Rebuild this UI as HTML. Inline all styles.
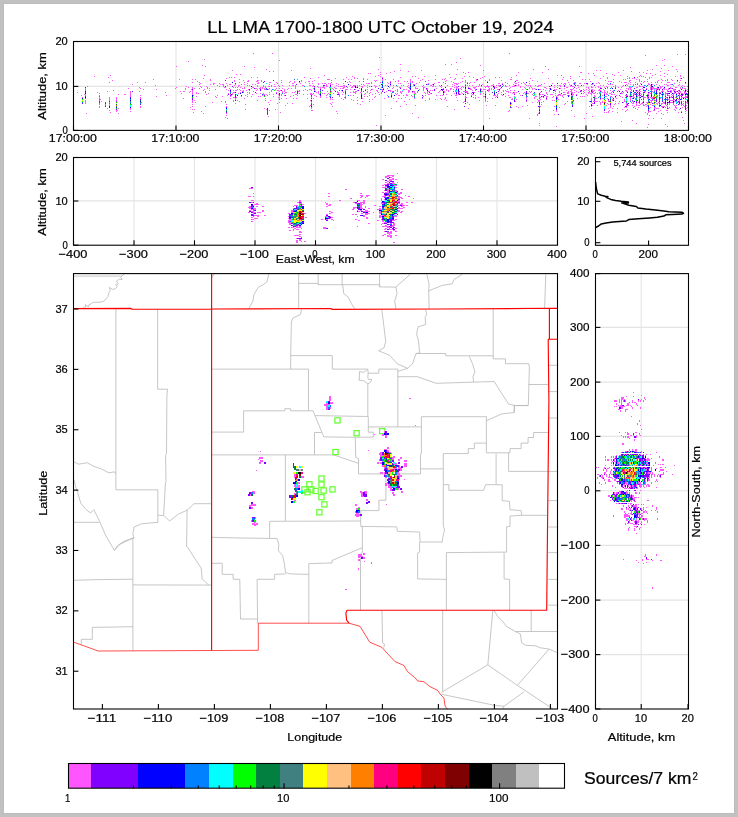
<!DOCTYPE html>
<html><head><meta charset="utf-8"><title>LL LMA 1700-1800 UTC October 19, 2024</title>
<style>html,body{margin:0;padding:0;background:#c1c1c1;}svg{display:block;font-family:"Liberation Sans",sans-serif;}text{font-family:"Liberation Sans",sans-serif;}</style></head><body>
<svg width="738" height="817" viewBox="0 0 738 817">
<rect x="0" y="0" width="738" height="817" fill="#c1c1c1"/>
<rect x="3" y="3" width="732" height="811" fill="#bcbcbc"/>
<rect x="4" y="4" width="730" height="809" fill="#ffffff"/>
<line x1="176.00" y1="41.50" x2="176.00" y2="130.40" stroke="#e4e4e4" stroke-width="1.1"/>
<line x1="278.50" y1="41.50" x2="278.50" y2="130.40" stroke="#e4e4e4" stroke-width="1.1"/>
<line x1="381.00" y1="41.50" x2="381.00" y2="130.40" stroke="#e4e4e4" stroke-width="1.1"/>
<line x1="483.50" y1="41.50" x2="483.50" y2="130.40" stroke="#e4e4e4" stroke-width="1.1"/>
<line x1="586.00" y1="41.50" x2="586.00" y2="130.40" stroke="#e4e4e4" stroke-width="1.1"/>
<line x1="73.50" y1="86.40" x2="688.50" y2="86.40" stroke="#e4e4e4" stroke-width="1.1"/>
<line x1="134.00" y1="157.50" x2="134.00" y2="245.20" stroke="#e4e4e4" stroke-width="1.1"/>
<line x1="194.50" y1="157.50" x2="194.50" y2="245.20" stroke="#e4e4e4" stroke-width="1.1"/>
<line x1="255.00" y1="157.50" x2="255.00" y2="245.20" stroke="#e4e4e4" stroke-width="1.1"/>
<line x1="315.50" y1="157.50" x2="315.50" y2="245.20" stroke="#e4e4e4" stroke-width="1.1"/>
<line x1="376.00" y1="157.50" x2="376.00" y2="245.20" stroke="#e4e4e4" stroke-width="1.1"/>
<line x1="436.50" y1="157.50" x2="436.50" y2="245.20" stroke="#e4e4e4" stroke-width="1.1"/>
<line x1="497.00" y1="157.50" x2="497.00" y2="245.20" stroke="#e4e4e4" stroke-width="1.1"/>
<line x1="73.50" y1="200.90" x2="557.50" y2="200.90" stroke="#e4e4e4" stroke-width="1.1"/>
<line x1="641.20" y1="273.60" x2="641.20" y2="709.00" stroke="#e4e4e4" stroke-width="1.1"/>
<line x1="595.50" y1="327.40" x2="688.50" y2="327.40" stroke="#e4e4e4" stroke-width="1.1"/>
<line x1="595.50" y1="382.10" x2="688.50" y2="382.10" stroke="#e4e4e4" stroke-width="1.1"/>
<line x1="595.50" y1="436.40" x2="688.50" y2="436.40" stroke="#e4e4e4" stroke-width="1.1"/>
<line x1="595.50" y1="490.80" x2="688.50" y2="490.80" stroke="#e4e4e4" stroke-width="1.1"/>
<line x1="595.50" y1="545.40" x2="688.50" y2="545.40" stroke="#e4e4e4" stroke-width="1.1"/>
<line x1="595.50" y1="600.10" x2="688.50" y2="600.10" stroke="#e4e4e4" stroke-width="1.1"/>
<line x1="595.50" y1="654.60" x2="688.50" y2="654.60" stroke="#e4e4e4" stroke-width="1.1"/>
<g fill="none" stroke-linejoin="round">
<path stroke="#b8b8b8" stroke-width="0.8" d="M73.5 276.1 L121.7 276.1 M124.6 273.9 L121.7 276.1 L120.8 277.5 L122.2 279.4 L119.3 279.2 L117.4 280.3 L116.5 282.2 L118.4 283.2 L117.0 285.1 L115.5 284.6 L117.4 286.5 L115.1 288.9 L112.7 289.3 L110.8 288.4 L109.4 287.4 L110.3 290.3 L108.9 292.7 L108.0 296.5 L106.1 298.8 L103.7 301.2 L100.4 302.2 L94.7 302.3 L92.3 302.6 L90.9 304.1 L89.0 304.5 L88.5 306.9 L86.6 305.5 L85.2 304.5 L86.1 306.4 L83.8 307.4 L83.0 308.6 M214.2 273.9 L212.0 277.6 M269.0 273.9 L266.9 281.9 L262.5 285.2 L258.2 287.3 L253.8 294.9 L252.8 301.4 L249.5 307.3 L248.5 308.6 M298.7 273.6 L298.7 308.6 M298.7 283.4 L317.8 283.4 L318.2 284.7 L379.6 284.7 L379.6 286.9 L395.9 287.1 M318.2 273.6 L318.2 284.7 M342.1 273.6 L342.1 284.7 L342.7 284.7 L343.8 293.8 L348.2 297.1 L351.4 303.6 L354.7 308.6 M379.6 273.6 L379.6 286.9 M410.2 274.3 L395.9 287.1 L397.1 293.7 L394.7 300.8 L395.9 308.6 M426.8 274.3 L428.0 279.5 L429.1 284.2 L428.7 290.9 L429.1 308.9 M462.3 274.3 L454.0 279.5 L452.1 283.8 L442.2 285.4 L428.7 290.9 M545.8 274.3 L544.6 308.3 M115.9 309.0 L115.9 489.8 L157.8 489.8 L157.8 522.7 M157.6 309.0 L157.6 389.2 L167.6 389.2 L166.9 395.0 L166.5 453.4 L165.6 455.6 L166.0 481.5 L165.4 483.7 L164.3 503.2 L163.7 515.1 M73.9 462.0 L78.7 464.2 L87.3 462.7 L93.8 466.4 L100.4 468.5 L109.0 472.9 L114.4 471.8 L115.9 474.0 M73.9 479.4 L75.4 485.9 L77.6 492.4 L80.8 503.2 L86.3 509.7 L90.6 513.0 L93.8 509.7 L99.3 520.6 L105.8 535.7 L114.4 550.3 L119.9 544.3 L128.5 540.2 L132.9 537.9 M73.5 522.3 L99.3 522.3 M157.8 515.1 L163.7 515.6 L169.7 521.0 L178.4 514.1 L187.1 510.2 L194.0 503.7 L211.6 503.7 M157.8 522.3 L141.5 523.8 L134.0 527.1 L132.9 533.6 L134.0 537.9 L132.9 538.5 M134.0 537.9 L124.2 541.2 L117.7 545.5 L114.4 550.3 M132.9 537.9 L132.9 650.5 M187.1 510.2 L186.6 546.6 L187.1 546.5 L194.7 558.4 L201.2 568.2 L202.2 579.0 L208.8 585.1 M73.5 580.3 L93.8 579.7 L132.9 579.2 M132.9 584.9 L211.6 585.1 M132.9 626.7 L92.3 627.4 L92.3 639.3 L81.3 639.3 L81.3 644.6 M211.6 369.1 L308.5 369.1 L308.5 410.8 M301.5 309.5 L300.5 314.4 L292.9 318.1 L291.4 322.0 L290.7 355.6 L290.7 369.1 M290.7 355.6 L332.3 355.6 L332.3 369.1 L367.8 369.1 L368.2 373.2 L367.8 377.6 L368.3 379.3 L372.0 379.6 L369.6 383.0 L367.8 383.7 L363.6 380.7 L358.5 380.0 L359.3 379.6 L359.5 371.5 L362.2 372.2 L364.6 371.9 L367.3 369.5 M368.2 373.2 L378.8 373.2 L378.8 369.1 L397.8 369.1 M367.8 383.7 L367.8 416.3 M381.8 309.5 L383.9 326.4 L385.7 341.5 L383.9 348.0 L378.5 350.7 L390.0 355.5 L397.1 363.7 L407.8 368.4 L412.5 363.7 L416.1 353.5 M407.8 368.4 L399.5 370.8 L397.8 371.2 M397.8 369.1 L397.8 426.9 M425.6 309.8 L426.8 313.9 L425.1 317.4 L425.6 324.5 L418.0 326.9 L416.6 334.0 L418.5 341.1 L419.6 353.0 L416.1 353.5 L445.7 353.5 L445.7 355.8 L493.2 355.8 M493.2 309.1 L493.2 358.9 L505.5 358.9 L505.5 363.7 L528.7 363.7 L529.4 367.2 L528.3 405.4 L514.5 405.6 M397.6 376.7 L417.3 376.7 L436.2 383.3 L494.3 381.5 L501.5 393.3 L508.6 404.0 L514.5 405.4 L514.2 412.5 M469.4 356.6 L473.0 364.9 L474.9 372.0 L473.0 376.7 L473.5 381.9 M528.7 384.5 L548.5 384.5 M211.6 432.1 L243.6 432.1 L243.6 410.8 L284.8 410.8 L284.8 408.7 L290.7 408.7 L290.7 410.8 L313.0 410.8 L323.8 436.9 L355.3 437.3 L373.3 437.1 L373.3 432.2 L368.3 432.2 L368.3 416.7 M315.2 415.6 L368.3 416.5 M314.5 432.5 L321.8 432.5 M314.5 432.5 L314.5 454.9 M211.6 454.9 L333.6 454.9 L358.5 463.3 M285.4 454.9 L285.4 521.0 M269.6 521.3 L360.7 521.0 M269.6 521.3 L269.6 538.0 M355.3 437.3 L355.7 457.5 L358.5 458.5 L358.5 473.9 L420.5 473.9 M360.7 510.6 L378.9 510.6 L378.9 500.2 L385.9 500.2 L385.9 473.9 M360.7 510.6 L360.7 525.7 L362.4 526.8 L362.4 552.0 L360.5 554.4 L360.5 610.2 M368.3 426.9 L421.4 426.9 M421.4 416.7 L486.4 416.7 L486.4 452.8 M421.4 416.7 L421.4 453.0 L420.5 455.0 L420.5 473.9 M420.3 468.9 L443.3 468.9 M486.4 420.8 L501.7 413.9 L514.2 412.5 L514.2 405.6 L528.1 405.6 M486.4 452.8 L510.0 452.8 L510.0 448.6 L521.1 448.6 L521.1 443.1 L528.1 443.1 L528.1 437.5 L533.6 437.5 L533.6 432.5 L548.6 432.5 M508.6 452.8 L508.6 471.4 L547.9 471.4 M443.3 453.6 L468.3 453.6 L468.3 448.6 L474.4 448.6 L474.4 443.1 L486.4 443.1 M443.3 453.6 L443.3 526.0 L444.5 530.0 L442.7 537.5 L442.2 542.0 M496.1 453.6 L496.1 484.7 M443.3 484.7 L448.9 484.7 L448.9 490.3 L483.6 490.3 L485.6 484.7 L502.2 484.7 L502.2 500.6 L509.4 501.4 L510.0 509.7 L521.1 510.6 L521.7 515.3 L547.7 515.3 M521.7 515.3 L510.0 516.1 L510.0 526.4 L506.6 526.9 L506.6 552.1 M360.7 526.4 L396.7 526.9 L397.5 531.3 L419.6 532.0 L420.1 542.0 L442.2 542.0 M419.6 542.0 L419.6 552.1 L417.6 553.1 L417.6 578.9 L446.4 579.4 M446.4 552.6 L446.4 610.2 M446.4 552.6 L506.6 552.1 M504.1 552.6 L504.1 578.9 L509.6 579.4 L509.6 610.2 M211.6 537.3 L239.3 538.0 L277.1 538.5 L278.8 544.6 L278.3 550.7 L282.7 555.6 L284.4 564.1 L285.6 572.7 L290.5 573.9 L308.8 574.4 M211.6 563.3 L222.2 563.3 L222.2 574.3 L233.2 574.4 L233.2 579.3 L239.8 579.3 L240.5 619.0 L257.6 619.0 M285.6 573.9 L274.6 574.4 L274.6 579.3 L257.1 579.3 L257.6 623.2 M308.8 623.2 L308.8 563.7 L332.0 562.9 L332.0 560.5 L362.4 547.6 M548.3 365.3 L557.5 365.3 M548.3 391.6 L557.5 391.6 M548.3 418.0 L557.5 418.0 M548.3 471.4 L557.5 471.4 M548.3 500.6 L557.5 500.6 M548.3 527.0 L557.5 527.0 M548.3 552.6 L557.5 552.6 M548.3 579.4 L557.5 579.4 M548.3 605.2 L557.5 605.2 M382.0 611.0 L382.6 642.8 L384.5 644.1 L383.8 647.5 M442.7 610.2 L442.7 691.7 M492.8 610.7 L487.8 664.9 M531.2 610.2 L531.2 631.5 M515.4 631.5 L557.5 631.5 M494.1 610.7 L497.8 616.5 L502.8 621.5 L506.6 626.5 L515.4 631.5 L520.4 634.0 L521.6 642.8 L525.4 645.3 L535.4 645.8 L540.4 647.8 L549.2 649.1 L557.5 652.8 M487.8 664.9 L441.4 692.4 M487.8 664.9 L517.4 685.4 L553.0 709.0 M549.2 649.1 L517.4 685.4 M441.4 694.2 L495.3 705.5 L504.1 706.2 L524.1 691.7 M504.1 706.2 L502.5 709.0"/>
<path stroke="#ff0000" stroke-width="0.7" d="M73.5 642.1 L98.2 651.0 L211.6 650.5 L258.3 650.3 L258.3 623.2 L349.0 623.2 M349.0 623.2 L360.0 626.3 L369.8 642.3 L381.7 647.2 L388.0 654.1 L395.0 661.6 L403.8 665.4 L407.6 671.6 L415.1 677.9 L417.6 680.9 L423.9 681.7 L430.1 686.7 L437.7 690.4 L440.2 694.2 L443.9 698.0 L445.2 706.7 L447.7 709.0"/>
<path stroke="#ff0000" stroke-width="1.15" d="M73.5 308.6 L131.0 308.4 L132.0 309.3 L212.0 309.0 L331.0 308.5 L332.0 309.3 L440.0 309.0 L549.4 308.3 L557.5 308.3 M211.6 273.6 L211.6 650.5 M549.4 308.3 L549.4 339.2 M557.5 339.2 L548.2 339.2 L548.9 400.0 L547.5 530.0 L546.7 610.2 L347.1 610.2 L345.9 612.9 L346.6 620.2 L349.0 623.2"/>
</g>
<g fill="none" stroke="#66ff33" stroke-width="1.25">
<rect x="334.9" y="417.8" width="5.2" height="5.2"/>
<rect x="354.0" y="430.6" width="5.2" height="5.2"/>
<rect x="332.9" y="449.5" width="5.2" height="5.2"/>
<rect x="318.9" y="475.9" width="5.2" height="5.2"/>
<rect x="306.8" y="481.7" width="5.2" height="5.2"/>
<rect x="318.9" y="482.0" width="5.2" height="5.2"/>
<rect x="301.8" y="486.8" width="5.2" height="5.2"/>
<rect x="308.7" y="486.8" width="5.2" height="5.2"/>
<rect x="313.0" y="488.4" width="5.2" height="5.2"/>
<rect x="321.0" y="487.9" width="5.2" height="5.2"/>
<rect x="329.9" y="486.8" width="5.2" height="5.2"/>
<rect x="304.9" y="489.6" width="5.2" height="5.2"/>
<rect x="318.9" y="494.6" width="5.2" height="5.2"/>
<rect x="321.8" y="501.8" width="5.2" height="5.2"/>
<rect x="316.8" y="509.7" width="5.2" height="5.2"/>
<rect x="379.6" y="428.5" width="5.2" height="5.2"/>
</g>
<g shape-rendering="crispEdges">
<path fill="#ff55ff" d="M77.00 92.00h1.00v1.00h-1.00zM81.00 95.00h1.00v1.00h-1.00zM82.00 97.00h1.00v1.00h-1.00zM84.00 94.00h1.00v1.00h-1.00zM85.00 88.00h1.00v1.00h-1.00zM85.00 89.00h1.00v1.00h-1.00zM85.00 90.00h1.00v1.00h-1.00zM85.00 100.00h1.00v1.00h-1.00zM85.00 101.00h1.00v1.00h-1.00zM85.00 102.00h1.00v1.00h-1.00zM85.00 103.00h1.00v1.00h-1.00zM86.00 113.00h1.00v1.00h-1.00zM87.00 86.00h1.00v1.00h-1.00zM94.00 76.00h1.00v1.00h-1.00zM97.00 92.00h1.00v1.00h-1.00zM99.00 93.00h1.00v1.00h-1.00zM99.00 95.00h1.00v1.00h-1.00zM99.00 103.00h1.00v1.00h-1.00zM99.00 104.00h1.00v1.00h-1.00zM99.00 106.00h1.00v1.00h-1.00zM99.00 107.00h1.00v1.00h-1.00zM100.00 99.00h1.00v1.00h-1.00zM101.00 101.00h1.00v1.00h-1.00zM107.00 91.00h1.00v1.00h-1.00zM107.00 108.00h1.00v1.00h-1.00zM108.00 77.00h1.00v1.00h-1.00zM109.00 82.00h1.00v1.00h-1.00zM109.00 97.00h1.00v1.00h-1.00zM109.00 98.00h1.00v1.00h-1.00zM109.00 99.00h1.00v1.00h-1.00zM109.00 100.00h1.00v1.00h-1.00zM109.00 105.00h1.00v1.00h-1.00zM109.00 110.00h1.00v1.00h-1.00zM110.00 75.00h1.00v1.00h-1.00zM110.00 112.00h1.00v1.00h-1.00zM112.00 80.00h1.00v1.00h-1.00zM113.00 90.00h1.00v1.00h-1.00zM116.00 97.00h1.00v1.00h-1.00zM116.00 98.00h1.00v1.00h-1.00zM116.00 99.00h1.00v1.00h-1.00zM116.00 100.00h1.00v1.00h-1.00zM116.00 110.00h1.00v1.00h-1.00zM116.00 111.00h1.00v1.00h-1.00zM117.00 110.00h1.00v1.00h-1.00zM118.00 94.00h1.00v1.00h-1.00zM118.00 108.00h1.00v1.00h-1.00zM118.00 113.00h1.00v1.00h-1.00zM124.00 94.00h1.00v1.00h-1.00zM125.00 94.00h1.00v1.00h-1.00zM128.00 88.00h1.00v1.00h-1.00zM130.00 91.00h1.00v1.00h-1.00zM130.00 92.00h1.00v1.00h-1.00zM130.00 93.00h1.00v1.00h-1.00zM130.00 94.00h1.00v1.00h-1.00zM130.00 95.00h1.00v1.00h-1.00zM130.00 96.00h1.00v1.00h-1.00zM130.00 108.00h1.00v1.00h-1.00zM130.00 109.00h1.00v1.00h-1.00zM130.00 111.00h1.00v1.00h-1.00zM131.00 104.00h1.00v1.00h-1.00zM132.00 84.00h1.00v1.00h-1.00zM137.00 82.00h1.00v1.00h-1.00zM139.00 87.00h1.00v1.00h-1.00zM139.00 91.00h1.00v1.00h-1.00zM140.00 88.00h1.00v1.00h-1.00zM140.00 95.00h1.00v1.00h-1.00zM140.00 97.00h1.00v1.00h-1.00zM140.00 98.00h1.00v1.00h-1.00zM140.00 106.00h1.00v1.00h-1.00zM140.00 107.00h1.00v1.00h-1.00zM141.00 102.00h1.00v1.00h-1.00zM143.00 89.00h1.00v1.00h-1.00zM145.00 82.00h1.00v1.00h-1.00zM153.00 79.00h1.00v1.00h-1.00zM155.00 85.00h1.00v1.00h-1.00zM156.00 89.00h1.00v1.00h-1.00zM156.00 96.00h1.00v1.00h-1.00zM165.00 92.00h1.00v1.00h-1.00zM166.00 95.00h1.00v1.00h-1.00zM175.00 88.00h1.00v1.00h-1.00zM176.00 66.00h1.00v1.00h-1.00zM176.00 87.00h1.00v1.00h-1.00zM179.00 79.00h1.00v1.00h-1.00zM180.00 91.00h1.00v1.00h-1.00zM181.00 93.00h1.00v1.00h-1.00zM183.00 91.00h1.00v1.00h-1.00zM183.00 98.00h1.00v1.00h-1.00zM184.00 91.00h1.00v1.00h-1.00zM185.00 88.00h1.00v1.00h-1.00zM185.00 89.00h1.00v1.00h-1.00zM186.00 86.00h1.00v1.00h-1.00zM188.00 61.00h1.00v1.00h-1.00zM188.00 87.00h1.00v1.00h-1.00zM189.00 92.00h1.00v1.00h-1.00zM190.00 91.00h1.00v1.00h-1.00zM190.00 107.00h1.00v1.00h-1.00zM191.00 89.00h1.00v1.00h-1.00zM192.00 79.00h1.00v1.00h-1.00zM192.00 82.00h1.00v1.00h-1.00zM192.00 87.00h1.00v1.00h-1.00zM192.00 88.00h1.00v1.00h-1.00zM192.00 90.00h1.00v1.00h-1.00zM192.00 91.00h1.00v1.00h-1.00zM192.00 92.00h1.00v1.00h-1.00zM192.00 93.00h1.00v1.00h-1.00zM192.00 94.00h1.00v1.00h-1.00zM192.00 100.00h1.00v1.00h-1.00zM192.00 101.00h1.00v1.00h-1.00zM192.00 102.00h1.00v1.00h-1.00zM192.00 104.00h1.00v1.00h-1.00zM192.00 106.00h1.00v1.00h-1.00zM192.00 109.00h1.00v1.00h-1.00zM193.00 95.00h1.00v1.00h-1.00zM193.00 112.00h1.00v1.00h-1.00zM194.00 88.00h1.00v1.00h-1.00zM194.00 100.00h1.00v1.00h-1.00zM194.00 109.00h1.00v1.00h-1.00zM195.00 79.00h1.00v1.00h-1.00zM195.00 102.00h1.00v1.00h-1.00zM196.00 92.00h1.00v1.00h-1.00zM196.00 93.00h1.00v1.00h-1.00zM196.00 96.00h1.00v1.00h-1.00zM197.00 81.00h1.00v1.00h-1.00zM198.00 93.00h1.00v1.00h-1.00zM199.00 82.00h1.00v1.00h-1.00zM199.00 84.00h1.00v1.00h-1.00zM199.00 88.00h1.00v1.00h-1.00zM200.00 83.00h1.00v1.00h-1.00zM200.00 86.00h1.00v1.00h-1.00zM201.00 87.00h1.00v1.00h-1.00zM201.00 111.00h1.00v1.00h-1.00zM202.00 65.00h1.00v1.00h-1.00zM203.00 78.00h1.00v1.00h-1.00zM203.00 90.00h1.00v1.00h-1.00zM203.00 113.00h1.00v1.00h-1.00zM204.00 59.00h1.00v1.00h-1.00zM204.00 75.00h1.00v1.00h-1.00zM204.00 89.00h1.00v1.00h-1.00zM205.00 66.00h1.00v1.00h-1.00zM205.00 91.00h1.00v1.00h-1.00zM205.00 92.00h1.00v1.00h-1.00zM205.00 106.00h1.00v1.00h-1.00zM206.00 86.00h1.00v1.00h-1.00zM206.00 94.00h1.00v1.00h-1.00zM207.00 87.00h1.00v1.00h-1.00zM207.00 88.00h1.00v1.00h-1.00zM208.00 93.00h1.00v1.00h-1.00zM209.00 88.00h1.00v1.00h-1.00zM209.00 90.00h1.00v1.00h-1.00zM210.00 79.00h1.00v1.00h-1.00zM210.00 80.00h1.00v1.00h-1.00zM210.00 84.00h1.00v1.00h-1.00zM212.00 102.00h1.00v1.00h-1.00zM213.00 83.00h1.00v1.00h-1.00zM213.00 84.00h1.00v1.00h-1.00zM214.00 83.00h1.00v1.00h-1.00zM215.00 89.00h1.00v1.00h-1.00zM215.00 96.00h1.00v1.00h-1.00zM216.00 97.00h1.00v1.00h-1.00zM217.00 85.00h1.00v1.00h-1.00zM217.00 95.00h1.00v1.00h-1.00zM219.00 83.00h1.00v1.00h-1.00zM219.00 86.00h1.00v1.00h-1.00zM220.00 84.00h1.00v1.00h-1.00zM221.00 101.00h1.00v1.00h-1.00zM222.00 84.00h1.00v1.00h-1.00zM222.00 96.00h1.00v1.00h-1.00zM223.00 84.00h1.00v1.00h-1.00zM223.00 85.00h1.00v1.00h-1.00zM223.00 86.00h1.00v1.00h-1.00zM224.00 87.00h1.00v1.00h-1.00zM225.00 87.00h1.00v1.00h-1.00zM225.00 101.00h1.00v1.00h-1.00zM225.00 102.00h1.00v1.00h-1.00zM225.00 117.00h1.00v1.00h-1.00zM226.00 78.00h1.00v1.00h-1.00zM226.00 83.00h1.00v1.00h-1.00zM226.00 89.00h1.00v1.00h-1.00zM226.00 104.00h1.00v1.00h-1.00zM226.00 106.00h1.00v1.00h-1.00zM226.00 113.00h1.00v1.00h-1.00zM226.00 115.00h1.00v1.00h-1.00zM227.00 85.00h1.00v1.00h-1.00zM227.00 95.00h1.00v1.00h-1.00zM227.00 118.00h1.00v1.00h-1.00zM228.00 90.00h1.00v1.00h-1.00zM228.00 93.00h1.00v1.00h-1.00zM229.00 77.00h1.00v1.00h-1.00zM229.00 84.00h1.00v1.00h-1.00zM229.00 88.00h1.00v1.00h-1.00zM230.00 84.00h1.00v1.00h-1.00zM230.00 89.00h1.00v1.00h-1.00zM230.00 94.00h1.00v1.00h-1.00zM230.00 96.00h1.00v1.00h-1.00zM230.00 98.00h1.00v1.00h-1.00zM231.00 77.00h1.00v1.00h-1.00zM231.00 95.00h1.00v1.00h-1.00zM232.00 70.00h1.00v1.00h-1.00zM232.00 93.00h1.00v1.00h-1.00zM232.00 94.00h1.00v1.00h-1.00zM233.00 87.00h1.00v1.00h-1.00zM233.00 90.00h1.00v1.00h-1.00zM233.00 92.00h1.00v1.00h-1.00zM233.00 97.00h1.00v1.00h-1.00zM233.00 100.00h1.00v1.00h-1.00zM233.00 101.00h1.00v1.00h-1.00zM234.00 77.00h1.00v1.00h-1.00zM234.00 80.00h1.00v1.00h-1.00zM234.00 81.00h1.00v1.00h-1.00zM234.00 85.00h1.00v1.00h-1.00zM234.00 92.00h1.00v1.00h-1.00zM234.00 97.00h1.00v1.00h-1.00zM235.00 84.00h1.00v1.00h-1.00zM235.00 87.00h1.00v1.00h-1.00zM235.00 90.00h1.00v1.00h-1.00zM235.00 98.00h1.00v1.00h-1.00zM235.00 99.00h1.00v1.00h-1.00zM235.00 103.00h1.00v1.00h-1.00zM236.00 74.00h1.00v1.00h-1.00zM236.00 90.00h1.00v1.00h-1.00zM236.00 97.00h1.00v1.00h-1.00zM237.00 87.00h1.00v1.00h-1.00zM237.00 89.00h1.00v1.00h-1.00zM237.00 100.00h1.00v1.00h-1.00zM238.00 85.00h1.00v1.00h-1.00zM238.00 86.00h1.00v1.00h-1.00zM238.00 93.00h1.00v1.00h-1.00zM239.00 79.00h1.00v1.00h-1.00zM239.00 82.00h1.00v1.00h-1.00zM239.00 85.00h1.00v1.00h-1.00zM239.00 89.00h1.00v1.00h-1.00zM239.00 101.00h1.00v1.00h-1.00zM240.00 74.00h1.00v1.00h-1.00zM240.00 87.00h1.00v1.00h-1.00zM240.00 90.00h1.00v1.00h-1.00zM240.00 92.00h1.00v1.00h-1.00zM241.00 84.00h1.00v1.00h-1.00zM241.00 96.00h1.00v1.00h-1.00zM242.00 88.00h1.00v1.00h-1.00zM242.00 91.00h1.00v1.00h-1.00zM243.00 80.00h1.00v1.00h-1.00zM243.00 90.00h1.00v1.00h-1.00zM243.00 91.00h1.00v1.00h-1.00zM243.00 92.00h1.00v1.00h-1.00zM244.00 66.00h1.00v1.00h-1.00zM244.00 82.00h1.00v1.00h-1.00zM244.00 84.00h1.00v1.00h-1.00zM244.00 87.00h1.00v1.00h-1.00zM244.00 88.00h1.00v1.00h-1.00zM244.00 98.00h1.00v1.00h-1.00zM245.00 95.00h1.00v1.00h-1.00zM245.00 104.00h1.00v1.00h-1.00zM245.00 109.00h1.00v1.00h-1.00zM246.00 90.00h1.00v1.00h-1.00zM247.00 81.00h1.00v1.00h-1.00zM247.00 83.00h1.00v1.00h-1.00zM247.00 85.00h1.00v1.00h-1.00zM247.00 92.00h1.00v1.00h-1.00zM247.00 94.00h1.00v1.00h-1.00zM247.00 96.00h1.00v1.00h-1.00zM248.00 80.00h1.00v1.00h-1.00zM248.00 81.00h1.00v1.00h-1.00zM248.00 89.00h1.00v1.00h-1.00zM249.00 85.00h1.00v1.00h-1.00zM249.00 90.00h1.00v1.00h-1.00zM249.00 92.00h1.00v1.00h-1.00zM249.00 93.00h1.00v1.00h-1.00zM251.00 77.00h1.00v1.00h-1.00zM251.00 88.00h1.00v1.00h-1.00zM251.00 96.00h1.00v1.00h-1.00zM252.00 84.00h1.00v1.00h-1.00zM252.00 87.00h1.00v1.00h-1.00zM252.00 94.00h1.00v1.00h-1.00zM253.00 53.00h1.00v1.00h-1.00zM253.00 87.00h1.00v1.00h-1.00zM253.00 91.00h1.00v1.00h-1.00zM254.00 67.00h1.00v1.00h-1.00zM255.00 84.00h1.00v1.00h-1.00zM255.00 88.00h1.00v1.00h-1.00zM256.00 81.00h1.00v1.00h-1.00zM256.00 88.00h1.00v1.00h-1.00zM256.00 90.00h1.00v1.00h-1.00zM256.00 93.00h1.00v1.00h-1.00zM257.00 77.00h1.00v1.00h-1.00zM257.00 80.00h1.00v1.00h-1.00zM257.00 81.00h1.00v1.00h-1.00zM257.00 83.00h1.00v1.00h-1.00zM257.00 85.00h1.00v1.00h-1.00zM257.00 86.00h1.00v1.00h-1.00zM257.00 89.00h1.00v1.00h-1.00zM257.00 100.00h1.00v1.00h-1.00zM258.00 80.00h1.00v1.00h-1.00zM258.00 82.00h1.00v1.00h-1.00zM258.00 83.00h1.00v1.00h-1.00zM258.00 96.00h1.00v1.00h-1.00zM259.00 88.00h1.00v1.00h-1.00zM260.00 87.00h1.00v1.00h-1.00zM260.00 88.00h1.00v1.00h-1.00zM260.00 93.00h1.00v1.00h-1.00zM260.00 96.00h1.00v1.00h-1.00zM261.00 80.00h1.00v1.00h-1.00zM261.00 81.00h1.00v1.00h-1.00zM262.00 87.00h1.00v1.00h-1.00zM262.00 88.00h1.00v1.00h-1.00zM262.00 95.00h1.00v1.00h-1.00zM263.00 85.00h1.00v1.00h-1.00zM263.00 86.00h1.00v1.00h-1.00zM263.00 93.00h1.00v1.00h-1.00zM263.00 94.00h1.00v1.00h-1.00zM264.00 88.00h1.00v1.00h-1.00zM264.00 89.00h1.00v1.00h-1.00zM264.00 94.00h1.00v1.00h-1.00zM264.00 108.00h1.00v1.00h-1.00zM265.00 86.00h1.00v1.00h-1.00zM265.00 87.00h1.00v1.00h-1.00zM265.00 89.00h1.00v1.00h-1.00zM265.00 98.00h1.00v1.00h-1.00zM265.00 100.00h1.00v1.00h-1.00zM266.00 69.00h1.00v1.00h-1.00zM266.00 94.00h1.00v1.00h-1.00zM266.00 109.00h1.00v1.00h-1.00zM267.00 95.00h1.00v1.00h-1.00zM268.00 86.00h1.00v1.00h-1.00zM268.00 89.00h1.00v1.00h-1.00zM268.00 102.00h1.00v1.00h-1.00zM268.00 116.00h1.00v1.00h-1.00zM269.00 71.00h1.00v1.00h-1.00zM269.00 82.00h1.00v1.00h-1.00zM269.00 84.00h1.00v1.00h-1.00zM269.00 86.00h1.00v1.00h-1.00zM269.00 88.00h1.00v1.00h-1.00zM269.00 92.00h1.00v1.00h-1.00zM269.00 94.00h1.00v1.00h-1.00zM269.00 104.00h1.00v1.00h-1.00zM269.00 110.00h1.00v1.00h-1.00zM270.00 82.00h1.00v1.00h-1.00zM270.00 100.00h1.00v1.00h-1.00zM271.00 85.00h1.00v1.00h-1.00zM271.00 86.00h1.00v1.00h-1.00zM271.00 90.00h1.00v1.00h-1.00zM271.00 91.00h1.00v1.00h-1.00zM272.00 53.00h1.00v1.00h-1.00zM273.00 71.00h1.00v1.00h-1.00zM273.00 89.00h1.00v1.00h-1.00zM273.00 94.00h1.00v1.00h-1.00zM273.00 96.00h1.00v1.00h-1.00zM274.00 84.00h1.00v1.00h-1.00zM274.00 86.00h1.00v1.00h-1.00zM275.00 86.00h1.00v1.00h-1.00zM275.00 89.00h1.00v1.00h-1.00zM275.00 109.00h1.00v1.00h-1.00zM276.00 82.00h1.00v1.00h-1.00zM276.00 88.00h1.00v1.00h-1.00zM276.00 92.00h1.00v1.00h-1.00zM277.00 83.00h1.00v1.00h-1.00zM277.00 90.00h1.00v1.00h-1.00zM277.00 103.00h1.00v1.00h-1.00zM278.00 85.00h1.00v1.00h-1.00zM278.00 90.00h1.00v1.00h-1.00zM278.00 94.00h1.00v1.00h-1.00zM278.00 97.00h1.00v1.00h-1.00zM279.00 60.00h1.00v1.00h-1.00zM279.00 86.00h1.00v1.00h-1.00zM279.00 88.00h1.00v1.00h-1.00zM279.00 91.00h1.00v1.00h-1.00zM279.00 102.00h1.00v1.00h-1.00zM280.00 90.00h1.00v1.00h-1.00zM280.00 112.00h1.00v1.00h-1.00zM281.00 80.00h1.00v1.00h-1.00zM281.00 82.00h1.00v1.00h-1.00zM281.00 94.00h1.00v1.00h-1.00zM281.00 95.00h1.00v1.00h-1.00zM281.00 98.00h1.00v1.00h-1.00zM282.00 85.00h1.00v1.00h-1.00zM282.00 88.00h1.00v1.00h-1.00zM282.00 91.00h1.00v1.00h-1.00zM282.00 92.00h1.00v1.00h-1.00zM284.00 89.00h1.00v1.00h-1.00zM284.00 90.00h1.00v1.00h-1.00zM284.00 91.00h1.00v1.00h-1.00zM284.00 93.00h1.00v1.00h-1.00zM284.00 95.00h1.00v1.00h-1.00zM285.00 92.00h1.00v1.00h-1.00zM285.00 105.00h1.00v1.00h-1.00zM286.00 92.00h1.00v1.00h-1.00zM286.00 98.00h1.00v1.00h-1.00zM287.00 89.00h1.00v1.00h-1.00zM287.00 103.00h1.00v1.00h-1.00zM288.00 88.00h1.00v1.00h-1.00zM289.00 82.00h1.00v1.00h-1.00zM289.00 85.00h1.00v1.00h-1.00zM290.00 81.00h1.00v1.00h-1.00zM290.00 96.00h1.00v1.00h-1.00zM291.00 70.00h1.00v1.00h-1.00zM291.00 88.00h1.00v1.00h-1.00zM292.00 83.00h1.00v1.00h-1.00zM292.00 85.00h1.00v1.00h-1.00zM292.00 92.00h1.00v1.00h-1.00zM292.00 103.00h1.00v1.00h-1.00zM293.00 83.00h1.00v1.00h-1.00zM293.00 85.00h1.00v1.00h-1.00zM293.00 95.00h1.00v1.00h-1.00zM293.00 98.00h1.00v1.00h-1.00zM294.00 81.00h1.00v1.00h-1.00zM294.00 82.00h1.00v1.00h-1.00zM294.00 92.00h1.00v1.00h-1.00zM295.00 85.00h1.00v1.00h-1.00zM295.00 86.00h1.00v1.00h-1.00zM295.00 87.00h1.00v1.00h-1.00zM295.00 88.00h1.00v1.00h-1.00zM295.00 91.00h1.00v1.00h-1.00zM295.00 94.00h1.00v1.00h-1.00zM296.00 94.00h1.00v1.00h-1.00zM296.00 98.00h1.00v1.00h-1.00zM297.00 79.00h1.00v1.00h-1.00zM297.00 90.00h1.00v1.00h-1.00zM297.00 95.00h1.00v1.00h-1.00zM298.00 91.00h1.00v1.00h-1.00zM299.00 82.00h1.00v1.00h-1.00zM299.00 90.00h1.00v1.00h-1.00zM299.00 91.00h1.00v1.00h-1.00zM299.00 93.00h1.00v1.00h-1.00zM300.00 83.00h1.00v1.00h-1.00zM301.00 80.00h1.00v1.00h-1.00zM301.00 81.00h1.00v1.00h-1.00zM302.00 85.00h1.00v1.00h-1.00zM303.00 85.00h1.00v1.00h-1.00zM303.00 90.00h1.00v1.00h-1.00zM303.00 94.00h1.00v1.00h-1.00zM304.00 77.00h1.00v1.00h-1.00zM305.00 82.00h1.00v1.00h-1.00zM305.00 89.00h1.00v1.00h-1.00zM307.00 90.00h1.00v1.00h-1.00zM307.00 94.00h1.00v1.00h-1.00zM307.00 98.00h1.00v1.00h-1.00zM308.00 81.00h1.00v1.00h-1.00zM309.00 81.00h1.00v1.00h-1.00zM309.00 83.00h1.00v1.00h-1.00zM309.00 85.00h1.00v1.00h-1.00zM309.00 89.00h1.00v1.00h-1.00zM309.00 106.00h1.00v1.00h-1.00zM310.00 68.00h1.00v1.00h-1.00zM310.00 78.00h1.00v1.00h-1.00zM310.00 85.00h1.00v1.00h-1.00zM310.00 89.00h1.00v1.00h-1.00zM310.00 93.00h1.00v1.00h-1.00zM310.00 94.00h1.00v1.00h-1.00zM310.00 100.00h1.00v1.00h-1.00zM310.00 105.00h1.00v1.00h-1.00zM311.00 90.00h1.00v1.00h-1.00zM311.00 93.00h1.00v1.00h-1.00zM311.00 94.00h1.00v1.00h-1.00zM311.00 107.00h1.00v1.00h-1.00zM311.00 108.00h1.00v1.00h-1.00zM311.00 110.00h1.00v1.00h-1.00zM312.00 81.00h1.00v1.00h-1.00zM312.00 83.00h1.00v1.00h-1.00zM312.00 86.00h1.00v1.00h-1.00zM312.00 94.00h1.00v1.00h-1.00zM312.00 110.00h1.00v1.00h-1.00zM313.00 85.00h1.00v1.00h-1.00zM313.00 88.00h1.00v1.00h-1.00zM313.00 93.00h1.00v1.00h-1.00zM313.00 98.00h1.00v1.00h-1.00zM313.00 104.00h1.00v1.00h-1.00zM314.00 80.00h1.00v1.00h-1.00zM314.00 87.00h1.00v1.00h-1.00zM314.00 90.00h1.00v1.00h-1.00zM314.00 95.00h1.00v1.00h-1.00zM315.00 91.00h1.00v1.00h-1.00zM316.00 92.00h1.00v1.00h-1.00zM316.00 96.00h1.00v1.00h-1.00zM317.00 86.00h1.00v1.00h-1.00zM318.00 77.00h1.00v1.00h-1.00zM318.00 83.00h1.00v1.00h-1.00zM318.00 84.00h1.00v1.00h-1.00zM318.00 87.00h1.00v1.00h-1.00zM318.00 91.00h1.00v1.00h-1.00zM318.00 92.00h1.00v1.00h-1.00zM318.00 93.00h1.00v1.00h-1.00zM319.00 94.00h1.00v1.00h-1.00zM320.00 87.00h1.00v1.00h-1.00zM320.00 88.00h1.00v1.00h-1.00zM320.00 96.00h1.00v1.00h-1.00zM320.00 97.00h1.00v1.00h-1.00zM322.00 83.00h1.00v1.00h-1.00zM322.00 87.00h1.00v1.00h-1.00zM322.00 93.00h1.00v1.00h-1.00zM323.00 86.00h1.00v1.00h-1.00zM323.00 87.00h1.00v1.00h-1.00zM324.00 75.00h1.00v1.00h-1.00zM324.00 83.00h1.00v1.00h-1.00zM324.00 87.00h1.00v1.00h-1.00zM324.00 88.00h1.00v1.00h-1.00zM324.00 93.00h1.00v1.00h-1.00zM325.00 83.00h1.00v1.00h-1.00zM326.00 84.00h1.00v1.00h-1.00zM326.00 85.00h1.00v1.00h-1.00zM326.00 86.00h1.00v1.00h-1.00zM326.00 95.00h1.00v1.00h-1.00zM326.00 97.00h1.00v1.00h-1.00zM327.00 79.00h1.00v1.00h-1.00zM327.00 86.00h1.00v1.00h-1.00zM327.00 91.00h1.00v1.00h-1.00zM327.00 94.00h1.00v1.00h-1.00zM328.00 79.00h1.00v1.00h-1.00zM328.00 83.00h1.00v1.00h-1.00zM328.00 93.00h1.00v1.00h-1.00zM329.00 79.00h1.00v1.00h-1.00zM329.00 87.00h1.00v1.00h-1.00zM329.00 94.00h1.00v1.00h-1.00zM329.00 96.00h1.00v1.00h-1.00zM330.00 83.00h1.00v1.00h-1.00zM330.00 84.00h1.00v1.00h-1.00zM330.00 98.00h1.00v1.00h-1.00zM330.00 99.00h1.00v1.00h-1.00zM330.00 103.00h1.00v1.00h-1.00zM331.00 80.00h1.00v1.00h-1.00zM331.00 82.00h1.00v1.00h-1.00zM331.00 104.00h1.00v1.00h-1.00zM332.00 84.00h1.00v1.00h-1.00zM332.00 88.00h1.00v1.00h-1.00zM332.00 99.00h1.00v1.00h-1.00zM332.00 102.00h1.00v1.00h-1.00zM332.00 106.00h1.00v1.00h-1.00zM333.00 89.00h1.00v1.00h-1.00zM333.00 93.00h1.00v1.00h-1.00zM334.00 87.00h1.00v1.00h-1.00zM334.00 90.00h1.00v1.00h-1.00zM335.00 78.00h1.00v1.00h-1.00zM335.00 88.00h1.00v1.00h-1.00zM336.00 83.00h1.00v1.00h-1.00zM336.00 85.00h1.00v1.00h-1.00zM336.00 88.00h1.00v1.00h-1.00zM336.00 111.00h1.00v1.00h-1.00zM337.00 91.00h1.00v1.00h-1.00zM337.00 92.00h1.00v1.00h-1.00zM337.00 113.00h1.00v1.00h-1.00zM338.00 84.00h1.00v1.00h-1.00zM338.00 86.00h1.00v1.00h-1.00zM338.00 92.00h1.00v1.00h-1.00zM338.00 93.00h1.00v1.00h-1.00zM339.00 94.00h1.00v1.00h-1.00zM339.00 95.00h1.00v1.00h-1.00zM339.00 96.00h1.00v1.00h-1.00zM340.00 86.00h1.00v1.00h-1.00zM340.00 88.00h1.00v1.00h-1.00zM341.00 86.00h1.00v1.00h-1.00zM341.00 90.00h1.00v1.00h-1.00zM341.00 98.00h1.00v1.00h-1.00zM342.00 86.00h1.00v1.00h-1.00zM342.00 88.00h1.00v1.00h-1.00zM342.00 91.00h1.00v1.00h-1.00zM342.00 94.00h1.00v1.00h-1.00zM343.00 79.00h1.00v1.00h-1.00zM343.00 83.00h1.00v1.00h-1.00zM343.00 85.00h1.00v1.00h-1.00zM343.00 87.00h1.00v1.00h-1.00zM343.00 88.00h1.00v1.00h-1.00zM343.00 92.00h1.00v1.00h-1.00zM343.00 99.00h1.00v1.00h-1.00zM344.00 85.00h1.00v1.00h-1.00zM344.00 86.00h1.00v1.00h-1.00zM344.00 87.00h1.00v1.00h-1.00zM344.00 97.00h1.00v1.00h-1.00zM345.00 89.00h1.00v1.00h-1.00zM345.00 90.00h1.00v1.00h-1.00zM345.00 98.00h1.00v1.00h-1.00zM346.00 77.00h1.00v1.00h-1.00zM346.00 89.00h1.00v1.00h-1.00zM347.00 82.00h1.00v1.00h-1.00zM347.00 87.00h1.00v1.00h-1.00zM347.00 89.00h1.00v1.00h-1.00zM348.00 79.00h1.00v1.00h-1.00zM349.00 81.00h1.00v1.00h-1.00zM350.00 82.00h1.00v1.00h-1.00zM350.00 85.00h1.00v1.00h-1.00zM350.00 89.00h1.00v1.00h-1.00zM350.00 92.00h1.00v1.00h-1.00zM350.00 95.00h1.00v1.00h-1.00zM351.00 79.00h1.00v1.00h-1.00zM351.00 87.00h1.00v1.00h-1.00zM351.00 99.00h1.00v1.00h-1.00zM352.00 76.00h1.00v1.00h-1.00zM352.00 86.00h1.00v1.00h-1.00zM352.00 87.00h1.00v1.00h-1.00zM353.00 85.00h1.00v1.00h-1.00zM353.00 91.00h1.00v1.00h-1.00zM353.00 92.00h1.00v1.00h-1.00zM353.00 95.00h1.00v1.00h-1.00zM353.00 100.00h1.00v1.00h-1.00zM354.00 77.00h1.00v1.00h-1.00zM354.00 78.00h1.00v1.00h-1.00zM354.00 85.00h1.00v1.00h-1.00zM354.00 86.00h1.00v1.00h-1.00zM354.00 92.00h1.00v1.00h-1.00zM355.00 85.00h1.00v1.00h-1.00zM355.00 89.00h1.00v1.00h-1.00zM355.00 91.00h1.00v1.00h-1.00zM355.00 92.00h1.00v1.00h-1.00zM355.00 93.00h1.00v1.00h-1.00zM356.00 87.00h1.00v1.00h-1.00zM356.00 91.00h1.00v1.00h-1.00zM357.00 78.00h1.00v1.00h-1.00zM357.00 85.00h1.00v1.00h-1.00zM357.00 86.00h1.00v1.00h-1.00zM357.00 90.00h1.00v1.00h-1.00zM357.00 97.00h1.00v1.00h-1.00zM357.00 100.00h1.00v1.00h-1.00zM357.00 103.00h1.00v1.00h-1.00zM359.00 81.00h1.00v1.00h-1.00zM359.00 85.00h1.00v1.00h-1.00zM359.00 88.00h1.00v1.00h-1.00zM360.00 92.00h1.00v1.00h-1.00zM360.00 104.00h1.00v1.00h-1.00zM361.00 84.00h1.00v1.00h-1.00zM361.00 86.00h1.00v1.00h-1.00zM362.00 86.00h1.00v1.00h-1.00zM362.00 87.00h1.00v1.00h-1.00zM362.00 98.00h1.00v1.00h-1.00zM362.00 101.00h1.00v1.00h-1.00zM363.00 78.00h1.00v1.00h-1.00zM363.00 79.00h1.00v1.00h-1.00zM363.00 84.00h1.00v1.00h-1.00zM364.00 85.00h1.00v1.00h-1.00zM364.00 94.00h1.00v1.00h-1.00zM364.00 96.00h1.00v1.00h-1.00zM365.00 89.00h1.00v1.00h-1.00zM365.00 93.00h1.00v1.00h-1.00zM366.00 83.00h1.00v1.00h-1.00zM367.00 79.00h1.00v1.00h-1.00zM367.00 85.00h1.00v1.00h-1.00zM367.00 87.00h1.00v1.00h-1.00zM367.00 89.00h1.00v1.00h-1.00zM367.00 91.00h1.00v1.00h-1.00zM367.00 92.00h1.00v1.00h-1.00zM367.00 96.00h1.00v1.00h-1.00zM368.00 73.00h1.00v1.00h-1.00zM368.00 83.00h1.00v1.00h-1.00zM369.00 83.00h1.00v1.00h-1.00zM369.00 86.00h1.00v1.00h-1.00zM369.00 93.00h1.00v1.00h-1.00zM369.00 95.00h1.00v1.00h-1.00zM369.00 99.00h1.00v1.00h-1.00zM369.00 101.00h1.00v1.00h-1.00zM370.00 73.00h1.00v1.00h-1.00zM370.00 90.00h1.00v1.00h-1.00zM370.00 92.00h1.00v1.00h-1.00zM371.00 82.00h1.00v1.00h-1.00zM371.00 83.00h1.00v1.00h-1.00zM372.00 89.00h1.00v1.00h-1.00zM372.00 94.00h1.00v1.00h-1.00zM372.00 99.00h1.00v1.00h-1.00zM374.00 80.00h1.00v1.00h-1.00zM374.00 85.00h1.00v1.00h-1.00zM374.00 97.00h1.00v1.00h-1.00zM375.00 76.00h1.00v1.00h-1.00zM375.00 81.00h1.00v1.00h-1.00zM375.00 86.00h1.00v1.00h-1.00zM375.00 87.00h1.00v1.00h-1.00zM375.00 93.00h1.00v1.00h-1.00zM375.00 96.00h1.00v1.00h-1.00zM376.00 80.00h1.00v1.00h-1.00zM376.00 86.00h1.00v1.00h-1.00zM376.00 90.00h1.00v1.00h-1.00zM376.00 125.00h1.00v1.00h-1.00zM377.00 90.00h1.00v1.00h-1.00zM377.00 91.00h1.00v1.00h-1.00zM378.00 69.00h1.00v1.00h-1.00zM378.00 75.00h1.00v1.00h-1.00zM378.00 92.00h1.00v1.00h-1.00zM379.00 57.00h1.00v1.00h-1.00zM379.00 85.00h1.00v1.00h-1.00zM379.00 94.00h1.00v1.00h-1.00zM380.00 72.00h1.00v1.00h-1.00zM380.00 74.00h1.00v1.00h-1.00zM380.00 76.00h1.00v1.00h-1.00zM380.00 82.00h1.00v1.00h-1.00zM381.00 87.00h1.00v1.00h-1.00zM381.00 89.00h1.00v1.00h-1.00zM381.00 92.00h1.00v1.00h-1.00zM381.00 93.00h1.00v1.00h-1.00zM382.00 77.00h1.00v1.00h-1.00zM382.00 79.00h1.00v1.00h-1.00zM382.00 80.00h1.00v1.00h-1.00zM382.00 89.00h1.00v1.00h-1.00zM382.00 90.00h1.00v1.00h-1.00zM383.00 88.00h1.00v1.00h-1.00zM384.00 98.00h1.00v1.00h-1.00zM385.00 79.00h1.00v1.00h-1.00zM385.00 85.00h1.00v1.00h-1.00zM385.00 115.00h1.00v1.00h-1.00zM386.00 73.00h1.00v1.00h-1.00zM386.00 91.00h1.00v1.00h-1.00zM387.00 82.00h1.00v1.00h-1.00zM387.00 85.00h1.00v1.00h-1.00zM387.00 88.00h1.00v1.00h-1.00zM387.00 95.00h1.00v1.00h-1.00zM388.00 83.00h1.00v1.00h-1.00zM388.00 97.00h1.00v1.00h-1.00zM389.00 87.00h1.00v1.00h-1.00zM389.00 90.00h1.00v1.00h-1.00zM390.00 72.00h1.00v1.00h-1.00zM390.00 81.00h1.00v1.00h-1.00zM390.00 83.00h1.00v1.00h-1.00zM390.00 85.00h1.00v1.00h-1.00zM390.00 90.00h1.00v1.00h-1.00zM390.00 91.00h1.00v1.00h-1.00zM391.00 93.00h1.00v1.00h-1.00zM391.00 94.00h1.00v1.00h-1.00zM391.00 97.00h1.00v1.00h-1.00zM391.00 108.00h1.00v1.00h-1.00zM392.00 88.00h1.00v1.00h-1.00zM392.00 91.00h1.00v1.00h-1.00zM393.00 79.00h1.00v1.00h-1.00zM393.00 85.00h1.00v1.00h-1.00zM393.00 87.00h1.00v1.00h-1.00zM393.00 92.00h1.00v1.00h-1.00zM393.00 98.00h1.00v1.00h-1.00zM394.00 71.00h1.00v1.00h-1.00zM395.00 81.00h1.00v1.00h-1.00zM395.00 90.00h1.00v1.00h-1.00zM395.00 93.00h1.00v1.00h-1.00zM396.00 94.00h1.00v1.00h-1.00zM396.00 101.00h1.00v1.00h-1.00zM397.00 86.00h1.00v1.00h-1.00zM397.00 89.00h1.00v1.00h-1.00zM397.00 90.00h1.00v1.00h-1.00zM397.00 91.00h1.00v1.00h-1.00zM397.00 93.00h1.00v1.00h-1.00zM398.00 80.00h1.00v1.00h-1.00zM398.00 81.00h1.00v1.00h-1.00zM398.00 83.00h1.00v1.00h-1.00zM398.00 95.00h1.00v1.00h-1.00zM398.00 98.00h1.00v1.00h-1.00zM399.00 87.00h1.00v1.00h-1.00zM399.00 95.00h1.00v1.00h-1.00zM400.00 64.00h1.00v1.00h-1.00zM400.00 70.00h1.00v1.00h-1.00zM400.00 77.00h1.00v1.00h-1.00zM400.00 83.00h1.00v1.00h-1.00zM400.00 87.00h1.00v1.00h-1.00zM400.00 91.00h1.00v1.00h-1.00zM400.00 92.00h1.00v1.00h-1.00zM400.00 106.00h1.00v1.00h-1.00zM401.00 85.00h1.00v1.00h-1.00zM401.00 92.00h1.00v1.00h-1.00zM401.00 93.00h1.00v1.00h-1.00zM401.00 98.00h1.00v1.00h-1.00zM402.00 91.00h1.00v1.00h-1.00zM403.00 85.00h1.00v1.00h-1.00zM403.00 89.00h1.00v1.00h-1.00zM403.00 95.00h1.00v1.00h-1.00zM404.00 81.00h1.00v1.00h-1.00zM404.00 89.00h1.00v1.00h-1.00zM404.00 101.00h1.00v1.00h-1.00zM405.00 97.00h1.00v1.00h-1.00zM406.00 89.00h1.00v1.00h-1.00zM406.00 94.00h1.00v1.00h-1.00zM406.00 95.00h1.00v1.00h-1.00zM406.00 104.00h1.00v1.00h-1.00zM407.00 81.00h1.00v1.00h-1.00zM407.00 86.00h1.00v1.00h-1.00zM407.00 95.00h1.00v1.00h-1.00zM408.00 71.00h1.00v1.00h-1.00zM408.00 83.00h1.00v1.00h-1.00zM408.00 85.00h1.00v1.00h-1.00zM408.00 87.00h1.00v1.00h-1.00zM408.00 90.00h1.00v1.00h-1.00zM408.00 91.00h1.00v1.00h-1.00zM408.00 92.00h1.00v1.00h-1.00zM409.00 87.00h1.00v1.00h-1.00zM409.00 88.00h1.00v1.00h-1.00zM409.00 90.00h1.00v1.00h-1.00zM409.00 91.00h1.00v1.00h-1.00zM409.00 99.00h1.00v1.00h-1.00zM410.00 79.00h1.00v1.00h-1.00zM410.00 80.00h1.00v1.00h-1.00zM410.00 81.00h1.00v1.00h-1.00zM410.00 82.00h1.00v1.00h-1.00zM411.00 95.00h1.00v1.00h-1.00zM412.00 76.00h1.00v1.00h-1.00zM412.00 81.00h1.00v1.00h-1.00zM412.00 82.00h1.00v1.00h-1.00zM412.00 92.00h1.00v1.00h-1.00zM412.00 96.00h1.00v1.00h-1.00zM412.00 113.00h1.00v1.00h-1.00zM413.00 84.00h1.00v1.00h-1.00zM413.00 85.00h1.00v1.00h-1.00zM413.00 91.00h1.00v1.00h-1.00zM414.00 84.00h1.00v1.00h-1.00zM414.00 91.00h1.00v1.00h-1.00zM414.00 92.00h1.00v1.00h-1.00zM414.00 93.00h1.00v1.00h-1.00zM414.00 98.00h1.00v1.00h-1.00zM415.00 76.00h1.00v1.00h-1.00zM415.00 87.00h1.00v1.00h-1.00zM415.00 88.00h1.00v1.00h-1.00zM415.00 93.00h1.00v1.00h-1.00zM415.00 105.00h1.00v1.00h-1.00zM416.00 83.00h1.00v1.00h-1.00zM416.00 88.00h1.00v1.00h-1.00zM417.00 88.00h1.00v1.00h-1.00zM417.00 91.00h1.00v1.00h-1.00zM417.00 92.00h1.00v1.00h-1.00zM418.00 78.00h1.00v1.00h-1.00zM418.00 117.00h1.00v1.00h-1.00zM419.00 82.00h1.00v1.00h-1.00zM419.00 89.00h1.00v1.00h-1.00zM420.00 80.00h1.00v1.00h-1.00zM421.00 70.00h1.00v1.00h-1.00zM422.00 79.00h1.00v1.00h-1.00zM422.00 86.00h1.00v1.00h-1.00zM422.00 98.00h1.00v1.00h-1.00zM423.00 85.00h1.00v1.00h-1.00zM423.00 87.00h1.00v1.00h-1.00zM423.00 88.00h1.00v1.00h-1.00zM423.00 89.00h1.00v1.00h-1.00zM423.00 90.00h1.00v1.00h-1.00zM423.00 96.00h1.00v1.00h-1.00zM424.00 76.00h1.00v1.00h-1.00zM424.00 87.00h1.00v1.00h-1.00zM424.00 92.00h1.00v1.00h-1.00zM425.00 93.00h1.00v1.00h-1.00zM425.00 95.00h1.00v1.00h-1.00zM425.00 100.00h1.00v1.00h-1.00zM426.00 89.00h1.00v1.00h-1.00zM427.00 84.00h1.00v1.00h-1.00zM427.00 88.00h1.00v1.00h-1.00zM427.00 89.00h1.00v1.00h-1.00zM427.00 91.00h1.00v1.00h-1.00zM427.00 92.00h1.00v1.00h-1.00zM427.00 93.00h1.00v1.00h-1.00zM428.00 80.00h1.00v1.00h-1.00zM428.00 83.00h1.00v1.00h-1.00zM428.00 91.00h1.00v1.00h-1.00zM428.00 94.00h1.00v1.00h-1.00zM429.00 91.00h1.00v1.00h-1.00zM429.00 94.00h1.00v1.00h-1.00zM429.00 98.00h1.00v1.00h-1.00zM429.00 99.00h1.00v1.00h-1.00zM430.00 85.00h1.00v1.00h-1.00zM430.00 90.00h1.00v1.00h-1.00zM430.00 93.00h1.00v1.00h-1.00zM431.00 85.00h1.00v1.00h-1.00zM432.00 84.00h1.00v1.00h-1.00zM432.00 86.00h1.00v1.00h-1.00zM432.00 90.00h1.00v1.00h-1.00zM433.00 85.00h1.00v1.00h-1.00zM433.00 86.00h1.00v1.00h-1.00zM434.00 83.00h1.00v1.00h-1.00zM435.00 75.00h1.00v1.00h-1.00zM435.00 79.00h1.00v1.00h-1.00zM435.00 86.00h1.00v1.00h-1.00zM435.00 99.00h1.00v1.00h-1.00zM436.00 88.00h1.00v1.00h-1.00zM436.00 95.00h1.00v1.00h-1.00zM438.00 82.00h1.00v1.00h-1.00zM438.00 92.00h1.00v1.00h-1.00zM439.00 82.00h1.00v1.00h-1.00zM439.00 85.00h1.00v1.00h-1.00zM439.00 91.00h1.00v1.00h-1.00zM440.00 86.00h1.00v1.00h-1.00zM440.00 90.00h1.00v1.00h-1.00zM440.00 95.00h1.00v1.00h-1.00zM440.00 98.00h1.00v1.00h-1.00zM441.00 87.00h1.00v1.00h-1.00zM441.00 99.00h1.00v1.00h-1.00zM442.00 79.00h1.00v1.00h-1.00zM442.00 95.00h1.00v1.00h-1.00zM443.00 82.00h1.00v1.00h-1.00zM443.00 88.00h1.00v1.00h-1.00zM443.00 93.00h1.00v1.00h-1.00zM444.00 79.00h1.00v1.00h-1.00zM444.00 91.00h1.00v1.00h-1.00zM444.00 92.00h1.00v1.00h-1.00zM444.00 99.00h1.00v1.00h-1.00zM445.00 64.00h1.00v1.00h-1.00zM445.00 78.00h1.00v1.00h-1.00zM445.00 81.00h1.00v1.00h-1.00zM445.00 83.00h1.00v1.00h-1.00zM445.00 97.00h1.00v1.00h-1.00zM445.00 98.00h1.00v1.00h-1.00zM446.00 80.00h1.00v1.00h-1.00zM446.00 89.00h1.00v1.00h-1.00zM446.00 90.00h1.00v1.00h-1.00zM446.00 94.00h1.00v1.00h-1.00zM446.00 100.00h1.00v1.00h-1.00zM447.00 85.00h1.00v1.00h-1.00zM447.00 106.00h1.00v1.00h-1.00zM448.00 90.00h1.00v1.00h-1.00zM448.00 91.00h1.00v1.00h-1.00zM449.00 74.00h1.00v1.00h-1.00zM450.00 77.00h1.00v1.00h-1.00zM450.00 88.00h1.00v1.00h-1.00zM450.00 89.00h1.00v1.00h-1.00zM451.00 64.00h1.00v1.00h-1.00zM451.00 81.00h1.00v1.00h-1.00zM451.00 88.00h1.00v1.00h-1.00zM451.00 95.00h1.00v1.00h-1.00zM452.00 84.00h1.00v1.00h-1.00zM452.00 86.00h1.00v1.00h-1.00zM453.00 82.00h1.00v1.00h-1.00zM453.00 89.00h1.00v1.00h-1.00zM454.00 79.00h1.00v1.00h-1.00zM454.00 83.00h1.00v1.00h-1.00zM454.00 85.00h1.00v1.00h-1.00zM454.00 87.00h1.00v1.00h-1.00zM454.00 93.00h1.00v1.00h-1.00zM454.00 109.00h1.00v1.00h-1.00zM455.00 78.00h1.00v1.00h-1.00zM455.00 83.00h1.00v1.00h-1.00zM455.00 90.00h1.00v1.00h-1.00zM455.00 91.00h1.00v1.00h-1.00zM455.00 95.00h1.00v1.00h-1.00zM456.00 62.00h1.00v1.00h-1.00zM456.00 74.00h1.00v1.00h-1.00zM456.00 83.00h1.00v1.00h-1.00zM456.00 84.00h1.00v1.00h-1.00zM456.00 86.00h1.00v1.00h-1.00zM456.00 87.00h1.00v1.00h-1.00zM456.00 88.00h1.00v1.00h-1.00zM456.00 94.00h1.00v1.00h-1.00zM456.00 95.00h1.00v1.00h-1.00zM456.00 97.00h1.00v1.00h-1.00zM457.00 69.00h1.00v1.00h-1.00zM457.00 84.00h1.00v1.00h-1.00zM457.00 87.00h1.00v1.00h-1.00zM457.00 100.00h1.00v1.00h-1.00zM458.00 83.00h1.00v1.00h-1.00zM458.00 88.00h1.00v1.00h-1.00zM458.00 94.00h1.00v1.00h-1.00zM459.00 93.00h1.00v1.00h-1.00zM460.00 58.00h1.00v1.00h-1.00zM460.00 82.00h1.00v1.00h-1.00zM460.00 88.00h1.00v1.00h-1.00zM460.00 94.00h1.00v1.00h-1.00zM461.00 87.00h1.00v1.00h-1.00zM461.00 89.00h1.00v1.00h-1.00zM462.00 78.00h1.00v1.00h-1.00zM462.00 81.00h1.00v1.00h-1.00zM462.00 86.00h1.00v1.00h-1.00zM462.00 93.00h1.00v1.00h-1.00zM463.00 72.00h1.00v1.00h-1.00zM463.00 87.00h1.00v1.00h-1.00zM463.00 91.00h1.00v1.00h-1.00zM463.00 102.00h1.00v1.00h-1.00zM464.00 76.00h1.00v1.00h-1.00zM464.00 91.00h1.00v1.00h-1.00zM464.00 101.00h1.00v1.00h-1.00zM465.00 73.00h1.00v1.00h-1.00zM465.00 80.00h1.00v1.00h-1.00zM465.00 81.00h1.00v1.00h-1.00zM465.00 82.00h1.00v1.00h-1.00zM465.00 84.00h1.00v1.00h-1.00zM465.00 86.00h1.00v1.00h-1.00zM466.00 91.00h1.00v1.00h-1.00zM466.00 92.00h1.00v1.00h-1.00zM466.00 97.00h1.00v1.00h-1.00zM467.00 82.00h1.00v1.00h-1.00zM467.00 85.00h1.00v1.00h-1.00zM467.00 91.00h1.00v1.00h-1.00zM467.00 92.00h1.00v1.00h-1.00zM467.00 102.00h1.00v1.00h-1.00zM468.00 72.00h1.00v1.00h-1.00zM468.00 87.00h1.00v1.00h-1.00zM468.00 93.00h1.00v1.00h-1.00zM468.00 108.00h1.00v1.00h-1.00zM469.00 76.00h1.00v1.00h-1.00zM469.00 83.00h1.00v1.00h-1.00zM469.00 85.00h1.00v1.00h-1.00zM469.00 104.00h1.00v1.00h-1.00zM470.00 82.00h1.00v1.00h-1.00zM470.00 88.00h1.00v1.00h-1.00zM470.00 89.00h1.00v1.00h-1.00zM471.00 89.00h1.00v1.00h-1.00zM471.00 93.00h1.00v1.00h-1.00zM471.00 95.00h1.00v1.00h-1.00zM472.00 85.00h1.00v1.00h-1.00zM472.00 90.00h1.00v1.00h-1.00zM472.00 94.00h1.00v1.00h-1.00zM473.00 77.00h1.00v1.00h-1.00zM473.00 87.00h1.00v1.00h-1.00zM473.00 94.00h1.00v1.00h-1.00zM473.00 97.00h1.00v1.00h-1.00zM474.00 82.00h1.00v1.00h-1.00zM474.00 87.00h1.00v1.00h-1.00zM474.00 88.00h1.00v1.00h-1.00zM474.00 92.00h1.00v1.00h-1.00zM475.00 87.00h1.00v1.00h-1.00zM475.00 89.00h1.00v1.00h-1.00zM475.00 90.00h1.00v1.00h-1.00zM475.00 95.00h1.00v1.00h-1.00zM475.00 97.00h1.00v1.00h-1.00zM475.00 98.00h1.00v1.00h-1.00zM476.00 79.00h1.00v1.00h-1.00zM476.00 80.00h1.00v1.00h-1.00zM476.00 86.00h1.00v1.00h-1.00zM478.00 86.00h1.00v1.00h-1.00zM478.00 91.00h1.00v1.00h-1.00zM478.00 97.00h1.00v1.00h-1.00zM479.00 84.00h1.00v1.00h-1.00zM479.00 85.00h1.00v1.00h-1.00zM479.00 100.00h1.00v1.00h-1.00zM480.00 65.00h1.00v1.00h-1.00zM480.00 78.00h1.00v1.00h-1.00zM480.00 88.00h1.00v1.00h-1.00zM480.00 93.00h1.00v1.00h-1.00zM480.00 94.00h1.00v1.00h-1.00zM481.00 86.00h1.00v1.00h-1.00zM481.00 89.00h1.00v1.00h-1.00zM481.00 91.00h1.00v1.00h-1.00zM482.00 77.00h1.00v1.00h-1.00zM482.00 84.00h1.00v1.00h-1.00zM482.00 91.00h1.00v1.00h-1.00zM483.00 70.00h1.00v1.00h-1.00zM483.00 89.00h1.00v1.00h-1.00zM483.00 93.00h1.00v1.00h-1.00zM483.00 96.00h1.00v1.00h-1.00zM484.00 76.00h1.00v1.00h-1.00zM484.00 86.00h1.00v1.00h-1.00zM484.00 89.00h1.00v1.00h-1.00zM484.00 96.00h1.00v1.00h-1.00zM485.00 80.00h1.00v1.00h-1.00zM485.00 87.00h1.00v1.00h-1.00zM485.00 89.00h1.00v1.00h-1.00zM485.00 91.00h1.00v1.00h-1.00zM485.00 92.00h1.00v1.00h-1.00zM485.00 93.00h1.00v1.00h-1.00zM485.00 98.00h1.00v1.00h-1.00zM485.00 99.00h1.00v1.00h-1.00zM485.00 100.00h1.00v1.00h-1.00zM485.00 101.00h1.00v1.00h-1.00zM486.00 86.00h1.00v1.00h-1.00zM486.00 105.00h1.00v1.00h-1.00zM487.00 81.00h1.00v1.00h-1.00zM487.00 85.00h1.00v1.00h-1.00zM487.00 86.00h1.00v1.00h-1.00zM487.00 98.00h1.00v1.00h-1.00zM487.00 101.00h1.00v1.00h-1.00zM488.00 86.00h1.00v1.00h-1.00zM488.00 87.00h1.00v1.00h-1.00zM488.00 89.00h1.00v1.00h-1.00zM488.00 90.00h1.00v1.00h-1.00zM488.00 91.00h1.00v1.00h-1.00zM489.00 79.00h1.00v1.00h-1.00zM489.00 80.00h1.00v1.00h-1.00zM489.00 86.00h1.00v1.00h-1.00zM489.00 88.00h1.00v1.00h-1.00zM489.00 89.00h1.00v1.00h-1.00zM489.00 90.00h1.00v1.00h-1.00zM489.00 94.00h1.00v1.00h-1.00zM489.00 118.00h1.00v1.00h-1.00zM491.00 85.00h1.00v1.00h-1.00zM491.00 88.00h1.00v1.00h-1.00zM491.00 89.00h1.00v1.00h-1.00zM492.00 85.00h1.00v1.00h-1.00zM492.00 98.00h1.00v1.00h-1.00zM493.00 84.00h1.00v1.00h-1.00zM493.00 85.00h1.00v1.00h-1.00zM493.00 87.00h1.00v1.00h-1.00zM493.00 89.00h1.00v1.00h-1.00zM493.00 95.00h1.00v1.00h-1.00zM494.00 86.00h1.00v1.00h-1.00zM494.00 95.00h1.00v1.00h-1.00zM495.00 77.00h1.00v1.00h-1.00zM495.00 95.00h1.00v1.00h-1.00zM495.00 97.00h1.00v1.00h-1.00zM495.00 105.00h1.00v1.00h-1.00zM496.00 85.00h1.00v1.00h-1.00zM496.00 87.00h1.00v1.00h-1.00zM496.00 96.00h1.00v1.00h-1.00zM497.00 89.00h1.00v1.00h-1.00zM497.00 94.00h1.00v1.00h-1.00zM497.00 95.00h1.00v1.00h-1.00zM498.00 83.00h1.00v1.00h-1.00zM498.00 85.00h1.00v1.00h-1.00zM498.00 89.00h1.00v1.00h-1.00zM498.00 93.00h1.00v1.00h-1.00zM499.00 77.00h1.00v1.00h-1.00zM499.00 83.00h1.00v1.00h-1.00zM499.00 85.00h1.00v1.00h-1.00zM499.00 86.00h1.00v1.00h-1.00zM499.00 90.00h1.00v1.00h-1.00zM500.00 86.00h1.00v1.00h-1.00zM500.00 88.00h1.00v1.00h-1.00zM501.00 80.00h1.00v1.00h-1.00zM501.00 92.00h1.00v1.00h-1.00zM501.00 94.00h1.00v1.00h-1.00zM502.00 83.00h1.00v1.00h-1.00zM502.00 95.00h1.00v1.00h-1.00zM503.00 85.00h1.00v1.00h-1.00zM503.00 90.00h1.00v1.00h-1.00zM503.00 91.00h1.00v1.00h-1.00zM505.00 82.00h1.00v1.00h-1.00zM505.00 85.00h1.00v1.00h-1.00zM505.00 86.00h1.00v1.00h-1.00zM505.00 90.00h1.00v1.00h-1.00zM505.00 93.00h1.00v1.00h-1.00zM505.00 96.00h1.00v1.00h-1.00zM506.00 86.00h1.00v1.00h-1.00zM506.00 91.00h1.00v1.00h-1.00zM507.00 83.00h1.00v1.00h-1.00zM507.00 89.00h1.00v1.00h-1.00zM507.00 91.00h1.00v1.00h-1.00zM508.00 91.00h1.00v1.00h-1.00zM508.00 92.00h1.00v1.00h-1.00zM508.00 95.00h1.00v1.00h-1.00zM508.00 111.00h1.00v1.00h-1.00zM509.00 53.00h1.00v1.00h-1.00zM509.00 85.00h1.00v1.00h-1.00zM509.00 88.00h1.00v1.00h-1.00zM509.00 97.00h1.00v1.00h-1.00zM509.00 110.00h1.00v1.00h-1.00zM510.00 79.00h1.00v1.00h-1.00zM510.00 87.00h1.00v1.00h-1.00zM510.00 90.00h1.00v1.00h-1.00zM510.00 92.00h1.00v1.00h-1.00zM510.00 97.00h1.00v1.00h-1.00zM511.00 77.00h1.00v1.00h-1.00zM511.00 79.00h1.00v1.00h-1.00zM511.00 99.00h1.00v1.00h-1.00zM511.00 103.00h1.00v1.00h-1.00zM511.00 107.00h1.00v1.00h-1.00zM512.00 86.00h1.00v1.00h-1.00zM512.00 93.00h1.00v1.00h-1.00zM512.00 98.00h1.00v1.00h-1.00zM512.00 99.00h1.00v1.00h-1.00zM513.00 84.00h1.00v1.00h-1.00zM513.00 86.00h1.00v1.00h-1.00zM514.00 82.00h1.00v1.00h-1.00zM514.00 85.00h1.00v1.00h-1.00zM514.00 86.00h1.00v1.00h-1.00zM514.00 90.00h1.00v1.00h-1.00zM514.00 92.00h1.00v1.00h-1.00zM514.00 93.00h1.00v1.00h-1.00zM514.00 96.00h1.00v1.00h-1.00zM515.00 83.00h1.00v1.00h-1.00zM515.00 97.00h1.00v1.00h-1.00zM515.00 101.00h1.00v1.00h-1.00zM516.00 75.00h1.00v1.00h-1.00zM516.00 80.00h1.00v1.00h-1.00zM516.00 83.00h1.00v1.00h-1.00zM516.00 85.00h1.00v1.00h-1.00zM516.00 92.00h1.00v1.00h-1.00zM516.00 99.00h1.00v1.00h-1.00zM516.00 106.00h1.00v1.00h-1.00zM517.00 80.00h1.00v1.00h-1.00zM518.00 72.00h1.00v1.00h-1.00zM518.00 82.00h1.00v1.00h-1.00zM518.00 84.00h1.00v1.00h-1.00zM518.00 85.00h1.00v1.00h-1.00zM518.00 107.00h1.00v1.00h-1.00zM519.00 93.00h1.00v1.00h-1.00zM520.00 86.00h1.00v1.00h-1.00zM520.00 87.00h1.00v1.00h-1.00zM520.00 95.00h1.00v1.00h-1.00zM521.00 83.00h1.00v1.00h-1.00zM522.00 89.00h1.00v1.00h-1.00zM522.00 106.00h1.00v1.00h-1.00zM523.00 82.00h1.00v1.00h-1.00zM523.00 93.00h1.00v1.00h-1.00zM524.00 83.00h1.00v1.00h-1.00zM524.00 87.00h1.00v1.00h-1.00zM524.00 92.00h1.00v1.00h-1.00zM525.00 84.00h1.00v1.00h-1.00zM525.00 88.00h1.00v1.00h-1.00zM525.00 93.00h1.00v1.00h-1.00zM525.00 94.00h1.00v1.00h-1.00zM526.00 85.00h1.00v1.00h-1.00zM526.00 97.00h1.00v1.00h-1.00zM526.00 98.00h1.00v1.00h-1.00zM526.00 99.00h1.00v1.00h-1.00zM526.00 101.00h1.00v1.00h-1.00zM527.00 93.00h1.00v1.00h-1.00zM527.00 96.00h1.00v1.00h-1.00zM527.00 105.00h1.00v1.00h-1.00zM528.00 85.00h1.00v1.00h-1.00zM528.00 93.00h1.00v1.00h-1.00zM529.00 81.00h1.00v1.00h-1.00zM529.00 83.00h1.00v1.00h-1.00zM529.00 87.00h1.00v1.00h-1.00zM529.00 88.00h1.00v1.00h-1.00zM529.00 91.00h1.00v1.00h-1.00zM529.00 118.00h1.00v1.00h-1.00zM530.00 78.00h1.00v1.00h-1.00zM530.00 85.00h1.00v1.00h-1.00zM530.00 86.00h1.00v1.00h-1.00zM530.00 92.00h1.00v1.00h-1.00zM531.00 87.00h1.00v1.00h-1.00zM531.00 91.00h1.00v1.00h-1.00zM532.00 80.00h1.00v1.00h-1.00zM532.00 88.00h1.00v1.00h-1.00zM532.00 89.00h1.00v1.00h-1.00zM532.00 94.00h1.00v1.00h-1.00zM532.00 102.00h1.00v1.00h-1.00zM533.00 69.00h1.00v1.00h-1.00zM533.00 93.00h1.00v1.00h-1.00zM533.00 95.00h1.00v1.00h-1.00zM534.00 88.00h1.00v1.00h-1.00zM534.00 97.00h1.00v1.00h-1.00zM534.00 98.00h1.00v1.00h-1.00zM535.00 85.00h1.00v1.00h-1.00zM535.00 89.00h1.00v1.00h-1.00zM535.00 96.00h1.00v1.00h-1.00zM536.00 96.00h1.00v1.00h-1.00zM537.00 81.00h1.00v1.00h-1.00zM537.00 86.00h1.00v1.00h-1.00zM537.00 99.00h1.00v1.00h-1.00zM537.00 102.00h1.00v1.00h-1.00zM537.00 114.00h1.00v1.00h-1.00zM537.00 115.00h1.00v1.00h-1.00zM538.00 85.00h1.00v1.00h-1.00zM538.00 86.00h1.00v1.00h-1.00zM538.00 100.00h1.00v1.00h-1.00zM538.00 101.00h1.00v1.00h-1.00zM538.00 113.00h1.00v1.00h-1.00zM539.00 85.00h1.00v1.00h-1.00zM539.00 89.00h1.00v1.00h-1.00zM539.00 111.00h1.00v1.00h-1.00zM539.00 123.00h1.00v1.00h-1.00zM539.00 125.00h1.00v1.00h-1.00zM540.00 85.00h1.00v1.00h-1.00zM540.00 89.00h1.00v1.00h-1.00zM540.00 92.00h1.00v1.00h-1.00zM540.00 94.00h1.00v1.00h-1.00zM540.00 97.00h1.00v1.00h-1.00zM540.00 99.00h1.00v1.00h-1.00zM540.00 106.00h1.00v1.00h-1.00zM541.00 84.00h1.00v1.00h-1.00zM541.00 102.00h1.00v1.00h-1.00zM541.00 104.00h1.00v1.00h-1.00zM542.00 72.00h1.00v1.00h-1.00zM542.00 94.00h1.00v1.00h-1.00zM542.00 96.00h1.00v1.00h-1.00zM543.00 89.00h1.00v1.00h-1.00zM543.00 94.00h1.00v1.00h-1.00zM543.00 97.00h1.00v1.00h-1.00zM543.00 101.00h1.00v1.00h-1.00zM544.00 83.00h1.00v1.00h-1.00zM544.00 87.00h1.00v1.00h-1.00zM545.00 66.00h1.00v1.00h-1.00zM545.00 87.00h1.00v1.00h-1.00zM545.00 90.00h1.00v1.00h-1.00zM545.00 95.00h1.00v1.00h-1.00zM546.00 88.00h1.00v1.00h-1.00zM546.00 92.00h1.00v1.00h-1.00zM546.00 93.00h1.00v1.00h-1.00zM546.00 96.00h1.00v1.00h-1.00zM546.00 97.00h1.00v1.00h-1.00zM546.00 99.00h1.00v1.00h-1.00zM547.00 94.00h1.00v1.00h-1.00zM547.00 96.00h1.00v1.00h-1.00zM548.00 69.00h1.00v1.00h-1.00zM548.00 78.00h1.00v1.00h-1.00zM549.00 88.00h1.00v1.00h-1.00zM549.00 90.00h1.00v1.00h-1.00zM549.00 91.00h1.00v1.00h-1.00zM550.00 86.00h1.00v1.00h-1.00zM550.00 94.00h1.00v1.00h-1.00zM551.00 89.00h1.00v1.00h-1.00zM551.00 94.00h1.00v1.00h-1.00zM552.00 83.00h1.00v1.00h-1.00zM552.00 94.00h1.00v1.00h-1.00zM552.00 97.00h1.00v1.00h-1.00zM552.00 100.00h1.00v1.00h-1.00zM553.00 92.00h1.00v1.00h-1.00zM553.00 96.00h1.00v1.00h-1.00zM553.00 110.00h1.00v1.00h-1.00zM554.00 85.00h1.00v1.00h-1.00zM554.00 87.00h1.00v1.00h-1.00zM554.00 89.00h1.00v1.00h-1.00zM554.00 100.00h1.00v1.00h-1.00zM554.00 106.00h1.00v1.00h-1.00zM554.00 114.00h1.00v1.00h-1.00zM555.00 90.00h1.00v1.00h-1.00zM555.00 91.00h1.00v1.00h-1.00zM555.00 93.00h1.00v1.00h-1.00zM555.00 95.00h1.00v1.00h-1.00zM556.00 89.00h1.00v1.00h-1.00zM556.00 96.00h1.00v1.00h-1.00zM556.00 110.00h1.00v1.00h-1.00zM556.00 111.00h1.00v1.00h-1.00zM556.00 126.00h1.00v1.00h-1.00zM557.00 75.00h1.00v1.00h-1.00zM557.00 85.00h1.00v1.00h-1.00zM557.00 87.00h1.00v1.00h-1.00zM557.00 95.00h1.00v1.00h-1.00zM557.00 97.00h1.00v1.00h-1.00zM557.00 98.00h1.00v1.00h-1.00zM558.00 94.00h1.00v1.00h-1.00zM558.00 95.00h1.00v1.00h-1.00zM558.00 99.00h1.00v1.00h-1.00zM559.00 85.00h1.00v1.00h-1.00zM559.00 91.00h1.00v1.00h-1.00zM559.00 92.00h1.00v1.00h-1.00zM559.00 107.00h1.00v1.00h-1.00zM560.00 85.00h1.00v1.00h-1.00zM560.00 86.00h1.00v1.00h-1.00zM560.00 88.00h1.00v1.00h-1.00zM560.00 94.00h1.00v1.00h-1.00zM560.00 95.00h1.00v1.00h-1.00zM561.00 75.00h1.00v1.00h-1.00zM561.00 83.00h1.00v1.00h-1.00zM561.00 90.00h1.00v1.00h-1.00zM562.00 79.00h1.00v1.00h-1.00zM562.00 95.00h1.00v1.00h-1.00zM562.00 96.00h1.00v1.00h-1.00zM563.00 77.00h1.00v1.00h-1.00zM563.00 84.00h1.00v1.00h-1.00zM563.00 92.00h1.00v1.00h-1.00zM563.00 94.00h1.00v1.00h-1.00zM563.00 97.00h1.00v1.00h-1.00zM564.00 83.00h1.00v1.00h-1.00zM564.00 88.00h1.00v1.00h-1.00zM564.00 92.00h1.00v1.00h-1.00zM564.00 94.00h1.00v1.00h-1.00zM564.00 104.00h1.00v1.00h-1.00zM565.00 83.00h1.00v1.00h-1.00zM565.00 84.00h1.00v1.00h-1.00zM565.00 94.00h1.00v1.00h-1.00zM565.00 103.00h1.00v1.00h-1.00zM566.00 87.00h1.00v1.00h-1.00zM566.00 90.00h1.00v1.00h-1.00zM567.00 80.00h1.00v1.00h-1.00zM567.00 87.00h1.00v1.00h-1.00zM567.00 92.00h1.00v1.00h-1.00zM567.00 93.00h1.00v1.00h-1.00zM567.00 95.00h1.00v1.00h-1.00zM567.00 101.00h1.00v1.00h-1.00zM568.00 82.00h1.00v1.00h-1.00zM568.00 91.00h1.00v1.00h-1.00zM568.00 92.00h1.00v1.00h-1.00zM568.00 93.00h1.00v1.00h-1.00zM569.00 84.00h1.00v1.00h-1.00zM569.00 95.00h1.00v1.00h-1.00zM570.00 76.00h1.00v1.00h-1.00zM570.00 78.00h1.00v1.00h-1.00zM570.00 85.00h1.00v1.00h-1.00zM570.00 86.00h1.00v1.00h-1.00zM570.00 89.00h1.00v1.00h-1.00zM570.00 91.00h1.00v1.00h-1.00zM571.00 89.00h1.00v1.00h-1.00zM571.00 90.00h1.00v1.00h-1.00zM571.00 91.00h1.00v1.00h-1.00zM571.00 92.00h1.00v1.00h-1.00zM571.00 101.00h1.00v1.00h-1.00zM571.00 102.00h1.00v1.00h-1.00zM571.00 103.00h1.00v1.00h-1.00zM571.00 110.00h1.00v1.00h-1.00zM572.00 86.00h1.00v1.00h-1.00zM572.00 89.00h1.00v1.00h-1.00zM572.00 92.00h1.00v1.00h-1.00zM572.00 93.00h1.00v1.00h-1.00zM572.00 94.00h1.00v1.00h-1.00zM572.00 95.00h1.00v1.00h-1.00zM573.00 80.00h1.00v1.00h-1.00zM573.00 83.00h1.00v1.00h-1.00zM573.00 86.00h1.00v1.00h-1.00zM573.00 88.00h1.00v1.00h-1.00zM573.00 94.00h1.00v1.00h-1.00zM573.00 101.00h1.00v1.00h-1.00zM574.00 82.00h1.00v1.00h-1.00zM574.00 90.00h1.00v1.00h-1.00zM574.00 92.00h1.00v1.00h-1.00zM574.00 116.00h1.00v1.00h-1.00zM575.00 82.00h1.00v1.00h-1.00zM575.00 83.00h1.00v1.00h-1.00zM576.00 88.00h1.00v1.00h-1.00zM576.00 91.00h1.00v1.00h-1.00zM576.00 94.00h1.00v1.00h-1.00zM577.00 85.00h1.00v1.00h-1.00zM577.00 98.00h1.00v1.00h-1.00zM578.00 85.00h1.00v1.00h-1.00zM578.00 87.00h1.00v1.00h-1.00zM578.00 92.00h1.00v1.00h-1.00zM579.00 66.00h1.00v1.00h-1.00zM579.00 76.00h1.00v1.00h-1.00zM579.00 83.00h1.00v1.00h-1.00zM579.00 89.00h1.00v1.00h-1.00zM580.00 72.00h1.00v1.00h-1.00zM580.00 83.00h1.00v1.00h-1.00zM580.00 90.00h1.00v1.00h-1.00zM580.00 96.00h1.00v1.00h-1.00zM581.00 72.00h1.00v1.00h-1.00zM581.00 91.00h1.00v1.00h-1.00zM582.00 79.00h1.00v1.00h-1.00zM582.00 96.00h1.00v1.00h-1.00zM583.00 85.00h1.00v1.00h-1.00zM583.00 89.00h1.00v1.00h-1.00zM583.00 91.00h1.00v1.00h-1.00zM583.00 93.00h1.00v1.00h-1.00zM584.00 83.00h1.00v1.00h-1.00zM584.00 90.00h1.00v1.00h-1.00zM584.00 92.00h1.00v1.00h-1.00zM584.00 96.00h1.00v1.00h-1.00zM584.00 118.00h1.00v1.00h-1.00zM585.00 79.00h1.00v1.00h-1.00zM586.00 87.00h1.00v1.00h-1.00zM586.00 89.00h1.00v1.00h-1.00zM586.00 94.00h1.00v1.00h-1.00zM586.00 113.00h1.00v1.00h-1.00zM587.00 84.00h1.00v1.00h-1.00zM587.00 95.00h1.00v1.00h-1.00zM588.00 73.00h1.00v1.00h-1.00zM588.00 87.00h1.00v1.00h-1.00zM588.00 88.00h1.00v1.00h-1.00zM588.00 90.00h1.00v1.00h-1.00zM588.00 92.00h1.00v1.00h-1.00zM588.00 93.00h1.00v1.00h-1.00zM589.00 79.00h1.00v1.00h-1.00zM589.00 89.00h1.00v1.00h-1.00zM589.00 91.00h1.00v1.00h-1.00zM589.00 92.00h1.00v1.00h-1.00zM589.00 101.00h1.00v1.00h-1.00zM589.00 106.00h1.00v1.00h-1.00zM590.00 81.00h1.00v1.00h-1.00zM590.00 93.00h1.00v1.00h-1.00zM591.00 84.00h1.00v1.00h-1.00zM591.00 86.00h1.00v1.00h-1.00zM591.00 87.00h1.00v1.00h-1.00zM591.00 106.00h1.00v1.00h-1.00zM591.00 108.00h1.00v1.00h-1.00zM592.00 84.00h1.00v1.00h-1.00zM592.00 87.00h1.00v1.00h-1.00zM592.00 89.00h1.00v1.00h-1.00zM592.00 90.00h1.00v1.00h-1.00zM592.00 91.00h1.00v1.00h-1.00zM592.00 103.00h1.00v1.00h-1.00zM592.00 105.00h1.00v1.00h-1.00zM592.00 116.00h1.00v1.00h-1.00zM593.00 73.00h1.00v1.00h-1.00zM593.00 83.00h1.00v1.00h-1.00zM593.00 91.00h1.00v1.00h-1.00zM593.00 93.00h1.00v1.00h-1.00zM593.00 101.00h1.00v1.00h-1.00zM593.00 103.00h1.00v1.00h-1.00zM594.00 75.00h1.00v1.00h-1.00zM594.00 90.00h1.00v1.00h-1.00zM594.00 93.00h1.00v1.00h-1.00zM594.00 95.00h1.00v1.00h-1.00zM594.00 96.00h1.00v1.00h-1.00zM594.00 101.00h1.00v1.00h-1.00zM595.00 92.00h1.00v1.00h-1.00zM595.00 96.00h1.00v1.00h-1.00zM595.00 98.00h1.00v1.00h-1.00zM595.00 101.00h1.00v1.00h-1.00zM596.00 70.00h1.00v1.00h-1.00zM596.00 83.00h1.00v1.00h-1.00zM596.00 98.00h1.00v1.00h-1.00zM596.00 101.00h1.00v1.00h-1.00zM597.00 93.00h1.00v1.00h-1.00zM597.00 101.00h1.00v1.00h-1.00zM597.00 105.00h1.00v1.00h-1.00zM598.00 82.00h1.00v1.00h-1.00zM598.00 86.00h1.00v1.00h-1.00zM598.00 87.00h1.00v1.00h-1.00zM598.00 90.00h1.00v1.00h-1.00zM599.00 83.00h1.00v1.00h-1.00zM599.00 89.00h1.00v1.00h-1.00zM599.00 90.00h1.00v1.00h-1.00zM599.00 92.00h1.00v1.00h-1.00zM599.00 93.00h1.00v1.00h-1.00zM599.00 96.00h1.00v1.00h-1.00zM599.00 101.00h1.00v1.00h-1.00zM600.00 70.00h1.00v1.00h-1.00zM600.00 78.00h1.00v1.00h-1.00zM600.00 85.00h1.00v1.00h-1.00zM600.00 87.00h1.00v1.00h-1.00zM600.00 90.00h1.00v1.00h-1.00zM600.00 99.00h1.00v1.00h-1.00zM600.00 102.00h1.00v1.00h-1.00zM600.00 103.00h1.00v1.00h-1.00zM600.00 104.00h1.00v1.00h-1.00zM601.00 91.00h1.00v1.00h-1.00zM602.00 92.00h1.00v1.00h-1.00zM602.00 95.00h1.00v1.00h-1.00zM602.00 98.00h1.00v1.00h-1.00zM602.00 101.00h1.00v1.00h-1.00zM602.00 102.00h1.00v1.00h-1.00zM603.00 76.00h1.00v1.00h-1.00zM603.00 85.00h1.00v1.00h-1.00zM603.00 89.00h1.00v1.00h-1.00zM603.00 98.00h1.00v1.00h-1.00zM604.00 87.00h1.00v1.00h-1.00zM604.00 90.00h1.00v1.00h-1.00zM604.00 91.00h1.00v1.00h-1.00zM604.00 92.00h1.00v1.00h-1.00zM604.00 93.00h1.00v1.00h-1.00zM604.00 112.00h1.00v1.00h-1.00zM605.00 80.00h1.00v1.00h-1.00zM605.00 92.00h1.00v1.00h-1.00zM605.00 96.00h1.00v1.00h-1.00zM605.00 100.00h1.00v1.00h-1.00zM605.00 102.00h1.00v1.00h-1.00zM606.00 73.00h1.00v1.00h-1.00zM606.00 86.00h1.00v1.00h-1.00zM606.00 93.00h1.00v1.00h-1.00zM606.00 94.00h1.00v1.00h-1.00zM606.00 96.00h1.00v1.00h-1.00zM606.00 105.00h1.00v1.00h-1.00zM606.00 112.00h1.00v1.00h-1.00zM607.00 77.00h1.00v1.00h-1.00zM607.00 78.00h1.00v1.00h-1.00zM607.00 83.00h1.00v1.00h-1.00zM607.00 88.00h1.00v1.00h-1.00zM607.00 91.00h1.00v1.00h-1.00zM607.00 92.00h1.00v1.00h-1.00zM607.00 94.00h1.00v1.00h-1.00zM607.00 98.00h1.00v1.00h-1.00zM607.00 103.00h1.00v1.00h-1.00zM608.00 81.00h1.00v1.00h-1.00zM608.00 84.00h1.00v1.00h-1.00zM608.00 100.00h1.00v1.00h-1.00zM608.00 101.00h1.00v1.00h-1.00zM608.00 104.00h1.00v1.00h-1.00zM608.00 108.00h1.00v1.00h-1.00zM608.00 111.00h1.00v1.00h-1.00zM608.00 112.00h1.00v1.00h-1.00zM609.00 93.00h1.00v1.00h-1.00zM609.00 110.00h1.00v1.00h-1.00zM610.00 81.00h1.00v1.00h-1.00zM610.00 84.00h1.00v1.00h-1.00zM610.00 90.00h1.00v1.00h-1.00zM610.00 93.00h1.00v1.00h-1.00zM610.00 96.00h1.00v1.00h-1.00zM610.00 105.00h1.00v1.00h-1.00zM610.00 106.00h1.00v1.00h-1.00zM610.00 107.00h1.00v1.00h-1.00zM611.00 81.00h1.00v1.00h-1.00zM611.00 87.00h1.00v1.00h-1.00zM611.00 92.00h1.00v1.00h-1.00zM611.00 94.00h1.00v1.00h-1.00zM611.00 96.00h1.00v1.00h-1.00zM612.00 74.00h1.00v1.00h-1.00zM612.00 84.00h1.00v1.00h-1.00zM612.00 91.00h1.00v1.00h-1.00zM612.00 94.00h1.00v1.00h-1.00zM612.00 97.00h1.00v1.00h-1.00zM612.00 99.00h1.00v1.00h-1.00zM612.00 100.00h1.00v1.00h-1.00zM612.00 108.00h1.00v1.00h-1.00zM612.00 111.00h1.00v1.00h-1.00zM613.00 79.00h1.00v1.00h-1.00zM613.00 82.00h1.00v1.00h-1.00zM613.00 86.00h1.00v1.00h-1.00zM613.00 90.00h1.00v1.00h-1.00zM613.00 91.00h1.00v1.00h-1.00zM613.00 99.00h1.00v1.00h-1.00zM613.00 106.00h1.00v1.00h-1.00zM614.00 75.00h1.00v1.00h-1.00zM614.00 94.00h1.00v1.00h-1.00zM614.00 104.00h1.00v1.00h-1.00zM615.00 85.00h1.00v1.00h-1.00zM615.00 86.00h1.00v1.00h-1.00zM615.00 97.00h1.00v1.00h-1.00zM615.00 101.00h1.00v1.00h-1.00zM615.00 103.00h1.00v1.00h-1.00zM616.00 95.00h1.00v1.00h-1.00zM616.00 98.00h1.00v1.00h-1.00zM617.00 108.00h1.00v1.00h-1.00zM617.00 112.00h1.00v1.00h-1.00zM618.00 72.00h1.00v1.00h-1.00zM618.00 87.00h1.00v1.00h-1.00zM618.00 90.00h1.00v1.00h-1.00zM618.00 103.00h1.00v1.00h-1.00zM619.00 81.00h1.00v1.00h-1.00zM619.00 101.00h1.00v1.00h-1.00zM620.00 75.00h1.00v1.00h-1.00zM620.00 89.00h1.00v1.00h-1.00zM620.00 96.00h1.00v1.00h-1.00zM621.00 82.00h1.00v1.00h-1.00zM621.00 87.00h1.00v1.00h-1.00zM621.00 92.00h1.00v1.00h-1.00zM621.00 93.00h1.00v1.00h-1.00zM621.00 121.00h1.00v1.00h-1.00zM622.00 86.00h1.00v1.00h-1.00zM622.00 93.00h1.00v1.00h-1.00zM622.00 97.00h1.00v1.00h-1.00zM622.00 109.00h1.00v1.00h-1.00zM623.00 70.00h1.00v1.00h-1.00zM623.00 79.00h1.00v1.00h-1.00zM623.00 85.00h1.00v1.00h-1.00zM623.00 92.00h1.00v1.00h-1.00zM623.00 102.00h1.00v1.00h-1.00zM624.00 82.00h1.00v1.00h-1.00zM624.00 99.00h1.00v1.00h-1.00zM624.00 100.00h1.00v1.00h-1.00zM624.00 101.00h1.00v1.00h-1.00zM624.00 107.00h1.00v1.00h-1.00zM625.00 79.00h1.00v1.00h-1.00zM625.00 82.00h1.00v1.00h-1.00zM625.00 90.00h1.00v1.00h-1.00zM625.00 95.00h1.00v1.00h-1.00zM625.00 97.00h1.00v1.00h-1.00zM625.00 101.00h1.00v1.00h-1.00zM625.00 111.00h1.00v1.00h-1.00zM626.00 82.00h1.00v1.00h-1.00zM626.00 84.00h1.00v1.00h-1.00zM626.00 88.00h1.00v1.00h-1.00zM626.00 90.00h1.00v1.00h-1.00zM626.00 91.00h1.00v1.00h-1.00zM626.00 95.00h1.00v1.00h-1.00zM626.00 103.00h1.00v1.00h-1.00zM626.00 104.00h1.00v1.00h-1.00zM626.00 105.00h1.00v1.00h-1.00zM626.00 107.00h1.00v1.00h-1.00zM626.00 110.00h1.00v1.00h-1.00zM627.00 76.00h1.00v1.00h-1.00zM627.00 78.00h1.00v1.00h-1.00zM627.00 85.00h1.00v1.00h-1.00zM627.00 91.00h1.00v1.00h-1.00zM627.00 95.00h1.00v1.00h-1.00zM627.00 103.00h1.00v1.00h-1.00zM627.00 105.00h1.00v1.00h-1.00zM627.00 109.00h1.00v1.00h-1.00zM628.00 83.00h1.00v1.00h-1.00zM628.00 88.00h1.00v1.00h-1.00zM628.00 89.00h1.00v1.00h-1.00zM628.00 105.00h1.00v1.00h-1.00zM629.00 77.00h1.00v1.00h-1.00zM629.00 78.00h1.00v1.00h-1.00zM629.00 80.00h1.00v1.00h-1.00zM629.00 81.00h1.00v1.00h-1.00zM629.00 86.00h1.00v1.00h-1.00zM629.00 87.00h1.00v1.00h-1.00zM629.00 96.00h1.00v1.00h-1.00zM630.00 67.00h1.00v1.00h-1.00zM630.00 80.00h1.00v1.00h-1.00zM630.00 82.00h1.00v1.00h-1.00zM630.00 84.00h1.00v1.00h-1.00zM630.00 87.00h1.00v1.00h-1.00zM630.00 88.00h1.00v1.00h-1.00zM630.00 89.00h1.00v1.00h-1.00zM630.00 91.00h1.00v1.00h-1.00zM630.00 97.00h1.00v1.00h-1.00zM630.00 98.00h1.00v1.00h-1.00zM630.00 99.00h1.00v1.00h-1.00zM630.00 100.00h1.00v1.00h-1.00zM631.00 71.00h1.00v1.00h-1.00zM631.00 87.00h1.00v1.00h-1.00zM631.00 89.00h1.00v1.00h-1.00zM631.00 90.00h1.00v1.00h-1.00zM631.00 94.00h1.00v1.00h-1.00zM631.00 102.00h1.00v1.00h-1.00zM632.00 78.00h1.00v1.00h-1.00zM632.00 96.00h1.00v1.00h-1.00zM632.00 101.00h1.00v1.00h-1.00zM632.00 103.00h1.00v1.00h-1.00zM632.00 105.00h1.00v1.00h-1.00zM632.00 120.00h1.00v1.00h-1.00zM633.00 84.00h1.00v1.00h-1.00zM633.00 85.00h1.00v1.00h-1.00zM633.00 93.00h1.00v1.00h-1.00zM633.00 94.00h1.00v1.00h-1.00zM633.00 97.00h1.00v1.00h-1.00zM633.00 101.00h1.00v1.00h-1.00zM633.00 102.00h1.00v1.00h-1.00zM633.00 103.00h1.00v1.00h-1.00zM633.00 107.00h1.00v1.00h-1.00zM634.00 78.00h1.00v1.00h-1.00zM634.00 93.00h1.00v1.00h-1.00zM634.00 94.00h1.00v1.00h-1.00zM634.00 97.00h1.00v1.00h-1.00zM634.00 106.00h1.00v1.00h-1.00zM635.00 82.00h1.00v1.00h-1.00zM635.00 90.00h1.00v1.00h-1.00zM635.00 98.00h1.00v1.00h-1.00zM635.00 99.00h1.00v1.00h-1.00zM635.00 108.00h1.00v1.00h-1.00zM636.00 79.00h1.00v1.00h-1.00zM636.00 87.00h1.00v1.00h-1.00zM636.00 91.00h1.00v1.00h-1.00zM636.00 103.00h1.00v1.00h-1.00zM636.00 104.00h1.00v1.00h-1.00zM636.00 105.00h1.00v1.00h-1.00zM636.00 123.00h1.00v1.00h-1.00zM637.00 77.00h1.00v1.00h-1.00zM637.00 83.00h1.00v1.00h-1.00zM637.00 87.00h1.00v1.00h-1.00zM637.00 90.00h1.00v1.00h-1.00zM637.00 94.00h1.00v1.00h-1.00zM637.00 96.00h1.00v1.00h-1.00zM637.00 109.00h1.00v1.00h-1.00zM638.00 91.00h1.00v1.00h-1.00zM638.00 93.00h1.00v1.00h-1.00zM638.00 95.00h1.00v1.00h-1.00zM638.00 102.00h1.00v1.00h-1.00zM638.00 105.00h1.00v1.00h-1.00zM638.00 107.00h1.00v1.00h-1.00zM639.00 72.00h1.00v1.00h-1.00zM639.00 76.00h1.00v1.00h-1.00zM639.00 79.00h1.00v1.00h-1.00zM639.00 80.00h1.00v1.00h-1.00zM639.00 81.00h1.00v1.00h-1.00zM639.00 85.00h1.00v1.00h-1.00zM639.00 86.00h1.00v1.00h-1.00zM639.00 89.00h1.00v1.00h-1.00zM639.00 103.00h1.00v1.00h-1.00zM639.00 105.00h1.00v1.00h-1.00zM640.00 75.00h1.00v1.00h-1.00zM640.00 83.00h1.00v1.00h-1.00zM640.00 86.00h1.00v1.00h-1.00zM640.00 89.00h1.00v1.00h-1.00zM640.00 91.00h1.00v1.00h-1.00zM640.00 93.00h1.00v1.00h-1.00zM640.00 104.00h1.00v1.00h-1.00zM641.00 76.00h1.00v1.00h-1.00zM641.00 81.00h1.00v1.00h-1.00zM641.00 94.00h1.00v1.00h-1.00zM641.00 103.00h1.00v1.00h-1.00zM642.00 86.00h1.00v1.00h-1.00zM642.00 88.00h1.00v1.00h-1.00zM642.00 102.00h1.00v1.00h-1.00zM642.00 103.00h1.00v1.00h-1.00zM643.00 72.00h1.00v1.00h-1.00zM643.00 76.00h1.00v1.00h-1.00zM643.00 82.00h1.00v1.00h-1.00zM643.00 86.00h1.00v1.00h-1.00zM643.00 89.00h1.00v1.00h-1.00zM643.00 104.00h1.00v1.00h-1.00zM643.00 105.00h1.00v1.00h-1.00zM644.00 81.00h1.00v1.00h-1.00zM644.00 91.00h1.00v1.00h-1.00zM644.00 97.00h1.00v1.00h-1.00zM644.00 105.00h1.00v1.00h-1.00zM645.00 55.00h1.00v1.00h-1.00zM645.00 77.00h1.00v1.00h-1.00zM645.00 85.00h1.00v1.00h-1.00zM645.00 91.00h1.00v1.00h-1.00zM645.00 97.00h1.00v1.00h-1.00zM645.00 104.00h1.00v1.00h-1.00zM645.00 112.00h1.00v1.00h-1.00zM646.00 73.00h1.00v1.00h-1.00zM646.00 88.00h1.00v1.00h-1.00zM646.00 102.00h1.00v1.00h-1.00zM646.00 104.00h1.00v1.00h-1.00zM646.00 106.00h1.00v1.00h-1.00zM647.00 70.00h1.00v1.00h-1.00zM647.00 79.00h1.00v1.00h-1.00zM647.00 81.00h1.00v1.00h-1.00zM647.00 94.00h1.00v1.00h-1.00zM647.00 97.00h1.00v1.00h-1.00zM647.00 102.00h1.00v1.00h-1.00zM647.00 103.00h1.00v1.00h-1.00zM647.00 105.00h1.00v1.00h-1.00zM647.00 113.00h1.00v1.00h-1.00zM647.00 114.00h1.00v1.00h-1.00zM647.00 127.00h1.00v1.00h-1.00zM648.00 83.00h1.00v1.00h-1.00zM648.00 84.00h1.00v1.00h-1.00zM648.00 93.00h1.00v1.00h-1.00zM648.00 94.00h1.00v1.00h-1.00zM648.00 96.00h1.00v1.00h-1.00zM648.00 98.00h1.00v1.00h-1.00zM648.00 111.00h1.00v1.00h-1.00zM648.00 112.00h1.00v1.00h-1.00zM648.00 118.00h1.00v1.00h-1.00zM648.00 124.00h1.00v1.00h-1.00zM649.00 77.00h1.00v1.00h-1.00zM649.00 78.00h1.00v1.00h-1.00zM649.00 84.00h1.00v1.00h-1.00zM649.00 92.00h1.00v1.00h-1.00zM649.00 101.00h1.00v1.00h-1.00zM649.00 108.00h1.00v1.00h-1.00zM649.00 111.00h1.00v1.00h-1.00zM649.00 115.00h1.00v1.00h-1.00zM650.00 73.00h1.00v1.00h-1.00zM650.00 85.00h1.00v1.00h-1.00zM650.00 87.00h1.00v1.00h-1.00zM650.00 88.00h1.00v1.00h-1.00zM650.00 89.00h1.00v1.00h-1.00zM650.00 93.00h1.00v1.00h-1.00zM650.00 97.00h1.00v1.00h-1.00zM650.00 100.00h1.00v1.00h-1.00zM650.00 102.00h1.00v1.00h-1.00zM650.00 104.00h1.00v1.00h-1.00zM650.00 107.00h1.00v1.00h-1.00zM650.00 111.00h1.00v1.00h-1.00zM651.00 77.00h1.00v1.00h-1.00zM651.00 82.00h1.00v1.00h-1.00zM651.00 97.00h1.00v1.00h-1.00zM651.00 98.00h1.00v1.00h-1.00zM651.00 100.00h1.00v1.00h-1.00zM651.00 101.00h1.00v1.00h-1.00zM651.00 102.00h1.00v1.00h-1.00zM652.00 69.00h1.00v1.00h-1.00zM652.00 75.00h1.00v1.00h-1.00zM652.00 84.00h1.00v1.00h-1.00zM652.00 87.00h1.00v1.00h-1.00zM652.00 88.00h1.00v1.00h-1.00zM652.00 89.00h1.00v1.00h-1.00zM652.00 91.00h1.00v1.00h-1.00zM652.00 97.00h1.00v1.00h-1.00zM652.00 98.00h1.00v1.00h-1.00zM652.00 100.00h1.00v1.00h-1.00zM652.00 105.00h1.00v1.00h-1.00zM653.00 87.00h1.00v1.00h-1.00zM653.00 88.00h1.00v1.00h-1.00zM653.00 92.00h1.00v1.00h-1.00zM653.00 96.00h1.00v1.00h-1.00zM653.00 97.00h1.00v1.00h-1.00zM653.00 103.00h1.00v1.00h-1.00zM653.00 105.00h1.00v1.00h-1.00zM653.00 110.00h1.00v1.00h-1.00zM653.00 118.00h1.00v1.00h-1.00zM654.00 88.00h1.00v1.00h-1.00zM654.00 90.00h1.00v1.00h-1.00zM654.00 107.00h1.00v1.00h-1.00zM654.00 108.00h1.00v1.00h-1.00zM654.00 110.00h1.00v1.00h-1.00zM655.00 74.00h1.00v1.00h-1.00zM655.00 82.00h1.00v1.00h-1.00zM655.00 88.00h1.00v1.00h-1.00zM655.00 100.00h1.00v1.00h-1.00zM655.00 102.00h1.00v1.00h-1.00zM655.00 107.00h1.00v1.00h-1.00zM656.00 65.00h1.00v1.00h-1.00zM656.00 84.00h1.00v1.00h-1.00zM656.00 88.00h1.00v1.00h-1.00zM656.00 89.00h1.00v1.00h-1.00zM656.00 103.00h1.00v1.00h-1.00zM656.00 108.00h1.00v1.00h-1.00zM656.00 113.00h1.00v1.00h-1.00zM657.00 81.00h1.00v1.00h-1.00zM657.00 82.00h1.00v1.00h-1.00zM657.00 88.00h1.00v1.00h-1.00zM657.00 93.00h1.00v1.00h-1.00zM657.00 95.00h1.00v1.00h-1.00zM657.00 96.00h1.00v1.00h-1.00zM657.00 103.00h1.00v1.00h-1.00zM657.00 104.00h1.00v1.00h-1.00zM657.00 108.00h1.00v1.00h-1.00zM658.00 80.00h1.00v1.00h-1.00zM658.00 88.00h1.00v1.00h-1.00zM658.00 89.00h1.00v1.00h-1.00zM658.00 102.00h1.00v1.00h-1.00zM658.00 108.00h1.00v1.00h-1.00zM658.00 111.00h1.00v1.00h-1.00zM659.00 85.00h1.00v1.00h-1.00zM659.00 90.00h1.00v1.00h-1.00zM659.00 92.00h1.00v1.00h-1.00zM659.00 104.00h1.00v1.00h-1.00zM660.00 71.00h1.00v1.00h-1.00zM660.00 75.00h1.00v1.00h-1.00zM660.00 86.00h1.00v1.00h-1.00zM660.00 87.00h1.00v1.00h-1.00zM660.00 88.00h1.00v1.00h-1.00zM660.00 92.00h1.00v1.00h-1.00zM660.00 98.00h1.00v1.00h-1.00zM660.00 110.00h1.00v1.00h-1.00zM661.00 68.00h1.00v1.00h-1.00zM661.00 79.00h1.00v1.00h-1.00zM661.00 82.00h1.00v1.00h-1.00zM661.00 87.00h1.00v1.00h-1.00zM661.00 91.00h1.00v1.00h-1.00zM661.00 97.00h1.00v1.00h-1.00zM661.00 103.00h1.00v1.00h-1.00zM661.00 104.00h1.00v1.00h-1.00zM661.00 106.00h1.00v1.00h-1.00zM661.00 113.00h1.00v1.00h-1.00zM661.00 118.00h1.00v1.00h-1.00zM662.00 60.00h1.00v1.00h-1.00zM662.00 80.00h1.00v1.00h-1.00zM662.00 86.00h1.00v1.00h-1.00zM662.00 90.00h1.00v1.00h-1.00zM662.00 91.00h1.00v1.00h-1.00zM662.00 103.00h1.00v1.00h-1.00zM662.00 106.00h1.00v1.00h-1.00zM662.00 107.00h1.00v1.00h-1.00zM663.00 88.00h1.00v1.00h-1.00zM663.00 91.00h1.00v1.00h-1.00zM663.00 93.00h1.00v1.00h-1.00zM663.00 102.00h1.00v1.00h-1.00zM663.00 106.00h1.00v1.00h-1.00zM663.00 114.00h1.00v1.00h-1.00zM664.00 59.00h1.00v1.00h-1.00zM664.00 65.00h1.00v1.00h-1.00zM664.00 73.00h1.00v1.00h-1.00zM664.00 76.00h1.00v1.00h-1.00zM664.00 84.00h1.00v1.00h-1.00zM664.00 88.00h1.00v1.00h-1.00zM664.00 89.00h1.00v1.00h-1.00zM664.00 102.00h1.00v1.00h-1.00zM664.00 103.00h1.00v1.00h-1.00zM664.00 106.00h1.00v1.00h-1.00zM665.00 80.00h1.00v1.00h-1.00zM665.00 92.00h1.00v1.00h-1.00zM665.00 93.00h1.00v1.00h-1.00zM665.00 94.00h1.00v1.00h-1.00zM665.00 95.00h1.00v1.00h-1.00zM665.00 104.00h1.00v1.00h-1.00zM665.00 107.00h1.00v1.00h-1.00zM665.00 124.00h1.00v1.00h-1.00zM666.00 84.00h1.00v1.00h-1.00zM666.00 89.00h1.00v1.00h-1.00zM666.00 93.00h1.00v1.00h-1.00zM666.00 97.00h1.00v1.00h-1.00zM666.00 105.00h1.00v1.00h-1.00zM666.00 110.00h1.00v1.00h-1.00zM667.00 74.00h1.00v1.00h-1.00zM667.00 79.00h1.00v1.00h-1.00zM667.00 80.00h1.00v1.00h-1.00zM667.00 82.00h1.00v1.00h-1.00zM667.00 85.00h1.00v1.00h-1.00zM667.00 90.00h1.00v1.00h-1.00zM667.00 91.00h1.00v1.00h-1.00zM667.00 94.00h1.00v1.00h-1.00zM667.00 98.00h1.00v1.00h-1.00zM667.00 110.00h1.00v1.00h-1.00zM667.00 112.00h1.00v1.00h-1.00zM667.00 126.00h1.00v1.00h-1.00zM668.00 70.00h1.00v1.00h-1.00zM668.00 82.00h1.00v1.00h-1.00zM668.00 85.00h1.00v1.00h-1.00zM668.00 88.00h1.00v1.00h-1.00zM668.00 89.00h1.00v1.00h-1.00zM668.00 95.00h1.00v1.00h-1.00zM668.00 99.00h1.00v1.00h-1.00zM668.00 108.00h1.00v1.00h-1.00zM669.00 82.00h1.00v1.00h-1.00zM669.00 91.00h1.00v1.00h-1.00zM669.00 95.00h1.00v1.00h-1.00zM669.00 96.00h1.00v1.00h-1.00zM669.00 100.00h1.00v1.00h-1.00zM669.00 103.00h1.00v1.00h-1.00zM669.00 104.00h1.00v1.00h-1.00zM669.00 107.00h1.00v1.00h-1.00zM670.00 84.00h1.00v1.00h-1.00zM670.00 87.00h1.00v1.00h-1.00zM670.00 88.00h1.00v1.00h-1.00zM670.00 90.00h1.00v1.00h-1.00zM670.00 92.00h1.00v1.00h-1.00zM670.00 97.00h1.00v1.00h-1.00zM670.00 100.00h1.00v1.00h-1.00zM670.00 102.00h1.00v1.00h-1.00zM671.00 79.00h1.00v1.00h-1.00zM671.00 84.00h1.00v1.00h-1.00zM671.00 88.00h1.00v1.00h-1.00zM671.00 90.00h1.00v1.00h-1.00zM671.00 91.00h1.00v1.00h-1.00zM671.00 92.00h1.00v1.00h-1.00zM671.00 94.00h1.00v1.00h-1.00zM671.00 96.00h1.00v1.00h-1.00zM671.00 100.00h1.00v1.00h-1.00zM671.00 102.00h1.00v1.00h-1.00zM672.00 66.00h1.00v1.00h-1.00zM672.00 80.00h1.00v1.00h-1.00zM672.00 95.00h1.00v1.00h-1.00zM672.00 100.00h1.00v1.00h-1.00zM672.00 102.00h1.00v1.00h-1.00zM673.00 85.00h1.00v1.00h-1.00zM673.00 89.00h1.00v1.00h-1.00zM673.00 90.00h1.00v1.00h-1.00zM673.00 93.00h1.00v1.00h-1.00zM673.00 94.00h1.00v1.00h-1.00zM673.00 95.00h1.00v1.00h-1.00zM673.00 103.00h1.00v1.00h-1.00zM673.00 104.00h1.00v1.00h-1.00zM674.00 83.00h1.00v1.00h-1.00zM674.00 89.00h1.00v1.00h-1.00zM674.00 90.00h1.00v1.00h-1.00zM674.00 92.00h1.00v1.00h-1.00zM674.00 93.00h1.00v1.00h-1.00zM674.00 99.00h1.00v1.00h-1.00zM674.00 101.00h1.00v1.00h-1.00zM674.00 105.00h1.00v1.00h-1.00zM674.00 109.00h1.00v1.00h-1.00zM675.00 76.00h1.00v1.00h-1.00zM675.00 87.00h1.00v1.00h-1.00zM675.00 91.00h1.00v1.00h-1.00zM675.00 97.00h1.00v1.00h-1.00zM675.00 101.00h1.00v1.00h-1.00zM675.00 106.00h1.00v1.00h-1.00zM675.00 107.00h1.00v1.00h-1.00zM675.00 110.00h1.00v1.00h-1.00zM676.00 69.00h1.00v1.00h-1.00zM676.00 87.00h1.00v1.00h-1.00zM676.00 91.00h1.00v1.00h-1.00zM676.00 93.00h1.00v1.00h-1.00zM676.00 105.00h1.00v1.00h-1.00zM676.00 107.00h1.00v1.00h-1.00zM676.00 108.00h1.00v1.00h-1.00zM677.00 54.00h1.00v1.00h-1.00zM677.00 71.00h1.00v1.00h-1.00zM677.00 81.00h1.00v1.00h-1.00zM677.00 96.00h1.00v1.00h-1.00zM678.00 85.00h1.00v1.00h-1.00zM678.00 90.00h1.00v1.00h-1.00zM678.00 92.00h1.00v1.00h-1.00zM678.00 93.00h1.00v1.00h-1.00zM678.00 99.00h1.00v1.00h-1.00zM678.00 102.00h1.00v1.00h-1.00zM678.00 112.00h1.00v1.00h-1.00zM679.00 82.00h1.00v1.00h-1.00zM679.00 84.00h1.00v1.00h-1.00zM679.00 91.00h1.00v1.00h-1.00zM679.00 94.00h1.00v1.00h-1.00zM679.00 104.00h1.00v1.00h-1.00zM679.00 109.00h1.00v1.00h-1.00zM680.00 75.00h1.00v1.00h-1.00zM680.00 76.00h1.00v1.00h-1.00zM680.00 78.00h1.00v1.00h-1.00zM680.00 80.00h1.00v1.00h-1.00zM680.00 87.00h1.00v1.00h-1.00zM680.00 88.00h1.00v1.00h-1.00zM680.00 91.00h1.00v1.00h-1.00zM680.00 92.00h1.00v1.00h-1.00zM680.00 95.00h1.00v1.00h-1.00zM681.00 86.00h1.00v1.00h-1.00zM681.00 93.00h1.00v1.00h-1.00zM681.00 95.00h1.00v1.00h-1.00zM681.00 104.00h1.00v1.00h-1.00zM681.00 105.00h1.00v1.00h-1.00zM681.00 111.00h1.00v1.00h-1.00zM682.00 85.00h1.00v1.00h-1.00zM682.00 88.00h1.00v1.00h-1.00zM682.00 93.00h1.00v1.00h-1.00zM682.00 97.00h1.00v1.00h-1.00zM682.00 104.00h1.00v1.00h-1.00zM682.00 107.00h1.00v1.00h-1.00zM682.00 117.00h1.00v1.00h-1.00zM683.00 77.00h1.00v1.00h-1.00zM683.00 90.00h1.00v1.00h-1.00zM683.00 94.00h1.00v1.00h-1.00zM683.00 97.00h1.00v1.00h-1.00zM683.00 101.00h1.00v1.00h-1.00zM683.00 103.00h1.00v1.00h-1.00zM683.00 105.00h1.00v1.00h-1.00zM683.00 120.00h1.00v1.00h-1.00zM684.00 86.00h1.00v1.00h-1.00zM684.00 88.00h1.00v1.00h-1.00zM684.00 91.00h1.00v1.00h-1.00zM684.00 92.00h1.00v1.00h-1.00zM684.00 93.00h1.00v1.00h-1.00zM684.00 97.00h1.00v1.00h-1.00zM684.00 106.00h1.00v1.00h-1.00zM684.00 123.00h1.00v1.00h-1.00zM685.00 54.00h1.00v1.00h-1.00zM685.00 83.00h1.00v1.00h-1.00zM685.00 88.00h1.00v1.00h-1.00zM685.00 89.00h1.00v1.00h-1.00zM685.00 92.00h1.00v1.00h-1.00zM685.00 93.00h1.00v1.00h-1.00zM685.00 111.00h1.00v1.00h-1.00zM685.00 113.00h1.00v1.00h-1.00zM686.00 90.00h1.00v1.00h-1.00zM686.00 96.00h1.00v1.00h-1.00zM686.00 97.00h1.00v1.00h-1.00zM686.00 102.00h1.00v1.00h-1.00zM686.00 105.00h1.00v1.00h-1.00zM686.00 108.00h1.00v1.00h-1.00zM686.00 110.00h1.00v1.00h-1.00zM687.00 86.00h1.00v1.00h-1.00zM687.00 93.00h1.00v1.00h-1.00zM687.00 102.00h1.00v1.00h-1.00zM687.00 103.00h1.00v1.00h-1.00zM687.00 107.00h1.00v1.00h-1.00z"/>
<path fill="#8000ff" d="M82.00 103.00h1.00v1.00h-1.00zM85.00 87.00h1.00v1.00h-1.00zM85.00 92.00h1.00v1.00h-1.00zM85.00 96.00h1.00v1.00h-1.00zM99.00 102.00h1.00v1.00h-1.00zM105.00 103.00h1.00v1.00h-1.00zM105.00 106.00h1.00v1.00h-1.00zM109.00 107.00h1.00v1.00h-1.00zM116.00 101.00h1.00v1.00h-1.00zM116.00 109.00h1.00v1.00h-1.00zM130.00 97.00h1.00v1.00h-1.00zM132.00 91.00h1.00v1.00h-1.00zM140.00 99.00h1.00v1.00h-1.00zM140.00 104.00h1.00v1.00h-1.00zM192.00 89.00h1.00v1.00h-1.00zM192.00 98.00h1.00v1.00h-1.00zM192.00 99.00h1.00v1.00h-1.00zM225.00 80.00h1.00v1.00h-1.00zM225.00 86.00h1.00v1.00h-1.00zM226.00 107.00h1.00v1.00h-1.00zM226.00 112.00h1.00v1.00h-1.00zM228.00 94.00h1.00v1.00h-1.00zM230.00 91.00h1.00v1.00h-1.00zM230.00 95.00h1.00v1.00h-1.00zM231.00 94.00h1.00v1.00h-1.00zM232.00 86.00h1.00v1.00h-1.00zM235.00 83.00h1.00v1.00h-1.00zM235.00 94.00h1.00v1.00h-1.00zM235.00 95.00h1.00v1.00h-1.00zM235.00 96.00h1.00v1.00h-1.00zM235.00 100.00h1.00v1.00h-1.00zM241.00 95.00h1.00v1.00h-1.00zM249.00 89.00h1.00v1.00h-1.00zM254.00 88.00h1.00v1.00h-1.00zM255.00 92.00h1.00v1.00h-1.00zM260.00 89.00h1.00v1.00h-1.00zM260.00 90.00h1.00v1.00h-1.00zM263.00 82.00h1.00v1.00h-1.00zM264.00 81.00h1.00v1.00h-1.00zM264.00 95.00h1.00v1.00h-1.00zM266.00 88.00h1.00v1.00h-1.00zM267.00 89.00h1.00v1.00h-1.00zM267.00 108.00h1.00v1.00h-1.00zM267.00 109.00h1.00v1.00h-1.00zM267.00 113.00h1.00v1.00h-1.00zM273.00 80.00h1.00v1.00h-1.00zM276.00 93.00h1.00v1.00h-1.00zM279.00 93.00h1.00v1.00h-1.00zM279.00 94.00h1.00v1.00h-1.00zM281.00 90.00h1.00v1.00h-1.00zM285.00 95.00h1.00v1.00h-1.00zM296.00 84.00h1.00v1.00h-1.00zM297.00 91.00h1.00v1.00h-1.00zM297.00 92.00h1.00v1.00h-1.00zM297.00 93.00h1.00v1.00h-1.00zM311.00 95.00h1.00v1.00h-1.00zM311.00 104.00h1.00v1.00h-1.00zM314.00 86.00h1.00v1.00h-1.00zM314.00 89.00h1.00v1.00h-1.00zM320.00 89.00h1.00v1.00h-1.00zM320.00 95.00h1.00v1.00h-1.00zM322.00 90.00h1.00v1.00h-1.00zM323.00 85.00h1.00v1.00h-1.00zM324.00 85.00h1.00v1.00h-1.00zM330.00 85.00h1.00v1.00h-1.00zM330.00 86.00h1.00v1.00h-1.00zM330.00 97.00h1.00v1.00h-1.00zM332.00 97.00h1.00v1.00h-1.00zM335.00 91.00h1.00v1.00h-1.00zM337.00 94.00h1.00v1.00h-1.00zM338.00 94.00h1.00v1.00h-1.00zM345.00 81.00h1.00v1.00h-1.00zM345.00 91.00h1.00v1.00h-1.00zM346.00 86.00h1.00v1.00h-1.00zM354.00 89.00h1.00v1.00h-1.00zM358.00 90.00h1.00v1.00h-1.00zM361.00 88.00h1.00v1.00h-1.00zM361.00 97.00h1.00v1.00h-1.00zM361.00 98.00h1.00v1.00h-1.00zM365.00 90.00h1.00v1.00h-1.00zM371.00 86.00h1.00v1.00h-1.00zM378.00 88.00h1.00v1.00h-1.00zM381.00 84.00h1.00v1.00h-1.00zM382.00 78.00h1.00v1.00h-1.00zM382.00 91.00h1.00v1.00h-1.00zM384.00 92.00h1.00v1.00h-1.00zM388.00 90.00h1.00v1.00h-1.00zM390.00 82.00h1.00v1.00h-1.00zM391.00 95.00h1.00v1.00h-1.00zM400.00 88.00h1.00v1.00h-1.00zM410.00 84.00h1.00v1.00h-1.00zM410.00 89.00h1.00v1.00h-1.00zM412.00 91.00h1.00v1.00h-1.00zM422.00 95.00h1.00v1.00h-1.00zM422.00 97.00h1.00v1.00h-1.00zM426.00 84.00h1.00v1.00h-1.00zM426.00 88.00h1.00v1.00h-1.00zM429.00 92.00h1.00v1.00h-1.00zM434.00 89.00h1.00v1.00h-1.00zM434.00 90.00h1.00v1.00h-1.00zM441.00 85.00h1.00v1.00h-1.00zM442.00 89.00h1.00v1.00h-1.00zM442.00 90.00h1.00v1.00h-1.00zM443.00 89.00h1.00v1.00h-1.00zM443.00 91.00h1.00v1.00h-1.00zM443.00 94.00h1.00v1.00h-1.00zM456.00 89.00h1.00v1.00h-1.00zM456.00 92.00h1.00v1.00h-1.00zM458.00 86.00h1.00v1.00h-1.00zM458.00 91.00h1.00v1.00h-1.00zM458.00 92.00h1.00v1.00h-1.00zM458.00 93.00h1.00v1.00h-1.00zM459.00 94.00h1.00v1.00h-1.00zM463.00 94.00h1.00v1.00h-1.00zM464.00 106.00h1.00v1.00h-1.00zM465.00 85.00h1.00v1.00h-1.00zM465.00 88.00h1.00v1.00h-1.00zM465.00 90.00h1.00v1.00h-1.00zM465.00 99.00h1.00v1.00h-1.00zM465.00 100.00h1.00v1.00h-1.00zM465.00 101.00h1.00v1.00h-1.00zM465.00 103.00h1.00v1.00h-1.00zM467.00 83.00h1.00v1.00h-1.00zM468.00 88.00h1.00v1.00h-1.00zM469.00 88.00h1.00v1.00h-1.00zM471.00 96.00h1.00v1.00h-1.00zM472.00 92.00h1.00v1.00h-1.00zM473.00 92.00h1.00v1.00h-1.00zM476.00 89.00h1.00v1.00h-1.00zM477.00 79.00h1.00v1.00h-1.00zM480.00 89.00h1.00v1.00h-1.00zM481.00 85.00h1.00v1.00h-1.00zM485.00 97.00h1.00v1.00h-1.00zM487.00 90.00h1.00v1.00h-1.00zM492.00 92.00h1.00v1.00h-1.00zM494.00 87.00h1.00v1.00h-1.00zM494.00 88.00h1.00v1.00h-1.00zM494.00 94.00h1.00v1.00h-1.00zM497.00 97.00h1.00v1.00h-1.00zM498.00 91.00h1.00v1.00h-1.00zM499.00 89.00h1.00v1.00h-1.00zM500.00 85.00h1.00v1.00h-1.00zM501.00 87.00h1.00v1.00h-1.00zM502.00 84.00h1.00v1.00h-1.00zM510.00 102.00h1.00v1.00h-1.00zM510.00 107.00h1.00v1.00h-1.00zM514.00 94.00h1.00v1.00h-1.00zM514.00 100.00h1.00v1.00h-1.00zM514.00 101.00h1.00v1.00h-1.00zM515.00 81.00h1.00v1.00h-1.00zM518.00 91.00h1.00v1.00h-1.00zM522.00 95.00h1.00v1.00h-1.00zM526.00 91.00h1.00v1.00h-1.00zM526.00 92.00h1.00v1.00h-1.00zM526.00 100.00h1.00v1.00h-1.00zM527.00 89.00h1.00v1.00h-1.00zM534.00 92.00h1.00v1.00h-1.00zM536.00 89.00h1.00v1.00h-1.00zM538.00 106.00h1.00v1.00h-1.00zM539.00 93.00h1.00v1.00h-1.00zM539.00 94.00h1.00v1.00h-1.00zM539.00 112.00h1.00v1.00h-1.00zM539.00 113.00h1.00v1.00h-1.00zM541.00 91.00h1.00v1.00h-1.00zM541.00 96.00h1.00v1.00h-1.00zM544.00 95.00h1.00v1.00h-1.00zM546.00 98.00h1.00v1.00h-1.00zM550.00 88.00h1.00v1.00h-1.00zM554.00 90.00h1.00v1.00h-1.00zM556.00 97.00h1.00v1.00h-1.00zM556.00 99.00h1.00v1.00h-1.00zM556.00 109.00h1.00v1.00h-1.00zM557.00 83.00h1.00v1.00h-1.00zM558.00 114.00h1.00v1.00h-1.00zM559.00 88.00h1.00v1.00h-1.00zM561.00 93.00h1.00v1.00h-1.00zM564.00 85.00h1.00v1.00h-1.00zM564.00 86.00h1.00v1.00h-1.00zM568.00 95.00h1.00v1.00h-1.00zM571.00 85.00h1.00v1.00h-1.00zM571.00 93.00h1.00v1.00h-1.00zM571.00 97.00h1.00v1.00h-1.00zM571.00 98.00h1.00v1.00h-1.00zM571.00 99.00h1.00v1.00h-1.00zM572.00 105.00h1.00v1.00h-1.00zM572.00 106.00h1.00v1.00h-1.00zM573.00 100.00h1.00v1.00h-1.00zM574.00 84.00h1.00v1.00h-1.00zM574.00 87.00h1.00v1.00h-1.00zM575.00 85.00h1.00v1.00h-1.00zM576.00 95.00h1.00v1.00h-1.00zM580.00 91.00h1.00v1.00h-1.00zM581.00 85.00h1.00v1.00h-1.00zM581.00 90.00h1.00v1.00h-1.00zM581.00 93.00h1.00v1.00h-1.00zM586.00 83.00h1.00v1.00h-1.00zM587.00 83.00h1.00v1.00h-1.00zM591.00 90.00h1.00v1.00h-1.00zM591.00 91.00h1.00v1.00h-1.00zM591.00 104.00h1.00v1.00h-1.00zM592.00 92.00h1.00v1.00h-1.00zM593.00 97.00h1.00v1.00h-1.00zM594.00 85.00h1.00v1.00h-1.00zM594.00 99.00h1.00v1.00h-1.00zM594.00 100.00h1.00v1.00h-1.00zM594.00 102.00h1.00v1.00h-1.00zM594.00 103.00h1.00v1.00h-1.00zM600.00 88.00h1.00v1.00h-1.00zM600.00 91.00h1.00v1.00h-1.00zM600.00 98.00h1.00v1.00h-1.00zM601.00 88.00h1.00v1.00h-1.00zM604.00 94.00h1.00v1.00h-1.00zM604.00 109.00h1.00v1.00h-1.00zM604.00 110.00h1.00v1.00h-1.00zM605.00 88.00h1.00v1.00h-1.00zM608.00 99.00h1.00v1.00h-1.00zM610.00 103.00h1.00v1.00h-1.00zM610.00 104.00h1.00v1.00h-1.00zM613.00 92.00h1.00v1.00h-1.00zM613.00 98.00h1.00v1.00h-1.00zM615.00 88.00h1.00v1.00h-1.00zM620.00 93.00h1.00v1.00h-1.00zM622.00 91.00h1.00v1.00h-1.00zM622.00 102.00h1.00v1.00h-1.00zM625.00 85.00h1.00v1.00h-1.00zM625.00 106.00h1.00v1.00h-1.00zM626.00 94.00h1.00v1.00h-1.00zM626.00 96.00h1.00v1.00h-1.00zM626.00 106.00h1.00v1.00h-1.00zM627.00 92.00h1.00v1.00h-1.00zM627.00 104.00h1.00v1.00h-1.00zM630.00 96.00h1.00v1.00h-1.00zM633.00 90.00h1.00v1.00h-1.00zM633.00 91.00h1.00v1.00h-1.00zM634.00 77.00h1.00v1.00h-1.00zM634.00 88.00h1.00v1.00h-1.00zM635.00 92.00h1.00v1.00h-1.00zM635.00 94.00h1.00v1.00h-1.00zM636.00 90.00h1.00v1.00h-1.00zM636.00 95.00h1.00v1.00h-1.00zM636.00 101.00h1.00v1.00h-1.00zM636.00 102.00h1.00v1.00h-1.00zM637.00 92.00h1.00v1.00h-1.00zM637.00 100.00h1.00v1.00h-1.00zM639.00 92.00h1.00v1.00h-1.00zM639.00 93.00h1.00v1.00h-1.00zM639.00 94.00h1.00v1.00h-1.00zM639.00 101.00h1.00v1.00h-1.00zM639.00 102.00h1.00v1.00h-1.00zM640.00 95.00h1.00v1.00h-1.00zM641.00 96.00h1.00v1.00h-1.00zM642.00 96.00h1.00v1.00h-1.00zM643.00 87.00h1.00v1.00h-1.00zM643.00 90.00h1.00v1.00h-1.00zM643.00 92.00h1.00v1.00h-1.00zM643.00 94.00h1.00v1.00h-1.00zM644.00 92.00h1.00v1.00h-1.00zM646.00 89.00h1.00v1.00h-1.00zM647.00 96.00h1.00v1.00h-1.00zM648.00 92.00h1.00v1.00h-1.00zM648.00 95.00h1.00v1.00h-1.00zM648.00 97.00h1.00v1.00h-1.00zM648.00 107.00h1.00v1.00h-1.00zM648.00 110.00h1.00v1.00h-1.00zM649.00 99.00h1.00v1.00h-1.00zM651.00 85.00h1.00v1.00h-1.00zM651.00 86.00h1.00v1.00h-1.00zM651.00 96.00h1.00v1.00h-1.00zM652.00 103.00h1.00v1.00h-1.00zM653.00 98.00h1.00v1.00h-1.00zM654.00 109.00h1.00v1.00h-1.00zM655.00 93.00h1.00v1.00h-1.00zM655.00 97.00h1.00v1.00h-1.00zM656.00 90.00h1.00v1.00h-1.00zM656.00 91.00h1.00v1.00h-1.00zM656.00 99.00h1.00v1.00h-1.00zM656.00 100.00h1.00v1.00h-1.00zM656.00 101.00h1.00v1.00h-1.00zM657.00 89.00h1.00v1.00h-1.00zM659.00 89.00h1.00v1.00h-1.00zM659.00 93.00h1.00v1.00h-1.00zM659.00 105.00h1.00v1.00h-1.00zM660.00 93.00h1.00v1.00h-1.00zM662.00 89.00h1.00v1.00h-1.00zM662.00 99.00h1.00v1.00h-1.00zM662.00 101.00h1.00v1.00h-1.00zM665.00 98.00h1.00v1.00h-1.00zM665.00 101.00h1.00v1.00h-1.00zM665.00 103.00h1.00v1.00h-1.00zM667.00 93.00h1.00v1.00h-1.00zM667.00 97.00h1.00v1.00h-1.00zM667.00 108.00h1.00v1.00h-1.00zM668.00 91.00h1.00v1.00h-1.00zM668.00 93.00h1.00v1.00h-1.00zM668.00 102.00h1.00v1.00h-1.00zM670.00 91.00h1.00v1.00h-1.00zM672.00 88.00h1.00v1.00h-1.00zM672.00 97.00h1.00v1.00h-1.00zM673.00 96.00h1.00v1.00h-1.00zM673.00 97.00h1.00v1.00h-1.00zM673.00 102.00h1.00v1.00h-1.00zM674.00 91.00h1.00v1.00h-1.00zM675.00 92.00h1.00v1.00h-1.00zM675.00 100.00h1.00v1.00h-1.00zM676.00 96.00h1.00v1.00h-1.00zM676.00 100.00h1.00v1.00h-1.00zM677.00 80.00h1.00v1.00h-1.00zM677.00 91.00h1.00v1.00h-1.00zM677.00 98.00h1.00v1.00h-1.00zM678.00 95.00h1.00v1.00h-1.00zM678.00 101.00h1.00v1.00h-1.00zM678.00 104.00h1.00v1.00h-1.00zM679.00 90.00h1.00v1.00h-1.00zM679.00 102.00h1.00v1.00h-1.00zM679.00 103.00h1.00v1.00h-1.00zM680.00 108.00h1.00v1.00h-1.00zM681.00 78.00h1.00v1.00h-1.00zM681.00 102.00h1.00v1.00h-1.00zM681.00 103.00h1.00v1.00h-1.00zM681.00 112.00h1.00v1.00h-1.00zM682.00 94.00h1.00v1.00h-1.00zM682.00 95.00h1.00v1.00h-1.00zM685.00 82.00h1.00v1.00h-1.00zM685.00 91.00h1.00v1.00h-1.00zM685.00 106.00h1.00v1.00h-1.00zM685.00 108.00h1.00v1.00h-1.00zM685.00 109.00h1.00v1.00h-1.00zM686.00 93.00h1.00v1.00h-1.00zM687.00 101.00h1.00v1.00h-1.00z"/>
<path fill="#0000ff" d="M82.00 98.00h1.00v1.00h-1.00zM85.00 91.00h1.00v1.00h-1.00zM85.00 93.00h1.00v1.00h-1.00zM85.00 97.00h1.00v1.00h-1.00zM109.00 106.00h1.00v1.00h-1.00zM116.00 107.00h1.00v1.00h-1.00zM130.00 98.00h1.00v1.00h-1.00zM130.00 100.00h1.00v1.00h-1.00zM130.00 107.00h1.00v1.00h-1.00zM140.00 101.00h1.00v1.00h-1.00zM192.00 95.00h1.00v1.00h-1.00zM192.00 96.00h1.00v1.00h-1.00zM226.00 108.00h1.00v1.00h-1.00zM230.00 90.00h1.00v1.00h-1.00zM232.00 82.00h1.00v1.00h-1.00zM235.00 92.00h1.00v1.00h-1.00zM237.00 95.00h1.00v1.00h-1.00zM240.00 93.00h1.00v1.00h-1.00zM242.00 92.00h1.00v1.00h-1.00zM251.00 86.00h1.00v1.00h-1.00zM299.00 81.00h1.00v1.00h-1.00zM311.00 106.00h1.00v1.00h-1.00zM314.00 91.00h1.00v1.00h-1.00zM320.00 94.00h1.00v1.00h-1.00zM342.00 90.00h1.00v1.00h-1.00zM348.00 84.00h1.00v1.00h-1.00zM355.00 86.00h1.00v1.00h-1.00zM355.00 87.00h1.00v1.00h-1.00zM357.00 87.00h1.00v1.00h-1.00zM361.00 89.00h1.00v1.00h-1.00zM361.00 95.00h1.00v1.00h-1.00zM361.00 96.00h1.00v1.00h-1.00zM382.00 82.00h1.00v1.00h-1.00zM382.00 85.00h1.00v1.00h-1.00zM382.00 87.00h1.00v1.00h-1.00zM383.00 89.00h1.00v1.00h-1.00zM388.00 86.00h1.00v1.00h-1.00zM390.00 84.00h1.00v1.00h-1.00zM391.00 96.00h1.00v1.00h-1.00zM394.00 95.00h1.00v1.00h-1.00zM410.00 86.00h1.00v1.00h-1.00zM410.00 88.00h1.00v1.00h-1.00zM414.00 85.00h1.00v1.00h-1.00zM418.00 90.00h1.00v1.00h-1.00zM427.00 90.00h1.00v1.00h-1.00zM433.00 84.00h1.00v1.00h-1.00zM441.00 89.00h1.00v1.00h-1.00zM443.00 92.00h1.00v1.00h-1.00zM445.00 87.00h1.00v1.00h-1.00zM456.00 93.00h1.00v1.00h-1.00zM458.00 89.00h1.00v1.00h-1.00zM458.00 90.00h1.00v1.00h-1.00zM465.00 87.00h1.00v1.00h-1.00zM473.00 93.00h1.00v1.00h-1.00zM480.00 90.00h1.00v1.00h-1.00zM485.00 94.00h1.00v1.00h-1.00zM485.00 96.00h1.00v1.00h-1.00zM487.00 82.00h1.00v1.00h-1.00zM493.00 86.00h1.00v1.00h-1.00zM494.00 93.00h1.00v1.00h-1.00zM496.00 92.00h1.00v1.00h-1.00zM503.00 94.00h1.00v1.00h-1.00zM510.00 103.00h1.00v1.00h-1.00zM515.00 85.00h1.00v1.00h-1.00zM526.00 82.00h1.00v1.00h-1.00zM526.00 93.00h1.00v1.00h-1.00zM538.00 89.00h1.00v1.00h-1.00zM539.00 110.00h1.00v1.00h-1.00zM543.00 96.00h1.00v1.00h-1.00zM550.00 89.00h1.00v1.00h-1.00zM551.00 85.00h1.00v1.00h-1.00zM553.00 90.00h1.00v1.00h-1.00zM556.00 98.00h1.00v1.00h-1.00zM556.00 106.00h1.00v1.00h-1.00zM556.00 108.00h1.00v1.00h-1.00zM568.00 96.00h1.00v1.00h-1.00zM571.00 94.00h1.00v1.00h-1.00zM590.00 101.00h1.00v1.00h-1.00zM591.00 105.00h1.00v1.00h-1.00zM592.00 83.00h1.00v1.00h-1.00zM604.00 95.00h1.00v1.00h-1.00zM604.00 97.00h1.00v1.00h-1.00zM612.00 88.00h1.00v1.00h-1.00zM613.00 100.00h1.00v1.00h-1.00zM615.00 96.00h1.00v1.00h-1.00zM619.00 91.00h1.00v1.00h-1.00zM627.00 96.00h1.00v1.00h-1.00zM628.00 103.00h1.00v1.00h-1.00zM631.00 92.00h1.00v1.00h-1.00zM631.00 96.00h1.00v1.00h-1.00zM633.00 98.00h1.00v1.00h-1.00zM634.00 101.00h1.00v1.00h-1.00zM636.00 93.00h1.00v1.00h-1.00zM636.00 96.00h1.00v1.00h-1.00zM640.00 97.00h1.00v1.00h-1.00zM641.00 84.00h1.00v1.00h-1.00zM643.00 102.00h1.00v1.00h-1.00zM644.00 87.00h1.00v1.00h-1.00zM647.00 95.00h1.00v1.00h-1.00zM648.00 106.00h1.00v1.00h-1.00zM648.00 108.00h1.00v1.00h-1.00zM649.00 102.00h1.00v1.00h-1.00zM651.00 84.00h1.00v1.00h-1.00zM651.00 95.00h1.00v1.00h-1.00zM652.00 86.00h1.00v1.00h-1.00zM654.00 106.00h1.00v1.00h-1.00zM656.00 92.00h1.00v1.00h-1.00zM656.00 93.00h1.00v1.00h-1.00zM658.00 87.00h1.00v1.00h-1.00zM660.00 105.00h1.00v1.00h-1.00zM662.00 92.00h1.00v1.00h-1.00zM662.00 94.00h1.00v1.00h-1.00zM663.00 107.00h1.00v1.00h-1.00zM664.00 87.00h1.00v1.00h-1.00zM665.00 102.00h1.00v1.00h-1.00zM669.00 88.00h1.00v1.00h-1.00zM669.00 93.00h1.00v1.00h-1.00zM669.00 97.00h1.00v1.00h-1.00zM669.00 101.00h1.00v1.00h-1.00zM669.00 102.00h1.00v1.00h-1.00zM672.00 93.00h1.00v1.00h-1.00zM673.00 101.00h1.00v1.00h-1.00zM676.00 94.00h1.00v1.00h-1.00zM676.00 99.00h1.00v1.00h-1.00zM679.00 93.00h1.00v1.00h-1.00zM680.00 99.00h1.00v1.00h-1.00zM681.00 89.00h1.00v1.00h-1.00zM681.00 94.00h1.00v1.00h-1.00zM683.00 98.00h1.00v1.00h-1.00zM685.00 90.00h1.00v1.00h-1.00zM685.00 94.00h1.00v1.00h-1.00zM687.00 94.00h1.00v1.00h-1.00zM687.00 100.00h1.00v1.00h-1.00z"/>
<path fill="#0080ff" d="M82.00 102.00h1.00v1.00h-1.00zM85.00 98.00h1.00v1.00h-1.00zM99.00 96.00h1.00v1.00h-1.00zM105.00 102.00h1.00v1.00h-1.00zM105.00 105.00h1.00v1.00h-1.00zM130.00 99.00h1.00v1.00h-1.00zM130.00 102.00h1.00v1.00h-1.00zM140.00 103.00h1.00v1.00h-1.00zM230.00 92.00h1.00v1.00h-1.00zM262.00 94.00h1.00v1.00h-1.00zM266.00 89.00h1.00v1.00h-1.00zM267.00 114.00h1.00v1.00h-1.00zM272.00 89.00h1.00v1.00h-1.00zM279.00 95.00h1.00v1.00h-1.00zM279.00 99.00h1.00v1.00h-1.00zM282.00 93.00h1.00v1.00h-1.00zM294.00 79.00h1.00v1.00h-1.00zM304.00 86.00h1.00v1.00h-1.00zM311.00 96.00h1.00v1.00h-1.00zM311.00 103.00h1.00v1.00h-1.00zM311.00 105.00h1.00v1.00h-1.00zM320.00 90.00h1.00v1.00h-1.00zM330.00 96.00h1.00v1.00h-1.00zM339.00 90.00h1.00v1.00h-1.00zM345.00 97.00h1.00v1.00h-1.00zM348.00 95.00h1.00v1.00h-1.00zM363.00 81.00h1.00v1.00h-1.00zM363.00 91.00h1.00v1.00h-1.00zM371.00 89.00h1.00v1.00h-1.00zM380.00 89.00h1.00v1.00h-1.00zM382.00 81.00h1.00v1.00h-1.00zM382.00 86.00h1.00v1.00h-1.00zM388.00 96.00h1.00v1.00h-1.00zM392.00 92.00h1.00v1.00h-1.00zM393.00 91.00h1.00v1.00h-1.00zM396.00 85.00h1.00v1.00h-1.00zM410.00 83.00h1.00v1.00h-1.00zM410.00 87.00h1.00v1.00h-1.00zM414.00 97.00h1.00v1.00h-1.00zM425.00 81.00h1.00v1.00h-1.00zM428.00 84.00h1.00v1.00h-1.00zM431.00 93.00h1.00v1.00h-1.00zM453.00 91.00h1.00v1.00h-1.00zM459.00 91.00h1.00v1.00h-1.00zM465.00 98.00h1.00v1.00h-1.00zM467.00 93.00h1.00v1.00h-1.00zM502.00 86.00h1.00v1.00h-1.00zM513.00 92.00h1.00v1.00h-1.00zM514.00 99.00h1.00v1.00h-1.00zM526.00 96.00h1.00v1.00h-1.00zM539.00 109.00h1.00v1.00h-1.00zM549.00 86.00h1.00v1.00h-1.00zM556.00 107.00h1.00v1.00h-1.00zM559.00 94.00h1.00v1.00h-1.00zM571.00 96.00h1.00v1.00h-1.00zM572.00 96.00h1.00v1.00h-1.00zM572.00 104.00h1.00v1.00h-1.00zM574.00 83.00h1.00v1.00h-1.00zM598.00 97.00h1.00v1.00h-1.00zM600.00 96.00h1.00v1.00h-1.00zM600.00 97.00h1.00v1.00h-1.00zM607.00 87.00h1.00v1.00h-1.00zM608.00 95.00h1.00v1.00h-1.00zM609.00 101.00h1.00v1.00h-1.00zM610.00 83.00h1.00v1.00h-1.00zM610.00 88.00h1.00v1.00h-1.00zM610.00 97.00h1.00v1.00h-1.00zM610.00 98.00h1.00v1.00h-1.00zM614.00 90.00h1.00v1.00h-1.00zM615.00 87.00h1.00v1.00h-1.00zM617.00 91.00h1.00v1.00h-1.00zM619.00 95.00h1.00v1.00h-1.00zM626.00 102.00h1.00v1.00h-1.00zM630.00 92.00h1.00v1.00h-1.00zM630.00 93.00h1.00v1.00h-1.00zM630.00 94.00h1.00v1.00h-1.00zM630.00 101.00h1.00v1.00h-1.00zM632.00 86.00h1.00v1.00h-1.00zM632.00 98.00h1.00v1.00h-1.00zM632.00 100.00h1.00v1.00h-1.00zM633.00 95.00h1.00v1.00h-1.00zM634.00 92.00h1.00v1.00h-1.00zM635.00 84.00h1.00v1.00h-1.00zM636.00 94.00h1.00v1.00h-1.00zM636.00 98.00h1.00v1.00h-1.00zM636.00 99.00h1.00v1.00h-1.00zM637.00 84.00h1.00v1.00h-1.00zM639.00 90.00h1.00v1.00h-1.00zM639.00 95.00h1.00v1.00h-1.00zM639.00 99.00h1.00v1.00h-1.00zM639.00 100.00h1.00v1.00h-1.00zM641.00 99.00h1.00v1.00h-1.00zM643.00 101.00h1.00v1.00h-1.00zM644.00 85.00h1.00v1.00h-1.00zM644.00 90.00h1.00v1.00h-1.00zM645.00 90.00h1.00v1.00h-1.00zM646.00 86.00h1.00v1.00h-1.00zM647.00 85.00h1.00v1.00h-1.00zM648.00 90.00h1.00v1.00h-1.00zM648.00 99.00h1.00v1.00h-1.00zM648.00 100.00h1.00v1.00h-1.00zM648.00 105.00h1.00v1.00h-1.00zM648.00 109.00h1.00v1.00h-1.00zM650.00 91.00h1.00v1.00h-1.00zM651.00 87.00h1.00v1.00h-1.00zM651.00 88.00h1.00v1.00h-1.00zM652.00 99.00h1.00v1.00h-1.00zM654.00 85.00h1.00v1.00h-1.00zM654.00 91.00h1.00v1.00h-1.00zM654.00 92.00h1.00v1.00h-1.00zM656.00 98.00h1.00v1.00h-1.00zM657.00 87.00h1.00v1.00h-1.00zM659.00 103.00h1.00v1.00h-1.00zM659.00 106.00h1.00v1.00h-1.00zM661.00 94.00h1.00v1.00h-1.00zM662.00 95.00h1.00v1.00h-1.00zM662.00 97.00h1.00v1.00h-1.00zM662.00 98.00h1.00v1.00h-1.00zM662.00 100.00h1.00v1.00h-1.00zM663.00 94.00h1.00v1.00h-1.00zM664.00 99.00h1.00v1.00h-1.00zM666.00 99.00h1.00v1.00h-1.00zM667.00 95.00h1.00v1.00h-1.00zM672.00 84.00h1.00v1.00h-1.00zM673.00 99.00h1.00v1.00h-1.00zM675.00 89.00h1.00v1.00h-1.00zM676.00 103.00h1.00v1.00h-1.00zM677.00 102.00h1.00v1.00h-1.00zM679.00 101.00h1.00v1.00h-1.00zM681.00 101.00h1.00v1.00h-1.00zM682.00 87.00h1.00v1.00h-1.00zM685.00 107.00h1.00v1.00h-1.00zM686.00 94.00h1.00v1.00h-1.00zM687.00 91.00h1.00v1.00h-1.00zM687.00 96.00h1.00v1.00h-1.00z"/>
<path fill="#00ffff" d="M85.00 94.00h1.00v1.00h-1.00zM99.00 97.00h1.00v1.00h-1.00zM109.00 104.00h1.00v1.00h-1.00zM130.00 105.00h1.00v1.00h-1.00zM130.00 106.00h1.00v1.00h-1.00zM226.00 109.00h1.00v1.00h-1.00zM236.00 94.00h1.00v1.00h-1.00zM266.00 83.00h1.00v1.00h-1.00zM279.00 96.00h1.00v1.00h-1.00zM279.00 97.00h1.00v1.00h-1.00zM279.00 98.00h1.00v1.00h-1.00zM311.00 97.00h1.00v1.00h-1.00zM311.00 102.00h1.00v1.00h-1.00zM330.00 87.00h1.00v1.00h-1.00zM330.00 95.00h1.00v1.00h-1.00zM331.00 91.00h1.00v1.00h-1.00zM382.00 83.00h1.00v1.00h-1.00zM402.00 90.00h1.00v1.00h-1.00zM456.00 90.00h1.00v1.00h-1.00zM456.00 91.00h1.00v1.00h-1.00zM461.00 92.00h1.00v1.00h-1.00zM465.00 91.00h1.00v1.00h-1.00zM480.00 92.00h1.00v1.00h-1.00zM494.00 90.00h1.00v1.00h-1.00zM497.00 96.00h1.00v1.00h-1.00zM514.00 97.00h1.00v1.00h-1.00zM534.00 93.00h1.00v1.00h-1.00zM534.00 95.00h1.00v1.00h-1.00zM539.00 96.00h1.00v1.00h-1.00zM571.00 95.00h1.00v1.00h-1.00zM591.00 89.00h1.00v1.00h-1.00zM591.00 92.00h1.00v1.00h-1.00zM591.00 102.00h1.00v1.00h-1.00zM595.00 87.00h1.00v1.00h-1.00zM600.00 92.00h1.00v1.00h-1.00zM604.00 96.00h1.00v1.00h-1.00zM604.00 98.00h1.00v1.00h-1.00zM604.00 106.00h1.00v1.00h-1.00zM604.00 107.00h1.00v1.00h-1.00zM604.00 108.00h1.00v1.00h-1.00zM626.00 98.00h1.00v1.00h-1.00zM626.00 99.00h1.00v1.00h-1.00zM626.00 100.00h1.00v1.00h-1.00zM630.00 86.00h1.00v1.00h-1.00zM633.00 96.00h1.00v1.00h-1.00zM639.00 96.00h1.00v1.00h-1.00zM639.00 98.00h1.00v1.00h-1.00zM643.00 93.00h1.00v1.00h-1.00zM647.00 98.00h1.00v1.00h-1.00zM653.00 99.00h1.00v1.00h-1.00zM654.00 89.00h1.00v1.00h-1.00zM654.00 93.00h1.00v1.00h-1.00zM654.00 105.00h1.00v1.00h-1.00zM659.00 94.00h1.00v1.00h-1.00zM659.00 96.00h1.00v1.00h-1.00zM660.00 97.00h1.00v1.00h-1.00zM662.00 93.00h1.00v1.00h-1.00zM665.00 97.00h1.00v1.00h-1.00zM676.00 95.00h1.00v1.00h-1.00zM676.00 101.00h1.00v1.00h-1.00zM676.00 102.00h1.00v1.00h-1.00zM679.00 100.00h1.00v1.00h-1.00zM681.00 97.00h1.00v1.00h-1.00zM686.00 99.00h1.00v1.00h-1.00zM687.00 89.00h1.00v1.00h-1.00z"/>
<path fill="#00ff00" d="M82.00 99.00h1.00v1.00h-1.00zM82.00 101.00h1.00v1.00h-1.00zM85.00 95.00h1.00v1.00h-1.00zM99.00 98.00h1.00v1.00h-1.00zM99.00 100.00h1.00v1.00h-1.00zM105.00 104.00h1.00v1.00h-1.00zM109.00 102.00h1.00v1.00h-1.00zM116.00 102.00h1.00v1.00h-1.00zM116.00 108.00h1.00v1.00h-1.00zM130.00 104.00h1.00v1.00h-1.00zM192.00 97.00h1.00v1.00h-1.00zM264.00 96.00h1.00v1.00h-1.00zM274.00 90.00h1.00v1.00h-1.00zM320.00 92.00h1.00v1.00h-1.00zM330.00 88.00h1.00v1.00h-1.00zM330.00 92.00h1.00v1.00h-1.00zM345.00 96.00h1.00v1.00h-1.00zM414.00 94.00h1.00v1.00h-1.00zM465.00 89.00h1.00v1.00h-1.00zM465.00 96.00h1.00v1.00h-1.00zM465.00 97.00h1.00v1.00h-1.00zM485.00 95.00h1.00v1.00h-1.00zM514.00 98.00h1.00v1.00h-1.00zM526.00 89.00h1.00v1.00h-1.00zM534.00 94.00h1.00v1.00h-1.00zM539.00 95.00h1.00v1.00h-1.00zM539.00 97.00h1.00v1.00h-1.00zM539.00 108.00h1.00v1.00h-1.00zM556.00 100.00h1.00v1.00h-1.00zM572.00 98.00h1.00v1.00h-1.00zM572.00 103.00h1.00v1.00h-1.00zM591.00 93.00h1.00v1.00h-1.00zM591.00 94.00h1.00v1.00h-1.00zM591.00 100.00h1.00v1.00h-1.00zM626.00 101.00h1.00v1.00h-1.00zM630.00 95.00h1.00v1.00h-1.00zM636.00 97.00h1.00v1.00h-1.00zM636.00 100.00h1.00v1.00h-1.00zM643.00 96.00h1.00v1.00h-1.00zM643.00 97.00h1.00v1.00h-1.00zM646.00 95.00h1.00v1.00h-1.00zM651.00 90.00h1.00v1.00h-1.00zM654.00 94.00h1.00v1.00h-1.00zM656.00 97.00h1.00v1.00h-1.00zM659.00 102.00h1.00v1.00h-1.00zM667.00 106.00h1.00v1.00h-1.00zM667.00 107.00h1.00v1.00h-1.00zM669.00 98.00h1.00v1.00h-1.00zM669.00 99.00h1.00v1.00h-1.00zM671.00 97.00h1.00v1.00h-1.00zM673.00 100.00h1.00v1.00h-1.00zM679.00 95.00h1.00v1.00h-1.00zM679.00 99.00h1.00v1.00h-1.00zM685.00 95.00h1.00v1.00h-1.00zM685.00 96.00h1.00v1.00h-1.00zM685.00 97.00h1.00v1.00h-1.00zM687.00 95.00h1.00v1.00h-1.00zM687.00 99.00h1.00v1.00h-1.00z"/>
<path fill="#008040" d="M99.00 101.00h1.00v1.00h-1.00zM109.00 101.00h1.00v1.00h-1.00zM116.00 104.00h1.00v1.00h-1.00zM140.00 100.00h1.00v1.00h-1.00zM226.00 111.00h1.00v1.00h-1.00zM235.00 97.00h1.00v1.00h-1.00zM267.00 110.00h1.00v1.00h-1.00zM267.00 111.00h1.00v1.00h-1.00zM267.00 112.00h1.00v1.00h-1.00zM311.00 98.00h1.00v1.00h-1.00zM314.00 88.00h1.00v1.00h-1.00zM320.00 93.00h1.00v1.00h-1.00zM330.00 89.00h1.00v1.00h-1.00zM330.00 94.00h1.00v1.00h-1.00zM345.00 92.00h1.00v1.00h-1.00zM345.00 93.00h1.00v1.00h-1.00zM361.00 94.00h1.00v1.00h-1.00zM410.00 85.00h1.00v1.00h-1.00zM465.00 92.00h1.00v1.00h-1.00zM480.00 91.00h1.00v1.00h-1.00zM494.00 92.00h1.00v1.00h-1.00zM556.00 101.00h1.00v1.00h-1.00zM556.00 105.00h1.00v1.00h-1.00zM572.00 102.00h1.00v1.00h-1.00zM591.00 101.00h1.00v1.00h-1.00zM594.00 97.00h1.00v1.00h-1.00zM600.00 94.00h1.00v1.00h-1.00zM600.00 95.00h1.00v1.00h-1.00zM604.00 99.00h1.00v1.00h-1.00zM604.00 104.00h1.00v1.00h-1.00zM610.00 99.00h1.00v1.00h-1.00zM610.00 101.00h1.00v1.00h-1.00zM626.00 97.00h1.00v1.00h-1.00zM643.00 99.00h1.00v1.00h-1.00zM651.00 89.00h1.00v1.00h-1.00zM651.00 93.00h1.00v1.00h-1.00zM651.00 94.00h1.00v1.00h-1.00zM654.00 95.00h1.00v1.00h-1.00zM654.00 102.00h1.00v1.00h-1.00zM659.00 95.00h1.00v1.00h-1.00zM659.00 101.00h1.00v1.00h-1.00zM665.00 96.00h1.00v1.00h-1.00zM665.00 99.00h1.00v1.00h-1.00zM665.00 100.00h1.00v1.00h-1.00zM667.00 99.00h1.00v1.00h-1.00zM667.00 100.00h1.00v1.00h-1.00zM667.00 104.00h1.00v1.00h-1.00zM673.00 98.00h1.00v1.00h-1.00zM679.00 98.00h1.00v1.00h-1.00zM681.00 96.00h1.00v1.00h-1.00zM685.00 105.00h1.00v1.00h-1.00z"/>
<path fill="#408080" d="M99.00 99.00h1.00v1.00h-1.00zM109.00 103.00h1.00v1.00h-1.00zM116.00 106.00h1.00v1.00h-1.00zM130.00 101.00h1.00v1.00h-1.00zM130.00 103.00h1.00v1.00h-1.00zM140.00 102.00h1.00v1.00h-1.00zM226.00 110.00h1.00v1.00h-1.00zM230.00 93.00h1.00v1.00h-1.00zM311.00 101.00h1.00v1.00h-1.00zM320.00 91.00h1.00v1.00h-1.00zM330.00 90.00h1.00v1.00h-1.00zM361.00 90.00h1.00v1.00h-1.00zM361.00 91.00h1.00v1.00h-1.00zM361.00 93.00h1.00v1.00h-1.00zM382.00 84.00h1.00v1.00h-1.00zM414.00 95.00h1.00v1.00h-1.00zM414.00 96.00h1.00v1.00h-1.00zM465.00 94.00h1.00v1.00h-1.00zM494.00 91.00h1.00v1.00h-1.00zM510.00 106.00h1.00v1.00h-1.00zM526.00 94.00h1.00v1.00h-1.00zM526.00 95.00h1.00v1.00h-1.00zM539.00 98.00h1.00v1.00h-1.00zM539.00 107.00h1.00v1.00h-1.00zM572.00 97.00h1.00v1.00h-1.00zM572.00 99.00h1.00v1.00h-1.00zM572.00 101.00h1.00v1.00h-1.00zM594.00 98.00h1.00v1.00h-1.00zM600.00 93.00h1.00v1.00h-1.00zM610.00 100.00h1.00v1.00h-1.00zM639.00 97.00h1.00v1.00h-1.00zM643.00 95.00h1.00v1.00h-1.00zM643.00 98.00h1.00v1.00h-1.00zM648.00 101.00h1.00v1.00h-1.00zM648.00 102.00h1.00v1.00h-1.00zM651.00 91.00h1.00v1.00h-1.00zM651.00 92.00h1.00v1.00h-1.00zM654.00 100.00h1.00v1.00h-1.00zM654.00 103.00h1.00v1.00h-1.00zM656.00 94.00h1.00v1.00h-1.00zM656.00 96.00h1.00v1.00h-1.00zM659.00 100.00h1.00v1.00h-1.00zM662.00 96.00h1.00v1.00h-1.00zM667.00 103.00h1.00v1.00h-1.00zM676.00 97.00h1.00v1.00h-1.00zM679.00 96.00h1.00v1.00h-1.00zM679.00 97.00h1.00v1.00h-1.00zM681.00 98.00h1.00v1.00h-1.00zM685.00 103.00h1.00v1.00h-1.00zM685.00 104.00h1.00v1.00h-1.00z"/>
<path fill="#ffff00" d="M82.00 100.00h1.00v1.00h-1.00zM311.00 99.00h1.00v1.00h-1.00zM330.00 93.00h1.00v1.00h-1.00zM361.00 92.00h1.00v1.00h-1.00zM465.00 93.00h1.00v1.00h-1.00zM465.00 95.00h1.00v1.00h-1.00zM510.00 105.00h1.00v1.00h-1.00zM539.00 99.00h1.00v1.00h-1.00zM556.00 102.00h1.00v1.00h-1.00zM556.00 104.00h1.00v1.00h-1.00zM572.00 100.00h1.00v1.00h-1.00zM591.00 96.00h1.00v1.00h-1.00zM591.00 97.00h1.00v1.00h-1.00zM591.00 103.00h1.00v1.00h-1.00zM604.00 100.00h1.00v1.00h-1.00zM604.00 101.00h1.00v1.00h-1.00zM604.00 105.00h1.00v1.00h-1.00zM610.00 102.00h1.00v1.00h-1.00zM648.00 103.00h1.00v1.00h-1.00zM648.00 104.00h1.00v1.00h-1.00zM654.00 96.00h1.00v1.00h-1.00zM654.00 101.00h1.00v1.00h-1.00zM654.00 104.00h1.00v1.00h-1.00zM656.00 95.00h1.00v1.00h-1.00zM667.00 101.00h1.00v1.00h-1.00zM667.00 105.00h1.00v1.00h-1.00zM676.00 98.00h1.00v1.00h-1.00zM681.00 100.00h1.00v1.00h-1.00zM685.00 100.00h1.00v1.00h-1.00zM687.00 98.00h1.00v1.00h-1.00z"/>
<path fill="#ffc080" d="M116.00 103.00h1.00v1.00h-1.00zM345.00 95.00h1.00v1.00h-1.00zM539.00 105.00h1.00v1.00h-1.00zM556.00 103.00h1.00v1.00h-1.00zM591.00 95.00h1.00v1.00h-1.00zM643.00 100.00h1.00v1.00h-1.00zM654.00 99.00h1.00v1.00h-1.00zM685.00 99.00h1.00v1.00h-1.00z"/>
<path fill="#ff8000" d="M116.00 105.00h1.00v1.00h-1.00zM345.00 94.00h1.00v1.00h-1.00zM539.00 100.00h1.00v1.00h-1.00zM539.00 101.00h1.00v1.00h-1.00zM591.00 98.00h1.00v1.00h-1.00zM591.00 99.00h1.00v1.00h-1.00z"/>
<path fill="#ff0080" d="M330.00 91.00h1.00v1.00h-1.00zM510.00 104.00h1.00v1.00h-1.00zM539.00 103.00h1.00v1.00h-1.00zM539.00 104.00h1.00v1.00h-1.00zM539.00 106.00h1.00v1.00h-1.00zM604.00 102.00h1.00v1.00h-1.00zM654.00 97.00h1.00v1.00h-1.00zM659.00 99.00h1.00v1.00h-1.00zM681.00 99.00h1.00v1.00h-1.00zM685.00 98.00h1.00v1.00h-1.00zM685.00 102.00h1.00v1.00h-1.00z"/>
<path fill="#ff0000" d="M654.00 98.00h1.00v1.00h-1.00zM659.00 97.00h1.00v1.00h-1.00zM685.00 101.00h1.00v1.00h-1.00zM687.00 97.00h1.00v1.00h-1.00z"/>
<path fill="#c00000" d="M311.00 100.00h1.00v1.00h-1.00zM539.00 102.00h1.00v1.00h-1.00zM659.00 98.00h1.00v1.00h-1.00z"/>
<path fill="#800000" d="M604.00 103.00h1.00v1.00h-1.00z"/>
<path fill="#000000" d="M667.00 102.00h1.00v1.00h-1.00z"/>
</g>
<g shape-rendering="crispEdges">
<path fill="#ff55ff" d="M247.85 196.15h1.70v1.00h-1.70zM247.85 206.95h1.70v1.00h-1.70zM247.85 212.35h1.70v1.00h-1.70zM249.45 188.05h1.70v1.00h-1.70zM249.45 196.15h1.70v1.00h-1.70zM249.45 201.55h1.70v1.00h-1.70zM249.45 206.05h1.70v1.00h-1.70zM249.45 206.95h1.70v1.00h-1.70zM249.45 207.85h1.70v1.00h-1.70zM249.45 209.65h1.70v1.00h-1.70zM249.45 211.45h1.70v1.00h-1.70zM251.05 188.05h1.70v1.00h-1.70zM251.05 199.75h1.70v1.00h-1.70zM251.05 202.45h1.70v1.00h-1.70zM251.05 208.75h1.70v1.00h-1.70zM251.05 210.55h1.70v1.00h-1.70zM251.05 216.85h1.70v1.00h-1.70zM251.05 218.65h1.70v1.00h-1.70zM251.05 221.35h1.70v1.00h-1.70zM252.65 193.45h1.70v1.00h-1.70zM252.65 196.15h1.70v1.00h-1.70zM252.65 199.75h1.70v1.00h-1.70zM252.65 205.15h1.70v1.00h-1.70zM252.65 206.95h1.70v1.00h-1.70zM252.65 207.85h1.70v1.00h-1.70zM252.65 209.65h1.70v1.00h-1.70zM252.65 210.55h1.70v1.00h-1.70zM252.65 211.45h1.70v1.00h-1.70zM252.65 212.35h1.70v1.00h-1.70zM252.65 213.25h1.70v1.00h-1.70zM252.65 214.15h1.70v1.00h-1.70zM252.65 215.95h1.70v1.00h-1.70zM252.65 218.65h1.70v1.00h-1.70zM254.25 204.25h1.70v1.00h-1.70zM254.25 207.85h1.70v1.00h-1.70zM254.25 208.75h1.70v1.00h-1.70zM254.25 212.35h1.70v1.00h-1.70zM254.25 215.05h1.70v1.00h-1.70zM254.25 217.75h1.70v1.00h-1.70zM255.85 203.35h1.70v1.00h-1.70zM255.85 204.25h1.70v1.00h-1.70zM255.85 206.05h1.70v1.00h-1.70zM255.85 215.05h1.70v1.00h-1.70zM255.85 217.75h1.70v1.00h-1.70zM257.45 204.25h1.70v1.00h-1.70zM257.45 212.35h1.70v1.00h-1.70zM257.45 215.05h1.70v1.00h-1.70zM257.45 215.95h1.70v1.00h-1.70zM259.05 212.35h1.70v1.00h-1.70zM262.25 206.05h1.70v1.00h-1.70zM262.25 209.65h1.70v1.00h-1.70zM262.25 210.55h1.70v1.00h-1.70zM263.85 215.05h1.70v1.00h-1.70zM287.85 213.25h1.70v1.00h-1.70zM287.85 215.95h1.70v1.00h-1.70zM287.85 217.75h1.70v1.00h-1.70zM287.85 219.55h1.70v1.00h-1.70zM287.85 221.35h1.70v1.00h-1.70zM287.85 222.25h1.70v1.00h-1.70zM287.85 226.75h1.70v1.00h-1.70zM289.45 218.65h1.70v1.00h-1.70zM289.45 220.45h1.70v1.00h-1.70zM289.45 222.25h1.70v1.00h-1.70zM289.45 223.15h1.70v1.00h-1.70zM289.45 224.05h1.70v1.00h-1.70zM289.45 230.35h1.70v1.00h-1.70zM291.05 209.65h1.70v1.00h-1.70zM291.05 211.45h1.70v1.00h-1.70zM291.05 212.35h1.70v1.00h-1.70zM291.05 226.75h1.70v1.00h-1.70zM292.65 206.05h1.70v1.00h-1.70zM292.65 207.85h1.70v1.00h-1.70zM292.65 224.95h1.70v1.00h-1.70zM292.65 226.75h1.70v1.00h-1.70zM292.65 229.45h1.70v1.00h-1.70zM292.65 230.35h1.70v1.00h-1.70zM294.25 205.15h1.70v1.00h-1.70zM294.25 227.65h1.70v1.00h-1.70zM294.25 234.85h1.70v1.00h-1.70zM295.85 205.15h1.70v1.00h-1.70zM295.85 208.75h1.70v1.00h-1.70zM295.85 225.85h1.70v1.00h-1.70zM295.85 226.75h1.70v1.00h-1.70zM295.85 228.55h1.70v1.00h-1.70zM295.85 229.45h1.70v1.00h-1.70zM295.85 234.85h1.70v1.00h-1.70zM295.85 237.55h1.70v1.00h-1.70zM295.85 240.25h1.70v1.00h-1.70zM295.85 241.15h1.70v1.00h-1.70zM295.85 242.05h1.70v1.00h-1.70zM297.45 202.45h1.70v1.00h-1.70zM297.45 224.95h1.70v1.00h-1.70zM297.45 226.75h1.70v1.00h-1.70zM297.45 229.45h1.70v1.00h-1.70zM297.45 234.85h1.70v1.00h-1.70zM299.05 199.75h1.70v1.00h-1.70zM299.05 200.65h1.70v1.00h-1.70zM299.05 203.35h1.70v1.00h-1.70zM299.05 205.15h1.70v1.00h-1.70zM299.05 225.85h1.70v1.00h-1.70zM299.05 226.75h1.70v1.00h-1.70zM299.05 231.25h1.70v1.00h-1.70zM299.05 232.15h1.70v1.00h-1.70zM299.05 233.95h1.70v1.00h-1.70zM299.05 235.75h1.70v1.00h-1.70zM299.05 239.35h1.70v1.00h-1.70zM299.05 240.25h1.70v1.00h-1.70zM300.65 201.55h1.70v1.00h-1.70zM300.65 203.35h1.70v1.00h-1.70zM300.65 227.65h1.70v1.00h-1.70zM300.65 232.15h1.70v1.00h-1.70zM300.65 236.65h1.70v1.00h-1.70zM300.65 238.45h1.70v1.00h-1.70zM300.65 241.15h1.70v1.00h-1.70zM302.25 204.25h1.70v1.00h-1.70zM303.85 213.25h1.70v1.00h-1.70zM303.85 241.15h1.70v1.00h-1.70zM305.45 216.85h1.70v1.00h-1.70zM321.45 218.65h1.70v1.00h-1.70zM323.05 226.75h1.70v1.00h-1.70zM323.05 227.65h1.70v1.00h-1.70zM324.65 201.55h1.70v1.00h-1.70zM324.65 215.95h1.70v1.00h-1.70zM324.65 226.75h1.70v1.00h-1.70zM324.65 227.65h1.70v1.00h-1.70zM326.25 203.35h1.70v1.00h-1.70zM326.25 204.25h1.70v1.00h-1.70zM326.25 206.05h1.70v1.00h-1.70zM326.25 214.15h1.70v1.00h-1.70zM326.25 215.95h1.70v1.00h-1.70zM326.25 218.65h1.70v1.00h-1.70zM327.85 193.45h1.70v1.00h-1.70zM327.85 196.15h1.70v1.00h-1.70zM327.85 205.15h1.70v1.00h-1.70zM327.85 216.85h1.70v1.00h-1.70zM329.45 204.25h1.70v1.00h-1.70zM329.45 205.15h1.70v1.00h-1.70zM329.45 210.55h1.70v1.00h-1.70zM329.45 213.25h1.70v1.00h-1.70zM329.45 215.95h1.70v1.00h-1.70zM329.45 217.75h1.70v1.00h-1.70zM331.05 212.35h1.70v1.00h-1.70zM331.05 216.85h1.70v1.00h-1.70zM331.05 218.65h1.70v1.00h-1.70zM332.65 219.55h1.70v1.00h-1.70zM339.05 199.75h1.70v1.00h-1.70zM345.45 188.95h1.70v1.00h-1.70zM350.25 197.95h1.70v1.00h-1.70zM351.85 208.75h1.70v1.00h-1.70zM351.85 214.15h1.70v1.00h-1.70zM353.45 202.45h1.70v1.00h-1.70zM353.45 206.95h1.70v1.00h-1.70zM353.45 207.85h1.70v1.00h-1.70zM355.05 201.55h1.70v1.00h-1.70zM355.05 203.35h1.70v1.00h-1.70zM355.05 206.95h1.70v1.00h-1.70zM355.05 214.15h1.70v1.00h-1.70zM355.05 218.65h1.70v1.00h-1.70zM356.65 199.75h1.70v1.00h-1.70zM356.65 209.65h1.70v1.00h-1.70zM356.65 215.95h1.70v1.00h-1.70zM356.65 225.85h1.70v1.00h-1.70zM358.25 199.75h1.70v1.00h-1.70zM358.25 210.55h1.70v1.00h-1.70zM358.25 220.45h1.70v1.00h-1.70zM359.85 193.45h1.70v1.00h-1.70zM359.85 195.25h1.70v1.00h-1.70zM359.85 197.05h1.70v1.00h-1.70zM359.85 202.45h1.70v1.00h-1.70zM359.85 203.35h1.70v1.00h-1.70zM359.85 204.25h1.70v1.00h-1.70zM359.85 205.15h1.70v1.00h-1.70zM359.85 206.05h1.70v1.00h-1.70zM359.85 206.95h1.70v1.00h-1.70zM359.85 207.85h1.70v1.00h-1.70zM359.85 209.65h1.70v1.00h-1.70zM361.45 195.25h1.70v1.00h-1.70zM361.45 196.15h1.70v1.00h-1.70zM361.45 202.45h1.70v1.00h-1.70zM361.45 204.25h1.70v1.00h-1.70zM361.45 207.85h1.70v1.00h-1.70zM361.45 211.45h1.70v1.00h-1.70zM361.45 213.25h1.70v1.00h-1.70zM363.05 199.75h1.70v1.00h-1.70zM363.05 200.65h1.70v1.00h-1.70zM363.05 201.55h1.70v1.00h-1.70zM363.05 203.35h1.70v1.00h-1.70zM363.05 211.45h1.70v1.00h-1.70zM363.05 215.05h1.70v1.00h-1.70zM363.05 215.95h1.70v1.00h-1.70zM364.65 197.05h1.70v1.00h-1.70zM364.65 206.05h1.70v1.00h-1.70zM364.65 206.95h1.70v1.00h-1.70zM364.65 209.65h1.70v1.00h-1.70zM364.65 210.55h1.70v1.00h-1.70zM364.65 211.45h1.70v1.00h-1.70zM364.65 213.25h1.70v1.00h-1.70zM364.65 214.15h1.70v1.00h-1.70zM366.25 195.25h1.70v1.00h-1.70zM366.25 196.15h1.70v1.00h-1.70zM366.25 209.65h1.70v1.00h-1.70zM366.25 211.45h1.70v1.00h-1.70zM366.25 213.25h1.70v1.00h-1.70zM366.25 214.15h1.70v1.00h-1.70zM366.25 216.85h1.70v1.00h-1.70zM366.25 217.75h1.70v1.00h-1.70zM367.85 195.25h1.70v1.00h-1.70zM367.85 207.85h1.70v1.00h-1.70zM367.85 211.45h1.70v1.00h-1.70zM367.85 213.25h1.70v1.00h-1.70zM367.85 223.15h1.70v1.00h-1.70zM372.65 212.35h1.70v1.00h-1.70zM374.25 205.15h1.70v1.00h-1.70zM377.45 208.75h1.70v1.00h-1.70zM377.45 219.55h1.70v1.00h-1.70zM379.05 206.05h1.70v1.00h-1.70zM379.05 207.85h1.70v1.00h-1.70zM379.05 208.75h1.70v1.00h-1.70zM379.05 210.55h1.70v1.00h-1.70zM379.05 211.45h1.70v1.00h-1.70zM379.05 212.35h1.70v1.00h-1.70zM379.05 213.25h1.70v1.00h-1.70zM379.05 215.05h1.70v1.00h-1.70zM379.05 215.95h1.70v1.00h-1.70zM379.05 216.85h1.70v1.00h-1.70zM380.65 197.95h1.70v1.00h-1.70zM380.65 198.85h1.70v1.00h-1.70zM380.65 199.75h1.70v1.00h-1.70zM380.65 201.55h1.70v1.00h-1.70zM380.65 203.35h1.70v1.00h-1.70zM380.65 208.75h1.70v1.00h-1.70zM380.65 215.95h1.70v1.00h-1.70zM380.65 218.65h1.70v1.00h-1.70zM380.65 224.05h1.70v1.00h-1.70zM382.25 179.05h1.70v1.00h-1.70zM382.25 185.35h1.70v1.00h-1.70zM382.25 187.15h1.70v1.00h-1.70zM382.25 191.65h1.70v1.00h-1.70zM382.25 196.15h1.70v1.00h-1.70zM382.25 201.55h1.70v1.00h-1.70zM382.25 203.35h1.70v1.00h-1.70zM382.25 215.05h1.70v1.00h-1.70zM382.25 219.55h1.70v1.00h-1.70zM382.25 220.45h1.70v1.00h-1.70zM382.25 221.35h1.70v1.00h-1.70zM382.25 223.15h1.70v1.00h-1.70zM382.25 225.85h1.70v1.00h-1.70zM382.25 234.85h1.70v1.00h-1.70zM383.85 183.55h1.70v1.00h-1.70zM383.85 187.15h1.70v1.00h-1.70zM383.85 189.85h1.70v1.00h-1.70zM383.85 192.55h1.70v1.00h-1.70zM383.85 195.25h1.70v1.00h-1.70zM383.85 196.15h1.70v1.00h-1.70zM383.85 198.85h1.70v1.00h-1.70zM383.85 222.25h1.70v1.00h-1.70zM383.85 225.85h1.70v1.00h-1.70zM383.85 228.55h1.70v1.00h-1.70zM383.85 231.25h1.70v1.00h-1.70zM383.85 233.95h1.70v1.00h-1.70zM385.45 176.35h1.70v1.00h-1.70zM385.45 177.25h1.70v1.00h-1.70zM385.45 181.75h1.70v1.00h-1.70zM385.45 183.55h1.70v1.00h-1.70zM385.45 184.45h1.70v1.00h-1.70zM385.45 186.25h1.70v1.00h-1.70zM385.45 191.65h1.70v1.00h-1.70zM385.45 192.55h1.70v1.00h-1.70zM385.45 222.25h1.70v1.00h-1.70zM385.45 224.95h1.70v1.00h-1.70zM385.45 225.85h1.70v1.00h-1.70zM385.45 227.65h1.70v1.00h-1.70zM387.05 174.55h1.70v1.00h-1.70zM387.05 176.35h1.70v1.00h-1.70zM387.05 180.85h1.70v1.00h-1.70zM387.05 182.65h1.70v1.00h-1.70zM387.05 184.45h1.70v1.00h-1.70zM387.05 188.95h1.70v1.00h-1.70zM387.05 189.85h1.70v1.00h-1.70zM387.05 190.75h1.70v1.00h-1.70zM387.05 191.65h1.70v1.00h-1.70zM387.05 195.25h1.70v1.00h-1.70zM387.05 220.45h1.70v1.00h-1.70zM387.05 225.85h1.70v1.00h-1.70zM387.05 226.75h1.70v1.00h-1.70zM387.05 228.55h1.70v1.00h-1.70zM387.05 232.15h1.70v1.00h-1.70zM387.05 233.05h1.70v1.00h-1.70zM387.05 234.85h1.70v1.00h-1.70zM387.05 235.75h1.70v1.00h-1.70zM388.65 175.45h1.70v1.00h-1.70zM388.65 179.05h1.70v1.00h-1.70zM388.65 179.95h1.70v1.00h-1.70zM388.65 182.65h1.70v1.00h-1.70zM388.65 183.55h1.70v1.00h-1.70zM388.65 222.25h1.70v1.00h-1.70zM388.65 224.05h1.70v1.00h-1.70zM388.65 226.75h1.70v1.00h-1.70zM388.65 227.65h1.70v1.00h-1.70zM388.65 229.45h1.70v1.00h-1.70zM388.65 232.15h1.70v1.00h-1.70zM388.65 233.95h1.70v1.00h-1.70zM388.65 235.75h1.70v1.00h-1.70zM390.25 175.45h1.70v1.00h-1.70zM390.25 177.25h1.70v1.00h-1.70zM390.25 179.05h1.70v1.00h-1.70zM390.25 179.95h1.70v1.00h-1.70zM390.25 219.55h1.70v1.00h-1.70zM390.25 223.15h1.70v1.00h-1.70zM390.25 225.85h1.70v1.00h-1.70zM390.25 228.55h1.70v1.00h-1.70zM390.25 231.25h1.70v1.00h-1.70zM390.25 232.15h1.70v1.00h-1.70zM390.25 233.05h1.70v1.00h-1.70zM390.25 234.85h1.70v1.00h-1.70zM390.25 235.75h1.70v1.00h-1.70zM390.25 236.65h1.70v1.00h-1.70zM391.85 174.55h1.70v1.00h-1.70zM391.85 176.35h1.70v1.00h-1.70zM391.85 178.15h1.70v1.00h-1.70zM391.85 179.05h1.70v1.00h-1.70zM391.85 181.75h1.70v1.00h-1.70zM391.85 182.65h1.70v1.00h-1.70zM391.85 183.55h1.70v1.00h-1.70zM391.85 219.55h1.70v1.00h-1.70zM391.85 220.45h1.70v1.00h-1.70zM391.85 224.95h1.70v1.00h-1.70zM391.85 225.85h1.70v1.00h-1.70zM391.85 229.45h1.70v1.00h-1.70zM393.45 182.65h1.70v1.00h-1.70zM393.45 185.35h1.70v1.00h-1.70zM393.45 214.15h1.70v1.00h-1.70zM393.45 215.95h1.70v1.00h-1.70zM393.45 220.45h1.70v1.00h-1.70zM393.45 223.15h1.70v1.00h-1.70zM393.45 224.05h1.70v1.00h-1.70zM393.45 224.95h1.70v1.00h-1.70zM393.45 228.55h1.70v1.00h-1.70zM393.45 230.35h1.70v1.00h-1.70zM393.45 242.05h1.70v1.00h-1.70zM395.05 179.05h1.70v1.00h-1.70zM395.05 185.35h1.70v1.00h-1.70zM395.05 187.15h1.70v1.00h-1.70zM395.05 189.85h1.70v1.00h-1.70zM395.05 190.75h1.70v1.00h-1.70zM395.05 215.05h1.70v1.00h-1.70zM395.05 215.95h1.70v1.00h-1.70zM395.05 218.65h1.70v1.00h-1.70zM395.05 227.65h1.70v1.00h-1.70zM395.05 231.25h1.70v1.00h-1.70zM395.05 234.85h1.70v1.00h-1.70zM396.65 172.75h1.70v1.00h-1.70zM396.65 181.75h1.70v1.00h-1.70zM396.65 191.65h1.70v1.00h-1.70zM396.65 192.55h1.70v1.00h-1.70zM396.65 193.45h1.70v1.00h-1.70zM396.65 197.95h1.70v1.00h-1.70zM396.65 205.15h1.70v1.00h-1.70zM396.65 208.75h1.70v1.00h-1.70zM396.65 211.45h1.70v1.00h-1.70zM398.25 193.45h1.70v1.00h-1.70zM398.25 194.35h1.70v1.00h-1.70zM398.25 196.15h1.70v1.00h-1.70zM398.25 197.05h1.70v1.00h-1.70zM398.25 197.95h1.70v1.00h-1.70zM398.25 199.75h1.70v1.00h-1.70zM398.25 200.65h1.70v1.00h-1.70zM398.25 201.55h1.70v1.00h-1.70zM398.25 203.35h1.70v1.00h-1.70zM398.25 205.15h1.70v1.00h-1.70zM398.25 206.95h1.70v1.00h-1.70zM398.25 207.85h1.70v1.00h-1.70zM398.25 209.65h1.70v1.00h-1.70zM398.25 210.55h1.70v1.00h-1.70zM398.25 211.45h1.70v1.00h-1.70zM399.85 191.65h1.70v1.00h-1.70zM399.85 192.55h1.70v1.00h-1.70zM399.85 197.05h1.70v1.00h-1.70zM399.85 204.25h1.70v1.00h-1.70zM399.85 207.85h1.70v1.00h-1.70zM399.85 212.35h1.70v1.00h-1.70zM401.45 188.95h1.70v1.00h-1.70zM401.45 197.95h1.70v1.00h-1.70zM401.45 203.35h1.70v1.00h-1.70zM401.45 204.25h1.70v1.00h-1.70zM401.45 205.15h1.70v1.00h-1.70zM401.45 206.05h1.70v1.00h-1.70zM401.45 207.85h1.70v1.00h-1.70zM401.45 211.45h1.70v1.00h-1.70zM403.05 205.15h1.70v1.00h-1.70zM403.05 206.95h1.70v1.00h-1.70zM404.65 195.25h1.70v1.00h-1.70zM406.25 201.55h1.70v1.00h-1.70zM406.25 205.15h1.70v1.00h-1.70zM407.85 196.15h1.70v1.00h-1.70zM411.05 202.45h1.70v1.00h-1.70zM412.65 197.95h1.70v1.00h-1.70z"/>
<path fill="#8000ff" d="M249.45 202.45h1.70v1.00h-1.70zM249.45 210.55h1.70v1.00h-1.70zM251.05 187.15h1.70v1.00h-1.70zM251.05 205.15h1.70v1.00h-1.70zM251.05 206.05h1.70v1.00h-1.70zM251.05 212.35h1.70v1.00h-1.70zM251.05 214.15h1.70v1.00h-1.70zM251.05 215.05h1.70v1.00h-1.70zM252.65 201.55h1.70v1.00h-1.70zM252.65 215.05h1.70v1.00h-1.70zM254.25 209.65h1.70v1.00h-1.70zM254.25 213.25h1.70v1.00h-1.70zM289.45 214.15h1.70v1.00h-1.70zM289.45 215.95h1.70v1.00h-1.70zM289.45 217.75h1.70v1.00h-1.70zM291.05 214.15h1.70v1.00h-1.70zM291.05 223.15h1.70v1.00h-1.70zM291.05 224.95h1.70v1.00h-1.70zM292.65 208.75h1.70v1.00h-1.70zM292.65 225.85h1.70v1.00h-1.70zM294.25 207.85h1.70v1.00h-1.70zM294.25 225.85h1.70v1.00h-1.70zM295.85 206.05h1.70v1.00h-1.70zM295.85 206.95h1.70v1.00h-1.70zM295.85 207.85h1.70v1.00h-1.70zM295.85 224.95h1.70v1.00h-1.70zM297.45 224.05h1.70v1.00h-1.70zM297.45 237.55h1.70v1.00h-1.70zM299.05 202.45h1.70v1.00h-1.70zM299.05 238.45h1.70v1.00h-1.70zM300.65 205.15h1.70v1.00h-1.70zM300.65 237.55h1.70v1.00h-1.70zM302.25 222.25h1.70v1.00h-1.70zM324.65 216.85h1.70v1.00h-1.70zM324.65 218.65h1.70v1.00h-1.70zM326.25 215.05h1.70v1.00h-1.70zM326.25 219.55h1.70v1.00h-1.70zM326.25 227.65h1.70v1.00h-1.70zM327.85 217.75h1.70v1.00h-1.70zM329.45 216.85h1.70v1.00h-1.70zM355.05 202.45h1.70v1.00h-1.70zM356.65 204.25h1.70v1.00h-1.70zM356.65 205.15h1.70v1.00h-1.70zM356.65 207.85h1.70v1.00h-1.70zM356.65 211.45h1.70v1.00h-1.70zM358.25 203.35h1.70v1.00h-1.70zM358.25 207.85h1.70v1.00h-1.70zM358.25 208.75h1.70v1.00h-1.70zM359.85 215.05h1.70v1.00h-1.70zM361.45 210.55h1.70v1.00h-1.70zM363.05 208.75h1.70v1.00h-1.70zM363.05 212.35h1.70v1.00h-1.70zM364.65 212.35h1.70v1.00h-1.70zM380.65 209.65h1.70v1.00h-1.70zM380.65 210.55h1.70v1.00h-1.70zM380.65 211.45h1.70v1.00h-1.70zM380.65 213.25h1.70v1.00h-1.70zM382.25 202.45h1.70v1.00h-1.70zM382.25 204.25h1.70v1.00h-1.70zM382.25 206.95h1.70v1.00h-1.70zM382.25 216.85h1.70v1.00h-1.70zM382.25 217.75h1.70v1.00h-1.70zM382.25 218.65h1.70v1.00h-1.70zM383.85 193.45h1.70v1.00h-1.70zM383.85 194.35h1.70v1.00h-1.70zM383.85 197.05h1.70v1.00h-1.70zM383.85 201.55h1.70v1.00h-1.70zM383.85 203.35h1.70v1.00h-1.70zM383.85 220.45h1.70v1.00h-1.70zM383.85 223.15h1.70v1.00h-1.70zM385.45 179.95h1.70v1.00h-1.70zM385.45 185.35h1.70v1.00h-1.70zM385.45 188.05h1.70v1.00h-1.70zM385.45 189.85h1.70v1.00h-1.70zM385.45 193.45h1.70v1.00h-1.70zM385.45 195.25h1.70v1.00h-1.70zM385.45 220.45h1.70v1.00h-1.70zM385.45 223.15h1.70v1.00h-1.70zM385.45 231.25h1.70v1.00h-1.70zM387.05 178.15h1.70v1.00h-1.70zM387.05 183.55h1.70v1.00h-1.70zM387.05 185.35h1.70v1.00h-1.70zM387.05 187.15h1.70v1.00h-1.70zM387.05 194.35h1.70v1.00h-1.70zM387.05 197.95h1.70v1.00h-1.70zM387.05 224.05h1.70v1.00h-1.70zM387.05 229.45h1.70v1.00h-1.70zM388.65 177.25h1.70v1.00h-1.70zM388.65 181.75h1.70v1.00h-1.70zM388.65 187.15h1.70v1.00h-1.70zM388.65 190.75h1.70v1.00h-1.70zM388.65 191.65h1.70v1.00h-1.70zM388.65 221.35h1.70v1.00h-1.70zM388.65 225.85h1.70v1.00h-1.70zM390.25 180.85h1.70v1.00h-1.70zM390.25 182.65h1.70v1.00h-1.70zM390.25 218.65h1.70v1.00h-1.70zM390.25 220.45h1.70v1.00h-1.70zM390.25 221.35h1.70v1.00h-1.70zM390.25 222.25h1.70v1.00h-1.70zM390.25 224.95h1.70v1.00h-1.70zM390.25 226.75h1.70v1.00h-1.70zM391.85 180.85h1.70v1.00h-1.70zM391.85 185.35h1.70v1.00h-1.70zM391.85 189.85h1.70v1.00h-1.70zM391.85 215.95h1.70v1.00h-1.70zM391.85 216.85h1.70v1.00h-1.70zM391.85 218.65h1.70v1.00h-1.70zM391.85 222.25h1.70v1.00h-1.70zM391.85 227.65h1.70v1.00h-1.70zM393.45 188.05h1.70v1.00h-1.70zM393.45 226.75h1.70v1.00h-1.70zM393.45 229.45h1.70v1.00h-1.70zM395.05 213.25h1.70v1.00h-1.70zM396.65 190.75h1.70v1.00h-1.70zM396.65 195.25h1.70v1.00h-1.70zM396.65 203.35h1.70v1.00h-1.70zM396.65 207.85h1.70v1.00h-1.70zM396.65 209.65h1.70v1.00h-1.70zM396.65 214.15h1.70v1.00h-1.70zM398.25 198.85h1.70v1.00h-1.70zM398.25 202.45h1.70v1.00h-1.70zM399.85 205.15h1.70v1.00h-1.70z"/>
<path fill="#0000ff" d="M251.05 204.25h1.70v1.00h-1.70zM251.05 207.85h1.70v1.00h-1.70zM252.65 206.05h1.70v1.00h-1.70zM289.45 216.85h1.70v1.00h-1.70zM291.05 213.25h1.70v1.00h-1.70zM294.25 210.55h1.70v1.00h-1.70zM294.25 211.45h1.70v1.00h-1.70zM295.85 209.65h1.70v1.00h-1.70zM299.05 223.15h1.70v1.00h-1.70zM299.05 224.95h1.70v1.00h-1.70zM300.65 224.05h1.70v1.00h-1.70zM302.25 206.05h1.70v1.00h-1.70zM302.25 206.95h1.70v1.00h-1.70zM302.25 207.85h1.70v1.00h-1.70zM302.25 221.35h1.70v1.00h-1.70zM302.25 223.15h1.70v1.00h-1.70zM324.65 217.75h1.70v1.00h-1.70zM326.25 217.75h1.70v1.00h-1.70zM327.85 215.95h1.70v1.00h-1.70zM356.65 200.65h1.70v1.00h-1.70zM356.65 206.95h1.70v1.00h-1.70zM359.85 208.75h1.70v1.00h-1.70zM361.45 215.05h1.70v1.00h-1.70zM366.25 212.35h1.70v1.00h-1.70zM379.05 209.65h1.70v1.00h-1.70zM380.65 214.15h1.70v1.00h-1.70zM382.25 200.65h1.70v1.00h-1.70zM382.25 206.05h1.70v1.00h-1.70zM382.25 211.45h1.70v1.00h-1.70zM382.25 215.95h1.70v1.00h-1.70zM383.85 204.25h1.70v1.00h-1.70zM383.85 218.65h1.70v1.00h-1.70zM385.45 194.35h1.70v1.00h-1.70zM385.45 197.95h1.70v1.00h-1.70zM385.45 198.85h1.70v1.00h-1.70zM387.05 186.25h1.70v1.00h-1.70zM387.05 197.05h1.70v1.00h-1.70zM387.05 199.75h1.70v1.00h-1.70zM387.05 218.65h1.70v1.00h-1.70zM387.05 219.55h1.70v1.00h-1.70zM387.05 221.35h1.70v1.00h-1.70zM387.05 222.25h1.70v1.00h-1.70zM388.65 186.25h1.70v1.00h-1.70zM388.65 188.05h1.70v1.00h-1.70zM388.65 189.85h1.70v1.00h-1.70zM388.65 200.65h1.70v1.00h-1.70zM388.65 220.45h1.70v1.00h-1.70zM390.25 183.55h1.70v1.00h-1.70zM390.25 185.35h1.70v1.00h-1.70zM390.25 187.15h1.70v1.00h-1.70zM390.25 190.75h1.70v1.00h-1.70zM391.85 214.15h1.70v1.00h-1.70zM391.85 215.05h1.70v1.00h-1.70zM391.85 217.75h1.70v1.00h-1.70zM393.45 187.15h1.70v1.00h-1.70zM393.45 213.25h1.70v1.00h-1.70zM395.05 191.65h1.70v1.00h-1.70zM395.05 208.75h1.70v1.00h-1.70zM396.65 199.75h1.70v1.00h-1.70zM396.65 206.05h1.70v1.00h-1.70z"/>
<path fill="#0080ff" d="M251.05 206.95h1.70v1.00h-1.70zM252.65 208.75h1.70v1.00h-1.70zM289.45 215.05h1.70v1.00h-1.70zM289.45 221.35h1.70v1.00h-1.70zM291.05 215.95h1.70v1.00h-1.70zM292.65 209.65h1.70v1.00h-1.70zM292.65 211.45h1.70v1.00h-1.70zM292.65 215.95h1.70v1.00h-1.70zM292.65 216.85h1.70v1.00h-1.70zM292.65 223.15h1.70v1.00h-1.70zM294.25 209.65h1.70v1.00h-1.70zM294.25 224.05h1.70v1.00h-1.70zM295.85 223.15h1.70v1.00h-1.70zM297.45 206.95h1.70v1.00h-1.70zM297.45 207.85h1.70v1.00h-1.70zM300.65 204.25h1.70v1.00h-1.70zM300.65 206.05h1.70v1.00h-1.70zM300.65 223.15h1.70v1.00h-1.70zM356.65 203.35h1.70v1.00h-1.70zM356.65 206.05h1.70v1.00h-1.70zM358.25 204.25h1.70v1.00h-1.70zM358.25 206.05h1.70v1.00h-1.70zM380.65 212.35h1.70v1.00h-1.70zM382.25 205.15h1.70v1.00h-1.70zM382.25 207.85h1.70v1.00h-1.70zM382.25 214.15h1.70v1.00h-1.70zM383.85 200.65h1.70v1.00h-1.70zM383.85 206.05h1.70v1.00h-1.70zM383.85 208.75h1.70v1.00h-1.70zM385.45 197.05h1.70v1.00h-1.70zM385.45 203.35h1.70v1.00h-1.70zM385.45 217.75h1.70v1.00h-1.70zM385.45 219.55h1.70v1.00h-1.70zM385.45 221.35h1.70v1.00h-1.70zM387.05 204.25h1.70v1.00h-1.70zM388.65 193.45h1.70v1.00h-1.70zM388.65 217.75h1.70v1.00h-1.70zM390.25 184.45h1.70v1.00h-1.70zM390.25 188.95h1.70v1.00h-1.70zM390.25 196.15h1.70v1.00h-1.70zM390.25 215.05h1.70v1.00h-1.70zM390.25 216.85h1.70v1.00h-1.70zM390.25 217.75h1.70v1.00h-1.70zM390.25 224.05h1.70v1.00h-1.70zM391.85 184.45h1.70v1.00h-1.70zM391.85 186.25h1.70v1.00h-1.70zM391.85 188.95h1.70v1.00h-1.70zM393.45 188.95h1.70v1.00h-1.70zM393.45 190.75h1.70v1.00h-1.70zM395.05 184.45h1.70v1.00h-1.70zM395.05 192.55h1.70v1.00h-1.70zM395.05 210.55h1.70v1.00h-1.70zM396.65 196.15h1.70v1.00h-1.70zM396.65 201.55h1.70v1.00h-1.70zM396.65 204.25h1.70v1.00h-1.70z"/>
<path fill="#00ffff" d="M291.05 217.75h1.70v1.00h-1.70zM291.05 219.55h1.70v1.00h-1.70zM291.05 220.45h1.70v1.00h-1.70zM291.05 221.35h1.70v1.00h-1.70zM292.65 212.35h1.70v1.00h-1.70zM292.65 222.25h1.70v1.00h-1.70zM294.25 208.75h1.70v1.00h-1.70zM295.85 211.45h1.70v1.00h-1.70zM297.45 206.05h1.70v1.00h-1.70zM297.45 223.15h1.70v1.00h-1.70zM299.05 222.25h1.70v1.00h-1.70zM299.05 224.05h1.70v1.00h-1.70zM326.25 216.85h1.70v1.00h-1.70zM382.25 209.65h1.70v1.00h-1.70zM382.25 213.25h1.70v1.00h-1.70zM383.85 216.85h1.70v1.00h-1.70zM385.45 199.75h1.70v1.00h-1.70zM385.45 200.65h1.70v1.00h-1.70zM387.05 188.05h1.70v1.00h-1.70zM387.05 192.55h1.70v1.00h-1.70zM388.65 192.55h1.70v1.00h-1.70zM388.65 197.05h1.70v1.00h-1.70zM388.65 198.85h1.70v1.00h-1.70zM388.65 233.05h1.70v1.00h-1.70zM390.25 186.25h1.70v1.00h-1.70zM390.25 191.65h1.70v1.00h-1.70zM390.25 192.55h1.70v1.00h-1.70zM390.25 195.25h1.70v1.00h-1.70zM390.25 211.45h1.70v1.00h-1.70zM391.85 187.15h1.70v1.00h-1.70zM391.85 188.05h1.70v1.00h-1.70zM391.85 191.65h1.70v1.00h-1.70zM393.45 186.25h1.70v1.00h-1.70zM393.45 193.45h1.70v1.00h-1.70zM393.45 215.05h1.70v1.00h-1.70zM395.05 193.45h1.70v1.00h-1.70zM395.05 195.25h1.70v1.00h-1.70zM395.05 206.05h1.70v1.00h-1.70zM395.05 209.65h1.70v1.00h-1.70zM395.05 212.35h1.70v1.00h-1.70zM396.65 198.85h1.70v1.00h-1.70z"/>
<path fill="#00ff00" d="M291.05 218.65h1.70v1.00h-1.70zM291.05 222.25h1.70v1.00h-1.70zM292.65 213.25h1.70v1.00h-1.70zM294.25 215.05h1.70v1.00h-1.70zM294.25 220.45h1.70v1.00h-1.70zM294.25 224.95h1.70v1.00h-1.70zM295.85 212.35h1.70v1.00h-1.70zM295.85 213.25h1.70v1.00h-1.70zM297.45 222.25h1.70v1.00h-1.70zM299.05 204.25h1.70v1.00h-1.70zM299.05 206.95h1.70v1.00h-1.70zM299.05 220.45h1.70v1.00h-1.70zM302.25 220.45h1.70v1.00h-1.70zM383.85 210.55h1.70v1.00h-1.70zM383.85 217.75h1.70v1.00h-1.70zM383.85 219.55h1.70v1.00h-1.70zM385.45 201.55h1.70v1.00h-1.70zM385.45 204.25h1.70v1.00h-1.70zM387.05 198.85h1.70v1.00h-1.70zM387.05 200.65h1.70v1.00h-1.70zM388.65 194.35h1.70v1.00h-1.70zM388.65 197.95h1.70v1.00h-1.70zM388.65 201.55h1.70v1.00h-1.70zM388.65 219.55h1.70v1.00h-1.70zM390.25 188.05h1.70v1.00h-1.70zM390.25 215.95h1.70v1.00h-1.70zM391.85 213.25h1.70v1.00h-1.70zM393.45 184.45h1.70v1.00h-1.70zM393.45 191.65h1.70v1.00h-1.70zM393.45 192.55h1.70v1.00h-1.70zM393.45 211.45h1.70v1.00h-1.70zM393.45 212.35h1.70v1.00h-1.70zM395.05 207.85h1.70v1.00h-1.70zM396.65 200.65h1.70v1.00h-1.70z"/>
<path fill="#008040" d="M291.05 216.85h1.70v1.00h-1.70zM294.25 214.15h1.70v1.00h-1.70zM294.25 223.15h1.70v1.00h-1.70zM295.85 210.55h1.70v1.00h-1.70zM295.85 214.15h1.70v1.00h-1.70zM295.85 218.65h1.70v1.00h-1.70zM295.85 222.25h1.70v1.00h-1.70zM297.45 208.75h1.70v1.00h-1.70zM297.45 216.85h1.70v1.00h-1.70zM297.45 220.45h1.70v1.00h-1.70zM300.65 222.25h1.70v1.00h-1.70zM302.25 209.65h1.70v1.00h-1.70zM302.25 218.65h1.70v1.00h-1.70zM358.25 205.15h1.70v1.00h-1.70zM358.25 206.95h1.70v1.00h-1.70zM382.25 210.55h1.70v1.00h-1.70zM383.85 205.15h1.70v1.00h-1.70zM385.45 188.95h1.70v1.00h-1.70zM385.45 202.45h1.70v1.00h-1.70zM385.45 211.45h1.70v1.00h-1.70zM385.45 214.15h1.70v1.00h-1.70zM387.05 201.55h1.70v1.00h-1.70zM387.05 202.45h1.70v1.00h-1.70zM387.05 206.95h1.70v1.00h-1.70zM387.05 212.35h1.70v1.00h-1.70zM388.65 195.25h1.70v1.00h-1.70zM388.65 199.75h1.70v1.00h-1.70zM388.65 202.45h1.70v1.00h-1.70zM388.65 214.15h1.70v1.00h-1.70zM388.65 218.65h1.70v1.00h-1.70zM390.25 193.45h1.70v1.00h-1.70zM390.25 194.35h1.70v1.00h-1.70zM390.25 206.95h1.70v1.00h-1.70zM390.25 208.75h1.70v1.00h-1.70zM390.25 210.55h1.70v1.00h-1.70zM390.25 214.15h1.70v1.00h-1.70zM391.85 208.75h1.70v1.00h-1.70zM391.85 212.35h1.70v1.00h-1.70zM393.45 206.95h1.70v1.00h-1.70zM393.45 209.65h1.70v1.00h-1.70zM393.45 210.55h1.70v1.00h-1.70zM395.05 206.95h1.70v1.00h-1.70zM395.05 211.45h1.70v1.00h-1.70z"/>
<path fill="#408080" d="M291.05 215.05h1.70v1.00h-1.70zM292.65 217.75h1.70v1.00h-1.70zM292.65 218.65h1.70v1.00h-1.70zM292.65 224.05h1.70v1.00h-1.70zM294.25 213.25h1.70v1.00h-1.70zM294.25 215.95h1.70v1.00h-1.70zM294.25 216.85h1.70v1.00h-1.70zM295.85 215.05h1.70v1.00h-1.70zM295.85 215.95h1.70v1.00h-1.70zM295.85 217.75h1.70v1.00h-1.70zM295.85 224.05h1.70v1.00h-1.70zM297.45 212.35h1.70v1.00h-1.70zM297.45 217.75h1.70v1.00h-1.70zM299.05 206.05h1.70v1.00h-1.70zM299.05 207.85h1.70v1.00h-1.70zM300.65 206.95h1.70v1.00h-1.70zM382.25 208.75h1.70v1.00h-1.70zM383.85 214.15h1.70v1.00h-1.70zM385.45 205.15h1.70v1.00h-1.70zM385.45 210.55h1.70v1.00h-1.70zM385.45 213.25h1.70v1.00h-1.70zM385.45 218.65h1.70v1.00h-1.70zM387.05 193.45h1.70v1.00h-1.70zM387.05 231.25h1.70v1.00h-1.70zM388.65 188.95h1.70v1.00h-1.70zM388.65 196.15h1.70v1.00h-1.70zM388.65 215.95h1.70v1.00h-1.70zM390.25 197.95h1.70v1.00h-1.70zM390.25 202.45h1.70v1.00h-1.70zM391.85 190.75h1.70v1.00h-1.70zM391.85 206.05h1.70v1.00h-1.70zM391.85 209.65h1.70v1.00h-1.70zM391.85 210.55h1.70v1.00h-1.70zM393.45 189.85h1.70v1.00h-1.70zM393.45 208.75h1.70v1.00h-1.70zM395.05 194.35h1.70v1.00h-1.70zM395.05 196.15h1.70v1.00h-1.70zM395.05 197.95h1.70v1.00h-1.70zM395.05 204.25h1.70v1.00h-1.70zM395.05 205.15h1.70v1.00h-1.70zM396.65 202.45h1.70v1.00h-1.70z"/>
<path fill="#ffff00" d="M292.65 219.55h1.70v1.00h-1.70zM294.25 212.35h1.70v1.00h-1.70zM294.25 217.75h1.70v1.00h-1.70zM294.25 219.55h1.70v1.00h-1.70zM294.25 221.35h1.70v1.00h-1.70zM294.25 222.25h1.70v1.00h-1.70zM295.85 216.85h1.70v1.00h-1.70zM295.85 219.55h1.70v1.00h-1.70zM295.85 220.45h1.70v1.00h-1.70zM295.85 221.35h1.70v1.00h-1.70zM297.45 209.65h1.70v1.00h-1.70zM297.45 210.55h1.70v1.00h-1.70zM297.45 221.35h1.70v1.00h-1.70zM299.05 209.65h1.70v1.00h-1.70zM300.65 209.65h1.70v1.00h-1.70zM300.65 220.45h1.70v1.00h-1.70zM302.25 208.75h1.70v1.00h-1.70zM302.25 219.55h1.70v1.00h-1.70zM382.25 212.35h1.70v1.00h-1.70zM383.85 209.65h1.70v1.00h-1.70zM385.45 207.85h1.70v1.00h-1.70zM385.45 209.65h1.70v1.00h-1.70zM385.45 216.85h1.70v1.00h-1.70zM387.05 203.35h1.70v1.00h-1.70zM387.05 205.15h1.70v1.00h-1.70zM387.05 206.05h1.70v1.00h-1.70zM387.05 213.25h1.70v1.00h-1.70zM387.05 215.05h1.70v1.00h-1.70zM387.05 216.85h1.70v1.00h-1.70zM387.05 217.75h1.70v1.00h-1.70zM388.65 203.35h1.70v1.00h-1.70zM388.65 204.25h1.70v1.00h-1.70zM388.65 206.05h1.70v1.00h-1.70zM388.65 210.55h1.70v1.00h-1.70zM388.65 213.25h1.70v1.00h-1.70zM388.65 215.05h1.70v1.00h-1.70zM390.25 189.85h1.70v1.00h-1.70zM390.25 197.05h1.70v1.00h-1.70zM390.25 199.75h1.70v1.00h-1.70zM390.25 200.65h1.70v1.00h-1.70zM391.85 192.55h1.70v1.00h-1.70zM391.85 194.35h1.70v1.00h-1.70zM391.85 195.25h1.70v1.00h-1.70zM391.85 211.45h1.70v1.00h-1.70zM395.05 198.85h1.70v1.00h-1.70zM395.05 199.75h1.70v1.00h-1.70zM395.05 201.55h1.70v1.00h-1.70z"/>
<path fill="#ffc080" d="M292.65 214.15h1.70v1.00h-1.70zM292.65 215.05h1.70v1.00h-1.70zM292.65 220.45h1.70v1.00h-1.70zM292.65 221.35h1.70v1.00h-1.70zM297.45 211.45h1.70v1.00h-1.70zM297.45 218.65h1.70v1.00h-1.70zM299.05 219.55h1.70v1.00h-1.70zM299.05 221.35h1.70v1.00h-1.70zM300.65 207.85h1.70v1.00h-1.70zM300.65 221.35h1.70v1.00h-1.70zM302.25 210.55h1.70v1.00h-1.70zM302.25 212.35h1.70v1.00h-1.70zM383.85 206.95h1.70v1.00h-1.70zM383.85 207.85h1.70v1.00h-1.70zM383.85 212.35h1.70v1.00h-1.70zM383.85 213.25h1.70v1.00h-1.70zM385.45 206.95h1.70v1.00h-1.70zM385.45 212.35h1.70v1.00h-1.70zM385.45 215.05h1.70v1.00h-1.70zM387.05 196.15h1.70v1.00h-1.70zM387.05 214.15h1.70v1.00h-1.70zM387.05 215.95h1.70v1.00h-1.70zM388.65 205.15h1.70v1.00h-1.70zM388.65 206.95h1.70v1.00h-1.70zM388.65 211.45h1.70v1.00h-1.70zM388.65 212.35h1.70v1.00h-1.70zM390.25 198.85h1.70v1.00h-1.70zM390.25 203.35h1.70v1.00h-1.70zM390.25 209.65h1.70v1.00h-1.70zM390.25 212.35h1.70v1.00h-1.70zM390.25 213.25h1.70v1.00h-1.70zM391.85 193.45h1.70v1.00h-1.70zM391.85 202.45h1.70v1.00h-1.70zM391.85 205.15h1.70v1.00h-1.70zM393.45 195.25h1.70v1.00h-1.70zM393.45 196.15h1.70v1.00h-1.70zM393.45 197.95h1.70v1.00h-1.70zM393.45 206.05h1.70v1.00h-1.70zM393.45 207.85h1.70v1.00h-1.70zM395.05 203.35h1.70v1.00h-1.70z"/>
<path fill="#ff8000" d="M294.25 218.65h1.70v1.00h-1.70zM297.45 213.25h1.70v1.00h-1.70zM297.45 214.15h1.70v1.00h-1.70zM297.45 215.05h1.70v1.00h-1.70zM297.45 215.95h1.70v1.00h-1.70zM297.45 219.55h1.70v1.00h-1.70zM299.05 208.75h1.70v1.00h-1.70zM300.65 219.55h1.70v1.00h-1.70zM302.25 215.05h1.70v1.00h-1.70zM383.85 211.45h1.70v1.00h-1.70zM383.85 215.95h1.70v1.00h-1.70zM385.45 206.05h1.70v1.00h-1.70zM385.45 208.75h1.70v1.00h-1.70zM385.45 215.95h1.70v1.00h-1.70zM387.05 207.85h1.70v1.00h-1.70zM387.05 208.75h1.70v1.00h-1.70zM387.05 209.65h1.70v1.00h-1.70zM387.05 210.55h1.70v1.00h-1.70zM388.65 207.85h1.70v1.00h-1.70zM388.65 208.75h1.70v1.00h-1.70zM388.65 216.85h1.70v1.00h-1.70zM390.25 204.25h1.70v1.00h-1.70zM390.25 205.15h1.70v1.00h-1.70zM390.25 207.85h1.70v1.00h-1.70zM391.85 196.15h1.70v1.00h-1.70zM391.85 198.85h1.70v1.00h-1.70zM391.85 203.35h1.70v1.00h-1.70zM393.45 194.35h1.70v1.00h-1.70zM393.45 198.85h1.70v1.00h-1.70zM393.45 201.55h1.70v1.00h-1.70zM395.05 197.05h1.70v1.00h-1.70z"/>
<path fill="#ff0080" d="M299.05 210.55h1.70v1.00h-1.70zM299.05 218.65h1.70v1.00h-1.70zM300.65 208.75h1.70v1.00h-1.70zM300.65 213.25h1.70v1.00h-1.70zM300.65 216.85h1.70v1.00h-1.70zM300.65 218.65h1.70v1.00h-1.70zM302.25 213.25h1.70v1.00h-1.70zM302.25 216.85h1.70v1.00h-1.70zM302.25 217.75h1.70v1.00h-1.70zM383.85 215.05h1.70v1.00h-1.70zM387.05 211.45h1.70v1.00h-1.70zM390.25 201.55h1.70v1.00h-1.70zM390.25 206.05h1.70v1.00h-1.70zM391.85 206.95h1.70v1.00h-1.70zM393.45 199.75h1.70v1.00h-1.70zM393.45 204.25h1.70v1.00h-1.70zM395.05 200.65h1.70v1.00h-1.70z"/>
<path fill="#ff0000" d="M299.05 212.35h1.70v1.00h-1.70zM300.65 212.35h1.70v1.00h-1.70zM300.65 215.95h1.70v1.00h-1.70zM302.25 215.95h1.70v1.00h-1.70zM391.85 197.05h1.70v1.00h-1.70zM391.85 197.95h1.70v1.00h-1.70zM391.85 199.75h1.70v1.00h-1.70zM391.85 207.85h1.70v1.00h-1.70zM393.45 197.05h1.70v1.00h-1.70zM393.45 202.45h1.70v1.00h-1.70zM393.45 203.35h1.70v1.00h-1.70z"/>
<path fill="#c00000" d="M299.05 211.45h1.70v1.00h-1.70zM299.05 214.15h1.70v1.00h-1.70zM299.05 215.95h1.70v1.00h-1.70zM299.05 216.85h1.70v1.00h-1.70zM299.05 217.75h1.70v1.00h-1.70zM300.65 210.55h1.70v1.00h-1.70zM302.25 211.45h1.70v1.00h-1.70zM302.25 214.15h1.70v1.00h-1.70zM388.65 209.65h1.70v1.00h-1.70zM391.85 200.65h1.70v1.00h-1.70zM391.85 204.25h1.70v1.00h-1.70zM395.05 202.45h1.70v1.00h-1.70z"/>
<path fill="#800000" d="M300.65 217.75h1.70v1.00h-1.70zM393.45 205.15h1.70v1.00h-1.70z"/>
<path fill="#000000" d="M299.05 213.25h1.70v1.00h-1.70zM299.05 215.05h1.70v1.00h-1.70zM300.65 214.15h1.70v1.00h-1.70z"/>
<path fill="#808080" d="M300.65 211.45h1.70v1.00h-1.70zM391.85 201.55h1.70v1.00h-1.70zM393.45 200.65h1.70v1.00h-1.70z"/>
<path fill="#ffffff" d="M300.65 215.05h1.70v1.00h-1.70z"/>
</g>
<g shape-rendering="crispEdges">
<path fill="#ff55ff" d="M596.32 466.50h1.15v1.36h-1.15zM597.25 473.70h1.15v1.36h-1.15zM597.25 476.58h1.15v1.36h-1.15zM597.25 478.02h1.15v1.36h-1.15zM598.18 466.50h1.15v1.36h-1.15zM598.18 473.70h1.15v1.36h-1.15zM599.11 475.14h1.15v1.36h-1.15zM599.11 482.34h1.15v1.36h-1.15zM600.97 473.70h1.15v1.36h-1.15zM600.97 476.58h1.15v1.36h-1.15zM600.97 483.78h1.15v1.36h-1.15zM601.90 475.14h1.15v1.36h-1.15zM601.90 476.58h1.15v1.36h-1.15zM601.90 478.02h1.15v1.36h-1.15zM602.83 469.38h1.15v1.36h-1.15zM602.83 476.58h1.15v1.36h-1.15zM603.76 466.50h1.15v1.36h-1.15zM603.76 467.94h1.15v1.36h-1.15zM603.76 472.26h1.15v1.36h-1.15zM603.76 479.46h1.15v1.36h-1.15zM604.69 456.42h1.15v1.36h-1.15zM604.69 459.30h1.15v1.36h-1.15zM604.69 465.06h1.15v1.36h-1.15zM604.69 472.26h1.15v1.36h-1.15zM604.69 482.34h1.15v1.36h-1.15zM605.62 469.38h1.15v1.36h-1.15zM605.62 470.82h1.15v1.36h-1.15zM605.62 473.70h1.15v1.36h-1.15zM605.62 475.14h1.15v1.36h-1.15zM606.55 459.30h1.15v1.36h-1.15zM607.48 459.30h1.15v1.36h-1.15zM607.48 467.94h1.15v1.36h-1.15zM608.41 476.58h1.15v1.36h-1.15zM608.41 479.46h1.15v1.36h-1.15zM608.41 480.90h1.15v1.36h-1.15zM608.41 495.30h1.15v1.36h-1.15zM609.34 466.50h1.15v1.36h-1.15zM609.34 473.70h1.15v1.36h-1.15zM609.34 475.14h1.15v1.36h-1.15zM610.27 470.82h1.15v1.36h-1.15zM610.27 472.26h1.15v1.36h-1.15zM610.27 476.58h1.15v1.36h-1.15zM610.27 480.90h1.15v1.36h-1.15zM610.27 499.62h1.15v1.36h-1.15zM611.20 456.42h1.15v1.36h-1.15zM611.20 459.30h1.15v1.36h-1.15zM611.20 462.18h1.15v1.36h-1.15zM611.20 465.06h1.15v1.36h-1.15zM611.20 469.38h1.15v1.36h-1.15zM611.20 473.70h1.15v1.36h-1.15zM611.20 476.58h1.15v1.36h-1.15zM612.13 460.74h1.15v1.36h-1.15zM612.13 473.70h1.15v1.36h-1.15zM612.13 478.02h1.15v1.36h-1.15zM612.13 485.22h1.15v1.36h-1.15zM612.13 496.74h1.15v1.36h-1.15zM613.06 456.42h1.15v1.36h-1.15zM613.06 463.62h1.15v1.36h-1.15zM613.06 465.06h1.15v1.36h-1.15zM613.06 466.50h1.15v1.36h-1.15zM613.06 472.26h1.15v1.36h-1.15zM613.06 498.18h1.15v1.36h-1.15zM613.06 515.46h1.15v1.36h-1.15zM613.99 400.26h1.15v1.36h-1.15zM613.99 406.02h1.15v1.36h-1.15zM613.99 457.86h1.15v1.36h-1.15zM613.99 459.30h1.15v1.36h-1.15zM613.99 460.74h1.15v1.36h-1.15zM613.99 469.38h1.15v1.36h-1.15zM613.99 479.46h1.15v1.36h-1.15zM613.99 492.42h1.15v1.36h-1.15zM613.99 495.30h1.15v1.36h-1.15zM614.92 400.26h1.15v1.36h-1.15zM614.92 456.42h1.15v1.36h-1.15zM614.92 478.02h1.15v1.36h-1.15zM614.92 479.46h1.15v1.36h-1.15zM614.92 486.66h1.15v1.36h-1.15zM615.85 400.26h1.15v1.36h-1.15zM615.85 403.14h1.15v1.36h-1.15zM615.85 406.02h1.15v1.36h-1.15zM615.85 454.98h1.15v1.36h-1.15zM615.85 480.90h1.15v1.36h-1.15zM615.85 492.42h1.15v1.36h-1.15zM615.85 502.50h1.15v1.36h-1.15zM616.78 459.30h1.15v1.36h-1.15zM616.78 462.18h1.15v1.36h-1.15zM616.78 478.02h1.15v1.36h-1.15zM616.78 482.34h1.15v1.36h-1.15zM616.78 492.42h1.15v1.36h-1.15zM617.71 404.58h1.15v1.36h-1.15zM617.71 408.90h1.15v1.36h-1.15zM617.71 462.18h1.15v1.36h-1.15zM617.71 476.58h1.15v1.36h-1.15zM617.71 502.50h1.15v1.36h-1.15zM618.64 398.82h1.15v1.36h-1.15zM618.64 400.26h1.15v1.36h-1.15zM618.64 401.70h1.15v1.36h-1.15zM618.64 406.02h1.15v1.36h-1.15zM618.64 408.90h1.15v1.36h-1.15zM618.64 431.94h1.15v1.36h-1.15zM618.64 454.98h1.15v1.36h-1.15zM618.64 457.86h1.15v1.36h-1.15zM618.64 463.62h1.15v1.36h-1.15zM618.64 465.06h1.15v1.36h-1.15zM618.64 466.50h1.15v1.36h-1.15zM618.64 478.02h1.15v1.36h-1.15zM618.64 483.78h1.15v1.36h-1.15zM618.64 490.98h1.15v1.36h-1.15zM619.57 404.58h1.15v1.36h-1.15zM619.57 406.02h1.15v1.36h-1.15zM619.57 410.34h1.15v1.36h-1.15zM619.57 454.98h1.15v1.36h-1.15zM619.57 490.98h1.15v1.36h-1.15zM619.57 492.42h1.15v1.36h-1.15zM619.57 502.50h1.15v1.36h-1.15zM620.50 400.26h1.15v1.36h-1.15zM620.50 401.70h1.15v1.36h-1.15zM620.50 403.14h1.15v1.36h-1.15zM620.50 434.82h1.15v1.36h-1.15zM620.50 453.54h1.15v1.36h-1.15zM620.50 454.98h1.15v1.36h-1.15zM620.50 480.90h1.15v1.36h-1.15zM620.50 485.22h1.15v1.36h-1.15zM620.50 490.98h1.15v1.36h-1.15zM621.43 397.38h1.15v1.36h-1.15zM621.43 398.82h1.15v1.36h-1.15zM621.43 404.58h1.15v1.36h-1.15zM621.43 406.02h1.15v1.36h-1.15zM621.43 407.46h1.15v1.36h-1.15zM621.43 452.10h1.15v1.36h-1.15zM621.43 482.34h1.15v1.36h-1.15zM621.43 502.50h1.15v1.36h-1.15zM621.43 508.26h1.15v1.36h-1.15zM622.36 443.46h1.15v1.36h-1.15zM622.36 483.78h1.15v1.36h-1.15zM622.36 486.66h1.15v1.36h-1.15zM623.29 397.38h1.15v1.36h-1.15zM623.29 400.26h1.15v1.36h-1.15zM623.29 404.58h1.15v1.36h-1.15zM623.29 406.02h1.15v1.36h-1.15zM623.29 436.26h1.15v1.36h-1.15zM623.29 452.10h1.15v1.36h-1.15zM623.29 483.78h1.15v1.36h-1.15zM623.29 505.38h1.15v1.36h-1.15zM623.29 558.66h1.15v1.36h-1.15zM624.22 398.82h1.15v1.36h-1.15zM624.22 406.02h1.15v1.36h-1.15zM624.22 453.54h1.15v1.36h-1.15zM624.22 483.78h1.15v1.36h-1.15zM624.22 485.22h1.15v1.36h-1.15zM624.22 488.10h1.15v1.36h-1.15zM624.22 493.86h1.15v1.36h-1.15zM624.22 511.14h1.15v1.36h-1.15zM624.22 514.02h1.15v1.36h-1.15zM624.22 515.46h1.15v1.36h-1.15zM624.22 516.90h1.15v1.36h-1.15zM625.15 400.26h1.15v1.36h-1.15zM625.15 408.90h1.15v1.36h-1.15zM625.15 410.34h1.15v1.36h-1.15zM625.15 431.94h1.15v1.36h-1.15zM625.15 436.26h1.15v1.36h-1.15zM625.15 450.66h1.15v1.36h-1.15zM625.15 454.98h1.15v1.36h-1.15zM625.15 463.62h1.15v1.36h-1.15zM625.15 486.66h1.15v1.36h-1.15zM625.15 488.10h1.15v1.36h-1.15zM625.15 512.58h1.15v1.36h-1.15zM625.15 514.02h1.15v1.36h-1.15zM625.15 515.46h1.15v1.36h-1.15zM625.15 516.90h1.15v1.36h-1.15zM625.15 522.66h1.15v1.36h-1.15zM625.15 524.10h1.15v1.36h-1.15zM626.08 395.94h1.15v1.36h-1.15zM626.08 404.58h1.15v1.36h-1.15zM626.08 408.90h1.15v1.36h-1.15zM626.08 450.66h1.15v1.36h-1.15zM626.08 453.54h1.15v1.36h-1.15zM626.08 482.34h1.15v1.36h-1.15zM626.08 483.78h1.15v1.36h-1.15zM626.08 488.10h1.15v1.36h-1.15zM626.08 490.98h1.15v1.36h-1.15zM626.08 492.42h1.15v1.36h-1.15zM626.08 508.26h1.15v1.36h-1.15zM626.08 514.02h1.15v1.36h-1.15zM626.08 515.46h1.15v1.36h-1.15zM626.08 518.34h1.15v1.36h-1.15zM626.08 519.78h1.15v1.36h-1.15zM627.01 403.14h1.15v1.36h-1.15zM627.01 404.58h1.15v1.36h-1.15zM627.01 408.90h1.15v1.36h-1.15zM627.01 431.94h1.15v1.36h-1.15zM627.01 433.38h1.15v1.36h-1.15zM627.01 436.26h1.15v1.36h-1.15zM627.01 483.78h1.15v1.36h-1.15zM627.01 489.54h1.15v1.36h-1.15zM627.01 492.42h1.15v1.36h-1.15zM627.01 514.02h1.15v1.36h-1.15zM627.01 515.46h1.15v1.36h-1.15zM627.01 518.34h1.15v1.36h-1.15zM627.01 519.78h1.15v1.36h-1.15zM627.01 522.66h1.15v1.36h-1.15zM627.94 403.14h1.15v1.36h-1.15zM627.94 404.58h1.15v1.36h-1.15zM627.94 433.38h1.15v1.36h-1.15zM627.94 436.26h1.15v1.36h-1.15zM627.94 450.66h1.15v1.36h-1.15zM627.94 485.22h1.15v1.36h-1.15zM627.94 488.10h1.15v1.36h-1.15zM627.94 502.50h1.15v1.36h-1.15zM627.94 505.38h1.15v1.36h-1.15zM627.94 508.26h1.15v1.36h-1.15zM627.94 512.58h1.15v1.36h-1.15zM627.94 515.46h1.15v1.36h-1.15zM627.94 522.66h1.15v1.36h-1.15zM627.94 528.42h1.15v1.36h-1.15zM627.94 529.86h1.15v1.36h-1.15zM628.87 401.70h1.15v1.36h-1.15zM628.87 437.70h1.15v1.36h-1.15zM628.87 449.22h1.15v1.36h-1.15zM628.87 483.78h1.15v1.36h-1.15zM628.87 492.42h1.15v1.36h-1.15zM628.87 496.74h1.15v1.36h-1.15zM628.87 498.18h1.15v1.36h-1.15zM628.87 509.70h1.15v1.36h-1.15zM628.87 515.46h1.15v1.36h-1.15zM628.87 519.78h1.15v1.36h-1.15zM628.87 521.22h1.15v1.36h-1.15zM628.87 526.98h1.15v1.36h-1.15zM629.80 404.58h1.15v1.36h-1.15zM629.80 434.82h1.15v1.36h-1.15zM629.80 452.10h1.15v1.36h-1.15zM629.80 485.22h1.15v1.36h-1.15zM629.80 486.66h1.15v1.36h-1.15zM629.80 495.30h1.15v1.36h-1.15zM629.80 499.62h1.15v1.36h-1.15zM629.80 502.50h1.15v1.36h-1.15zM629.80 503.94h1.15v1.36h-1.15zM629.80 508.26h1.15v1.36h-1.15zM629.80 512.58h1.15v1.36h-1.15zM629.80 522.66h1.15v1.36h-1.15zM630.73 406.02h1.15v1.36h-1.15zM630.73 416.10h1.15v1.36h-1.15zM630.73 434.82h1.15v1.36h-1.15zM630.73 493.86h1.15v1.36h-1.15zM630.73 499.62h1.15v1.36h-1.15zM630.73 501.06h1.15v1.36h-1.15zM630.73 502.50h1.15v1.36h-1.15zM630.73 505.38h1.15v1.36h-1.15zM630.73 509.70h1.15v1.36h-1.15zM630.73 511.14h1.15v1.36h-1.15zM630.73 514.02h1.15v1.36h-1.15zM630.73 518.34h1.15v1.36h-1.15zM630.73 522.66h1.15v1.36h-1.15zM631.66 400.26h1.15v1.36h-1.15zM631.66 401.70h1.15v1.36h-1.15zM631.66 407.46h1.15v1.36h-1.15zM631.66 449.22h1.15v1.36h-1.15zM631.66 485.22h1.15v1.36h-1.15zM631.66 495.30h1.15v1.36h-1.15zM631.66 496.74h1.15v1.36h-1.15zM631.66 519.78h1.15v1.36h-1.15zM631.66 522.66h1.15v1.36h-1.15zM632.59 391.62h1.15v1.36h-1.15zM632.59 395.94h1.15v1.36h-1.15zM632.59 434.82h1.15v1.36h-1.15zM632.59 482.34h1.15v1.36h-1.15zM632.59 485.22h1.15v1.36h-1.15zM632.59 486.66h1.15v1.36h-1.15zM632.59 488.10h1.15v1.36h-1.15zM632.59 495.30h1.15v1.36h-1.15zM632.59 498.18h1.15v1.36h-1.15zM632.59 499.62h1.15v1.36h-1.15zM632.59 505.38h1.15v1.36h-1.15zM632.59 506.82h1.15v1.36h-1.15zM632.59 518.34h1.15v1.36h-1.15zM632.59 524.10h1.15v1.36h-1.15zM633.52 439.14h1.15v1.36h-1.15zM633.52 453.54h1.15v1.36h-1.15zM633.52 485.22h1.15v1.36h-1.15zM633.52 496.74h1.15v1.36h-1.15zM633.52 498.18h1.15v1.36h-1.15zM633.52 505.38h1.15v1.36h-1.15zM633.52 506.82h1.15v1.36h-1.15zM633.52 509.70h1.15v1.36h-1.15zM633.52 514.02h1.15v1.36h-1.15zM633.52 521.22h1.15v1.36h-1.15zM633.52 524.10h1.15v1.36h-1.15zM633.52 528.42h1.15v1.36h-1.15zM633.52 529.86h1.15v1.36h-1.15zM634.45 401.70h1.15v1.36h-1.15zM634.45 450.66h1.15v1.36h-1.15zM634.45 482.34h1.15v1.36h-1.15zM634.45 501.06h1.15v1.36h-1.15zM634.45 524.10h1.15v1.36h-1.15zM634.45 525.54h1.15v1.36h-1.15zM635.38 431.94h1.15v1.36h-1.15zM635.38 436.26h1.15v1.36h-1.15zM635.38 449.22h1.15v1.36h-1.15zM635.38 450.66h1.15v1.36h-1.15zM635.38 485.22h1.15v1.36h-1.15zM635.38 492.42h1.15v1.36h-1.15zM635.38 496.74h1.15v1.36h-1.15zM635.38 503.94h1.15v1.36h-1.15zM635.38 505.38h1.15v1.36h-1.15zM635.38 506.82h1.15v1.36h-1.15zM635.38 508.26h1.15v1.36h-1.15zM635.38 511.14h1.15v1.36h-1.15zM635.38 512.58h1.15v1.36h-1.15zM635.38 516.90h1.15v1.36h-1.15zM635.38 519.78h1.15v1.36h-1.15zM635.38 524.10h1.15v1.36h-1.15zM636.31 403.14h1.15v1.36h-1.15zM636.31 434.82h1.15v1.36h-1.15zM636.31 452.10h1.15v1.36h-1.15zM636.31 483.78h1.15v1.36h-1.15zM636.31 488.10h1.15v1.36h-1.15zM636.31 508.26h1.15v1.36h-1.15zM636.31 514.02h1.15v1.36h-1.15zM636.31 518.34h1.15v1.36h-1.15zM636.31 521.22h1.15v1.36h-1.15zM636.31 525.54h1.15v1.36h-1.15zM636.31 526.98h1.15v1.36h-1.15zM636.31 532.74h1.15v1.36h-1.15zM636.31 560.10h1.15v1.36h-1.15zM637.24 404.58h1.15v1.36h-1.15zM637.24 423.30h1.15v1.36h-1.15zM637.24 470.82h1.15v1.36h-1.15zM637.24 483.78h1.15v1.36h-1.15zM637.24 486.66h1.15v1.36h-1.15zM637.24 488.10h1.15v1.36h-1.15zM637.24 509.70h1.15v1.36h-1.15zM637.24 516.90h1.15v1.36h-1.15zM637.24 521.22h1.15v1.36h-1.15zM637.24 522.66h1.15v1.36h-1.15zM638.17 400.26h1.15v1.36h-1.15zM638.17 457.86h1.15v1.36h-1.15zM638.17 480.90h1.15v1.36h-1.15zM638.17 482.34h1.15v1.36h-1.15zM638.17 496.74h1.15v1.36h-1.15zM638.17 503.94h1.15v1.36h-1.15zM638.17 509.70h1.15v1.36h-1.15zM638.17 512.58h1.15v1.36h-1.15zM638.17 514.02h1.15v1.36h-1.15zM638.17 519.78h1.15v1.36h-1.15zM638.17 521.22h1.15v1.36h-1.15zM638.17 561.54h1.15v1.36h-1.15zM639.10 420.42h1.15v1.36h-1.15zM639.10 433.38h1.15v1.36h-1.15zM639.10 452.10h1.15v1.36h-1.15zM639.10 454.98h1.15v1.36h-1.15zM639.10 473.70h1.15v1.36h-1.15zM639.10 482.34h1.15v1.36h-1.15zM639.10 485.22h1.15v1.36h-1.15zM639.10 492.42h1.15v1.36h-1.15zM639.10 509.70h1.15v1.36h-1.15zM639.10 512.58h1.15v1.36h-1.15zM639.10 514.02h1.15v1.36h-1.15zM639.10 515.46h1.15v1.36h-1.15zM639.10 516.90h1.15v1.36h-1.15zM639.10 528.42h1.15v1.36h-1.15zM640.03 400.26h1.15v1.36h-1.15zM640.03 407.46h1.15v1.36h-1.15zM640.03 424.74h1.15v1.36h-1.15zM640.03 434.82h1.15v1.36h-1.15zM640.03 453.54h1.15v1.36h-1.15zM640.03 465.06h1.15v1.36h-1.15zM640.03 482.34h1.15v1.36h-1.15zM640.03 483.78h1.15v1.36h-1.15zM640.03 485.22h1.15v1.36h-1.15zM640.03 486.66h1.15v1.36h-1.15zM640.03 489.54h1.15v1.36h-1.15zM640.03 516.90h1.15v1.36h-1.15zM640.03 522.66h1.15v1.36h-1.15zM640.03 526.98h1.15v1.36h-1.15zM640.96 394.50h1.15v1.36h-1.15zM640.96 398.82h1.15v1.36h-1.15zM640.96 429.06h1.15v1.36h-1.15zM640.96 450.66h1.15v1.36h-1.15zM640.96 452.10h1.15v1.36h-1.15zM640.96 454.98h1.15v1.36h-1.15zM640.96 463.62h1.15v1.36h-1.15zM640.96 465.06h1.15v1.36h-1.15zM640.96 466.50h1.15v1.36h-1.15zM640.96 469.38h1.15v1.36h-1.15zM640.96 483.78h1.15v1.36h-1.15zM640.96 485.22h1.15v1.36h-1.15zM640.96 503.94h1.15v1.36h-1.15zM640.96 508.26h1.15v1.36h-1.15zM640.96 512.58h1.15v1.36h-1.15zM640.96 515.46h1.15v1.36h-1.15zM640.96 516.90h1.15v1.36h-1.15zM640.96 521.22h1.15v1.36h-1.15zM641.89 466.50h1.15v1.36h-1.15zM641.89 509.70h1.15v1.36h-1.15zM641.89 512.58h1.15v1.36h-1.15zM641.89 515.46h1.15v1.36h-1.15zM641.89 518.34h1.15v1.36h-1.15zM641.89 558.66h1.15v1.36h-1.15zM641.89 560.10h1.15v1.36h-1.15zM642.82 400.26h1.15v1.36h-1.15zM642.82 453.54h1.15v1.36h-1.15zM642.82 459.30h1.15v1.36h-1.15zM642.82 470.82h1.15v1.36h-1.15zM642.82 479.46h1.15v1.36h-1.15zM642.82 480.90h1.15v1.36h-1.15zM642.82 483.78h1.15v1.36h-1.15zM642.82 485.22h1.15v1.36h-1.15zM642.82 503.94h1.15v1.36h-1.15zM642.82 506.82h1.15v1.36h-1.15zM642.82 508.26h1.15v1.36h-1.15zM642.82 511.14h1.15v1.36h-1.15zM642.82 562.98h1.15v1.36h-1.15zM643.75 397.38h1.15v1.36h-1.15zM643.75 465.06h1.15v1.36h-1.15zM643.75 467.94h1.15v1.36h-1.15zM643.75 483.78h1.15v1.36h-1.15zM643.75 486.66h1.15v1.36h-1.15zM643.75 511.14h1.15v1.36h-1.15zM643.75 518.34h1.15v1.36h-1.15zM643.75 519.78h1.15v1.36h-1.15zM643.75 524.10h1.15v1.36h-1.15zM643.75 555.78h1.15v1.36h-1.15zM644.68 398.82h1.15v1.36h-1.15zM644.68 454.98h1.15v1.36h-1.15zM644.68 457.86h1.15v1.36h-1.15zM644.68 466.50h1.15v1.36h-1.15zM644.68 469.38h1.15v1.36h-1.15zM644.68 476.58h1.15v1.36h-1.15zM644.68 480.90h1.15v1.36h-1.15zM644.68 482.34h1.15v1.36h-1.15zM644.68 483.78h1.15v1.36h-1.15zM644.68 509.70h1.15v1.36h-1.15zM644.68 518.34h1.15v1.36h-1.15zM644.68 554.34h1.15v1.36h-1.15zM644.68 555.78h1.15v1.36h-1.15zM645.61 453.54h1.15v1.36h-1.15zM645.61 459.30h1.15v1.36h-1.15zM645.61 462.18h1.15v1.36h-1.15zM645.61 466.50h1.15v1.36h-1.15zM645.61 469.38h1.15v1.36h-1.15zM645.61 476.58h1.15v1.36h-1.15zM645.61 485.22h1.15v1.36h-1.15zM645.61 506.82h1.15v1.36h-1.15zM645.61 511.14h1.15v1.36h-1.15zM645.61 518.34h1.15v1.36h-1.15zM645.61 558.66h1.15v1.36h-1.15zM645.61 561.54h1.15v1.36h-1.15zM646.54 459.30h1.15v1.36h-1.15zM646.54 460.74h1.15v1.36h-1.15zM646.54 462.18h1.15v1.36h-1.15zM646.54 470.82h1.15v1.36h-1.15zM646.54 475.14h1.15v1.36h-1.15zM646.54 480.90h1.15v1.36h-1.15zM646.54 483.78h1.15v1.36h-1.15zM646.54 512.58h1.15v1.36h-1.15zM646.54 519.78h1.15v1.36h-1.15zM646.54 521.22h1.15v1.36h-1.15zM647.47 457.86h1.15v1.36h-1.15zM647.47 459.30h1.15v1.36h-1.15zM647.47 462.18h1.15v1.36h-1.15zM647.47 463.62h1.15v1.36h-1.15zM647.47 465.06h1.15v1.36h-1.15zM647.47 472.26h1.15v1.36h-1.15zM647.47 476.58h1.15v1.36h-1.15zM647.47 483.78h1.15v1.36h-1.15zM647.47 499.62h1.15v1.36h-1.15zM647.47 558.66h1.15v1.36h-1.15zM648.40 463.62h1.15v1.36h-1.15zM648.40 473.70h1.15v1.36h-1.15zM648.40 475.14h1.15v1.36h-1.15zM648.40 479.46h1.15v1.36h-1.15zM648.40 485.22h1.15v1.36h-1.15zM649.33 459.30h1.15v1.36h-1.15zM649.33 467.94h1.15v1.36h-1.15zM649.33 472.26h1.15v1.36h-1.15zM649.33 475.14h1.15v1.36h-1.15zM649.33 476.58h1.15v1.36h-1.15zM650.26 453.54h1.15v1.36h-1.15zM650.26 472.26h1.15v1.36h-1.15zM651.19 457.86h1.15v1.36h-1.15zM651.19 466.50h1.15v1.36h-1.15zM651.19 467.94h1.15v1.36h-1.15zM651.19 469.38h1.15v1.36h-1.15zM651.19 470.82h1.15v1.36h-1.15zM651.19 473.70h1.15v1.36h-1.15zM651.19 475.14h1.15v1.36h-1.15zM651.19 476.58h1.15v1.36h-1.15zM651.19 482.34h1.15v1.36h-1.15zM651.19 509.70h1.15v1.36h-1.15zM652.12 472.26h1.15v1.36h-1.15zM652.12 473.70h1.15v1.36h-1.15zM652.12 505.38h1.15v1.36h-1.15zM652.12 560.10h1.15v1.36h-1.15zM652.12 587.46h1.15v1.36h-1.15zM653.05 465.06h1.15v1.36h-1.15zM653.98 473.70h1.15v1.36h-1.15zM653.98 475.14h1.15v1.36h-1.15zM654.91 462.18h1.15v1.36h-1.15zM654.91 480.90h1.15v1.36h-1.15zM654.91 509.70h1.15v1.36h-1.15zM655.84 452.10h1.15v1.36h-1.15zM655.84 467.94h1.15v1.36h-1.15zM655.84 479.46h1.15v1.36h-1.15zM655.84 486.66h1.15v1.36h-1.15zM655.84 506.82h1.15v1.36h-1.15zM655.84 508.26h1.15v1.36h-1.15zM655.84 554.34h1.15v1.36h-1.15zM656.77 475.14h1.15v1.36h-1.15zM656.77 480.90h1.15v1.36h-1.15zM656.77 511.14h1.15v1.36h-1.15zM656.77 518.34h1.15v1.36h-1.15zM657.70 463.62h1.15v1.36h-1.15zM657.70 473.70h1.15v1.36h-1.15zM658.63 456.42h1.15v1.36h-1.15zM658.63 470.82h1.15v1.36h-1.15zM658.63 475.14h1.15v1.36h-1.15zM659.56 463.62h1.15v1.36h-1.15zM659.56 473.70h1.15v1.36h-1.15zM659.56 476.58h1.15v1.36h-1.15zM660.49 466.50h1.15v1.36h-1.15zM660.49 469.38h1.15v1.36h-1.15zM660.49 560.10h1.15v1.36h-1.15zM661.42 473.70h1.15v1.36h-1.15zM662.35 459.30h1.15v1.36h-1.15zM662.35 463.62h1.15v1.36h-1.15zM662.35 469.38h1.15v1.36h-1.15zM662.35 473.70h1.15v1.36h-1.15zM663.28 472.26h1.15v1.36h-1.15zM665.14 466.50h1.15v1.36h-1.15zM666.07 470.82h1.15v1.36h-1.15zM671.65 473.70h1.15v1.36h-1.15zM673.51 465.06h1.15v1.36h-1.15z"/>
<path fill="#8000ff" d="M600.04 475.14h1.15v1.36h-1.15zM602.83 478.02h1.15v1.36h-1.15zM603.76 473.70h1.15v1.36h-1.15zM604.69 467.94h1.15v1.36h-1.15zM611.20 495.30h1.15v1.36h-1.15zM611.20 496.74h1.15v1.36h-1.15zM612.13 493.86h1.15v1.36h-1.15zM612.13 498.18h1.15v1.36h-1.15zM613.06 459.30h1.15v1.36h-1.15zM613.06 467.94h1.15v1.36h-1.15zM613.06 470.82h1.15v1.36h-1.15zM613.06 492.42h1.15v1.36h-1.15zM613.99 466.50h1.15v1.36h-1.15zM613.99 467.94h1.15v1.36h-1.15zM613.99 475.14h1.15v1.36h-1.15zM613.99 493.86h1.15v1.36h-1.15zM613.99 499.62h1.15v1.36h-1.15zM614.92 457.86h1.15v1.36h-1.15zM614.92 463.62h1.15v1.36h-1.15zM614.92 469.38h1.15v1.36h-1.15zM614.92 473.70h1.15v1.36h-1.15zM614.92 475.14h1.15v1.36h-1.15zM614.92 476.58h1.15v1.36h-1.15zM614.92 495.30h1.15v1.36h-1.15zM614.92 499.62h1.15v1.36h-1.15zM615.85 456.42h1.15v1.36h-1.15zM615.85 457.86h1.15v1.36h-1.15zM615.85 460.74h1.15v1.36h-1.15zM615.85 473.70h1.15v1.36h-1.15zM615.85 475.14h1.15v1.36h-1.15zM615.85 476.58h1.15v1.36h-1.15zM615.85 478.02h1.15v1.36h-1.15zM615.85 493.86h1.15v1.36h-1.15zM615.85 495.30h1.15v1.36h-1.15zM615.85 498.18h1.15v1.36h-1.15zM615.85 499.62h1.15v1.36h-1.15zM616.78 465.06h1.15v1.36h-1.15zM616.78 480.90h1.15v1.36h-1.15zM616.78 493.86h1.15v1.36h-1.15zM617.71 465.06h1.15v1.36h-1.15zM617.71 480.90h1.15v1.36h-1.15zM617.71 492.42h1.15v1.36h-1.15zM618.64 407.46h1.15v1.36h-1.15zM618.64 456.42h1.15v1.36h-1.15zM618.64 479.46h1.15v1.36h-1.15zM618.64 480.90h1.15v1.36h-1.15zM618.64 482.34h1.15v1.36h-1.15zM618.64 502.50h1.15v1.36h-1.15zM619.57 407.46h1.15v1.36h-1.15zM619.57 465.06h1.15v1.36h-1.15zM619.57 480.90h1.15v1.36h-1.15zM620.50 463.62h1.15v1.36h-1.15zM620.50 465.06h1.15v1.36h-1.15zM620.50 495.30h1.15v1.36h-1.15zM620.50 496.74h1.15v1.36h-1.15zM621.43 453.54h1.15v1.36h-1.15zM621.43 465.06h1.15v1.36h-1.15zM621.43 467.94h1.15v1.36h-1.15zM621.43 479.46h1.15v1.36h-1.15zM621.43 485.22h1.15v1.36h-1.15zM621.43 490.98h1.15v1.36h-1.15zM621.43 492.42h1.15v1.36h-1.15zM622.36 404.58h1.15v1.36h-1.15zM622.36 452.10h1.15v1.36h-1.15zM622.36 453.54h1.15v1.36h-1.15zM622.36 454.98h1.15v1.36h-1.15zM622.36 457.86h1.15v1.36h-1.15zM622.36 480.90h1.15v1.36h-1.15zM622.36 492.42h1.15v1.36h-1.15zM622.36 502.50h1.15v1.36h-1.15zM623.29 486.66h1.15v1.36h-1.15zM623.29 492.42h1.15v1.36h-1.15zM624.22 400.26h1.15v1.36h-1.15zM624.22 463.62h1.15v1.36h-1.15zM624.22 479.46h1.15v1.36h-1.15zM624.22 482.34h1.15v1.36h-1.15zM624.22 502.50h1.15v1.36h-1.15zM625.15 452.10h1.15v1.36h-1.15zM625.15 453.54h1.15v1.36h-1.15zM625.15 492.42h1.15v1.36h-1.15zM625.15 502.50h1.15v1.36h-1.15zM626.08 452.10h1.15v1.36h-1.15zM626.08 465.06h1.15v1.36h-1.15zM626.08 506.82h1.15v1.36h-1.15zM627.01 450.66h1.15v1.36h-1.15zM627.01 452.10h1.15v1.36h-1.15zM627.01 453.54h1.15v1.36h-1.15zM627.01 480.90h1.15v1.36h-1.15zM627.01 485.22h1.15v1.36h-1.15zM627.01 486.66h1.15v1.36h-1.15zM627.01 493.86h1.15v1.36h-1.15zM627.94 453.54h1.15v1.36h-1.15zM627.94 465.06h1.15v1.36h-1.15zM627.94 483.78h1.15v1.36h-1.15zM627.94 496.74h1.15v1.36h-1.15zM627.94 521.22h1.15v1.36h-1.15zM628.87 452.10h1.15v1.36h-1.15zM628.87 480.90h1.15v1.36h-1.15zM628.87 482.34h1.15v1.36h-1.15zM628.87 486.66h1.15v1.36h-1.15zM628.87 489.54h1.15v1.36h-1.15zM628.87 493.86h1.15v1.36h-1.15zM628.87 495.30h1.15v1.36h-1.15zM628.87 499.62h1.15v1.36h-1.15zM628.87 501.06h1.15v1.36h-1.15zM628.87 506.82h1.15v1.36h-1.15zM628.87 516.90h1.15v1.36h-1.15zM629.80 453.54h1.15v1.36h-1.15zM629.80 480.90h1.15v1.36h-1.15zM629.80 482.34h1.15v1.36h-1.15zM629.80 488.10h1.15v1.36h-1.15zM629.80 496.74h1.15v1.36h-1.15zM629.80 509.70h1.15v1.36h-1.15zM629.80 518.34h1.15v1.36h-1.15zM630.73 454.98h1.15v1.36h-1.15zM630.73 462.18h1.15v1.36h-1.15zM630.73 483.78h1.15v1.36h-1.15zM630.73 485.22h1.15v1.36h-1.15zM630.73 486.66h1.15v1.36h-1.15zM630.73 495.30h1.15v1.36h-1.15zM630.73 498.18h1.15v1.36h-1.15zM630.73 506.82h1.15v1.36h-1.15zM630.73 516.90h1.15v1.36h-1.15zM630.73 519.78h1.15v1.36h-1.15zM631.66 453.54h1.15v1.36h-1.15zM631.66 486.66h1.15v1.36h-1.15zM631.66 488.10h1.15v1.36h-1.15zM631.66 498.18h1.15v1.36h-1.15zM631.66 505.38h1.15v1.36h-1.15zM631.66 514.02h1.15v1.36h-1.15zM632.59 433.38h1.15v1.36h-1.15zM632.59 450.66h1.15v1.36h-1.15zM632.59 483.78h1.15v1.36h-1.15zM632.59 503.94h1.15v1.36h-1.15zM632.59 508.26h1.15v1.36h-1.15zM632.59 512.58h1.15v1.36h-1.15zM633.52 452.10h1.15v1.36h-1.15zM633.52 463.62h1.15v1.36h-1.15zM633.52 482.34h1.15v1.36h-1.15zM633.52 488.10h1.15v1.36h-1.15zM633.52 499.62h1.15v1.36h-1.15zM633.52 511.14h1.15v1.36h-1.15zM634.45 436.26h1.15v1.36h-1.15zM634.45 453.54h1.15v1.36h-1.15zM634.45 456.42h1.15v1.36h-1.15zM634.45 483.78h1.15v1.36h-1.15zM634.45 485.22h1.15v1.36h-1.15zM634.45 489.54h1.15v1.36h-1.15zM634.45 506.82h1.15v1.36h-1.15zM634.45 508.26h1.15v1.36h-1.15zM634.45 514.02h1.15v1.36h-1.15zM634.45 516.90h1.15v1.36h-1.15zM635.38 452.10h1.15v1.36h-1.15zM635.38 453.54h1.15v1.36h-1.15zM635.38 457.86h1.15v1.36h-1.15zM635.38 509.70h1.15v1.36h-1.15zM635.38 515.46h1.15v1.36h-1.15zM635.38 521.22h1.15v1.36h-1.15zM635.38 522.66h1.15v1.36h-1.15zM636.31 453.54h1.15v1.36h-1.15zM636.31 457.86h1.15v1.36h-1.15zM636.31 475.14h1.15v1.36h-1.15zM636.31 476.58h1.15v1.36h-1.15zM636.31 511.14h1.15v1.36h-1.15zM637.24 508.26h1.15v1.36h-1.15zM637.24 511.14h1.15v1.36h-1.15zM637.24 512.58h1.15v1.36h-1.15zM637.24 514.02h1.15v1.36h-1.15zM637.24 515.46h1.15v1.36h-1.15zM637.24 525.54h1.15v1.36h-1.15zM638.17 398.82h1.15v1.36h-1.15zM638.17 454.98h1.15v1.36h-1.15zM638.17 483.78h1.15v1.36h-1.15zM638.17 506.82h1.15v1.36h-1.15zM638.17 516.90h1.15v1.36h-1.15zM638.17 524.10h1.15v1.36h-1.15zM639.10 453.54h1.15v1.36h-1.15zM639.10 459.30h1.15v1.36h-1.15zM639.10 460.74h1.15v1.36h-1.15zM639.10 462.18h1.15v1.36h-1.15zM639.10 463.62h1.15v1.36h-1.15zM639.10 465.06h1.15v1.36h-1.15zM639.10 466.50h1.15v1.36h-1.15zM639.10 475.14h1.15v1.36h-1.15zM639.10 511.14h1.15v1.36h-1.15zM639.10 518.34h1.15v1.36h-1.15zM640.03 452.10h1.15v1.36h-1.15zM640.03 454.98h1.15v1.36h-1.15zM640.03 457.86h1.15v1.36h-1.15zM640.03 459.30h1.15v1.36h-1.15zM640.03 460.74h1.15v1.36h-1.15zM640.03 463.62h1.15v1.36h-1.15zM640.03 466.50h1.15v1.36h-1.15zM640.03 472.26h1.15v1.36h-1.15zM640.03 478.02h1.15v1.36h-1.15zM640.03 508.26h1.15v1.36h-1.15zM640.03 514.02h1.15v1.36h-1.15zM640.96 457.86h1.15v1.36h-1.15zM640.96 467.94h1.15v1.36h-1.15zM640.96 509.70h1.15v1.36h-1.15zM640.96 524.10h1.15v1.36h-1.15zM641.89 454.98h1.15v1.36h-1.15zM641.89 456.42h1.15v1.36h-1.15zM641.89 459.30h1.15v1.36h-1.15zM641.89 462.18h1.15v1.36h-1.15zM641.89 467.94h1.15v1.36h-1.15zM641.89 475.14h1.15v1.36h-1.15zM642.82 452.10h1.15v1.36h-1.15zM642.82 454.98h1.15v1.36h-1.15zM642.82 456.42h1.15v1.36h-1.15zM642.82 462.18h1.15v1.36h-1.15zM642.82 465.06h1.15v1.36h-1.15zM642.82 466.50h1.15v1.36h-1.15zM642.82 467.94h1.15v1.36h-1.15zM642.82 472.26h1.15v1.36h-1.15zM642.82 473.70h1.15v1.36h-1.15zM642.82 476.58h1.15v1.36h-1.15zM642.82 518.34h1.15v1.36h-1.15zM643.75 457.86h1.15v1.36h-1.15zM643.75 459.30h1.15v1.36h-1.15zM643.75 466.50h1.15v1.36h-1.15zM643.75 470.82h1.15v1.36h-1.15zM643.75 472.26h1.15v1.36h-1.15zM643.75 475.14h1.15v1.36h-1.15zM643.75 478.02h1.15v1.36h-1.15zM643.75 479.46h1.15v1.36h-1.15zM643.75 480.90h1.15v1.36h-1.15zM644.68 459.30h1.15v1.36h-1.15zM644.68 462.18h1.15v1.36h-1.15zM644.68 470.82h1.15v1.36h-1.15zM644.68 473.70h1.15v1.36h-1.15zM644.68 475.14h1.15v1.36h-1.15zM645.61 467.94h1.15v1.36h-1.15zM645.61 472.26h1.15v1.36h-1.15zM645.61 473.70h1.15v1.36h-1.15zM645.61 475.14h1.15v1.36h-1.15zM645.61 557.22h1.15v1.36h-1.15zM646.54 466.50h1.15v1.36h-1.15zM646.54 473.70h1.15v1.36h-1.15zM646.54 476.58h1.15v1.36h-1.15zM646.54 479.46h1.15v1.36h-1.15zM647.47 467.94h1.15v1.36h-1.15zM647.47 469.38h1.15v1.36h-1.15zM647.47 470.82h1.15v1.36h-1.15zM647.47 473.70h1.15v1.36h-1.15zM647.47 475.14h1.15v1.36h-1.15zM647.47 478.02h1.15v1.36h-1.15zM648.40 465.06h1.15v1.36h-1.15zM649.33 463.62h1.15v1.36h-1.15zM649.33 473.70h1.15v1.36h-1.15zM651.19 558.66h1.15v1.36h-1.15zM659.56 475.14h1.15v1.36h-1.15z"/>
<path fill="#0000ff" d="M610.27 496.74h1.15v1.36h-1.15zM613.06 462.18h1.15v1.36h-1.15zM613.06 473.70h1.15v1.36h-1.15zM613.06 493.86h1.15v1.36h-1.15zM613.06 496.74h1.15v1.36h-1.15zM613.99 501.06h1.15v1.36h-1.15zM614.92 465.06h1.15v1.36h-1.15zM614.92 470.82h1.15v1.36h-1.15zM614.92 498.18h1.15v1.36h-1.15zM615.85 459.30h1.15v1.36h-1.15zM615.85 462.18h1.15v1.36h-1.15zM615.85 465.06h1.15v1.36h-1.15zM615.85 467.94h1.15v1.36h-1.15zM615.85 469.38h1.15v1.36h-1.15zM616.78 457.86h1.15v1.36h-1.15zM616.78 467.94h1.15v1.36h-1.15zM616.78 475.14h1.15v1.36h-1.15zM616.78 501.06h1.15v1.36h-1.15zM617.71 457.86h1.15v1.36h-1.15zM617.71 463.62h1.15v1.36h-1.15zM617.71 466.50h1.15v1.36h-1.15zM617.71 469.38h1.15v1.36h-1.15zM617.71 475.14h1.15v1.36h-1.15zM617.71 478.02h1.15v1.36h-1.15zM617.71 496.74h1.15v1.36h-1.15zM617.71 501.06h1.15v1.36h-1.15zM619.57 466.50h1.15v1.36h-1.15zM619.57 482.34h1.15v1.36h-1.15zM619.57 493.86h1.15v1.36h-1.15zM620.50 462.18h1.15v1.36h-1.15zM620.50 473.70h1.15v1.36h-1.15zM620.50 479.46h1.15v1.36h-1.15zM620.50 498.18h1.15v1.36h-1.15zM621.43 466.50h1.15v1.36h-1.15zM621.43 483.78h1.15v1.36h-1.15zM622.36 463.62h1.15v1.36h-1.15zM622.36 478.02h1.15v1.36h-1.15zM622.36 479.46h1.15v1.36h-1.15zM622.36 490.98h1.15v1.36h-1.15zM622.36 493.86h1.15v1.36h-1.15zM623.29 462.18h1.15v1.36h-1.15zM623.29 463.62h1.15v1.36h-1.15zM623.29 467.94h1.15v1.36h-1.15zM623.29 480.90h1.15v1.36h-1.15zM623.29 482.34h1.15v1.36h-1.15zM623.29 493.86h1.15v1.36h-1.15zM623.29 495.30h1.15v1.36h-1.15zM624.22 454.98h1.15v1.36h-1.15zM624.22 480.90h1.15v1.36h-1.15zM624.22 492.42h1.15v1.36h-1.15zM625.15 465.06h1.15v1.36h-1.15zM625.15 466.50h1.15v1.36h-1.15zM625.15 485.22h1.15v1.36h-1.15zM625.15 493.86h1.15v1.36h-1.15zM626.08 454.98h1.15v1.36h-1.15zM626.08 495.30h1.15v1.36h-1.15zM626.08 501.06h1.15v1.36h-1.15zM626.08 502.50h1.15v1.36h-1.15zM627.01 467.94h1.15v1.36h-1.15zM627.01 501.06h1.15v1.36h-1.15zM627.94 493.86h1.15v1.36h-1.15zM628.87 454.98h1.15v1.36h-1.15zM629.80 450.66h1.15v1.36h-1.15zM629.80 483.78h1.15v1.36h-1.15zM630.73 488.10h1.15v1.36h-1.15zM630.73 496.74h1.15v1.36h-1.15zM631.66 450.66h1.15v1.36h-1.15zM631.66 480.90h1.15v1.36h-1.15zM631.66 509.70h1.15v1.36h-1.15zM632.59 454.98h1.15v1.36h-1.15zM632.59 462.18h1.15v1.36h-1.15zM632.59 480.90h1.15v1.36h-1.15zM633.52 462.18h1.15v1.36h-1.15zM633.52 480.90h1.15v1.36h-1.15zM633.52 508.26h1.15v1.36h-1.15zM633.52 516.90h1.15v1.36h-1.15zM634.45 452.10h1.15v1.36h-1.15zM634.45 454.98h1.15v1.36h-1.15zM634.45 457.86h1.15v1.36h-1.15zM634.45 479.46h1.15v1.36h-1.15zM634.45 512.58h1.15v1.36h-1.15zM634.45 515.46h1.15v1.36h-1.15zM635.38 460.74h1.15v1.36h-1.15zM635.38 482.34h1.15v1.36h-1.15zM635.38 486.66h1.15v1.36h-1.15zM636.31 462.18h1.15v1.36h-1.15zM636.31 478.02h1.15v1.36h-1.15zM636.31 516.90h1.15v1.36h-1.15zM637.24 462.18h1.15v1.36h-1.15zM637.24 480.90h1.15v1.36h-1.15zM638.17 456.42h1.15v1.36h-1.15zM638.17 469.38h1.15v1.36h-1.15zM638.17 475.14h1.15v1.36h-1.15zM639.10 470.82h1.15v1.36h-1.15zM639.10 479.46h1.15v1.36h-1.15zM639.10 480.90h1.15v1.36h-1.15zM640.03 467.94h1.15v1.36h-1.15zM640.03 469.38h1.15v1.36h-1.15zM640.03 470.82h1.15v1.36h-1.15zM640.03 475.14h1.15v1.36h-1.15zM640.03 476.58h1.15v1.36h-1.15zM640.96 472.26h1.15v1.36h-1.15zM640.96 475.14h1.15v1.36h-1.15zM640.96 480.90h1.15v1.36h-1.15zM641.89 457.86h1.15v1.36h-1.15zM641.89 465.06h1.15v1.36h-1.15zM642.82 457.86h1.15v1.36h-1.15zM642.82 460.74h1.15v1.36h-1.15zM642.82 463.62h1.15v1.36h-1.15zM642.82 475.14h1.15v1.36h-1.15zM644.68 456.42h1.15v1.36h-1.15zM644.68 460.74h1.15v1.36h-1.15zM644.68 467.94h1.15v1.36h-1.15zM644.68 478.02h1.15v1.36h-1.15zM645.61 465.06h1.15v1.36h-1.15zM645.61 470.82h1.15v1.36h-1.15zM646.54 469.38h1.15v1.36h-1.15zM647.47 466.50h1.15v1.36h-1.15zM648.40 462.18h1.15v1.36h-1.15zM649.33 465.06h1.15v1.36h-1.15zM649.33 466.50h1.15v1.36h-1.15zM649.33 470.82h1.15v1.36h-1.15zM650.26 470.82h1.15v1.36h-1.15zM654.91 469.38h1.15v1.36h-1.15z"/>
<path fill="#0080ff" d="M613.06 475.14h1.15v1.36h-1.15zM613.06 499.62h1.15v1.36h-1.15zM613.99 472.26h1.15v1.36h-1.15zM613.99 476.58h1.15v1.36h-1.15zM614.92 467.94h1.15v1.36h-1.15zM614.92 472.26h1.15v1.36h-1.15zM615.85 463.62h1.15v1.36h-1.15zM615.85 496.74h1.15v1.36h-1.15zM615.85 501.06h1.15v1.36h-1.15zM616.78 466.50h1.15v1.36h-1.15zM616.78 476.58h1.15v1.36h-1.15zM616.78 499.62h1.15v1.36h-1.15zM617.71 470.82h1.15v1.36h-1.15zM617.71 473.70h1.15v1.36h-1.15zM617.71 498.18h1.15v1.36h-1.15zM618.64 459.30h1.15v1.36h-1.15zM618.64 460.74h1.15v1.36h-1.15zM618.64 493.86h1.15v1.36h-1.15zM619.57 456.42h1.15v1.36h-1.15zM619.57 462.18h1.15v1.36h-1.15zM619.57 498.18h1.15v1.36h-1.15zM620.50 460.74h1.15v1.36h-1.15zM620.50 502.50h1.15v1.36h-1.15zM621.43 457.86h1.15v1.36h-1.15zM621.43 463.62h1.15v1.36h-1.15zM621.43 480.90h1.15v1.36h-1.15zM622.36 482.34h1.15v1.36h-1.15zM622.36 501.06h1.15v1.36h-1.15zM623.29 457.86h1.15v1.36h-1.15zM623.29 502.50h1.15v1.36h-1.15zM624.22 459.30h1.15v1.36h-1.15zM624.22 465.06h1.15v1.36h-1.15zM624.22 467.94h1.15v1.36h-1.15zM624.22 496.74h1.15v1.36h-1.15zM625.15 459.30h1.15v1.36h-1.15zM625.15 480.90h1.15v1.36h-1.15zM626.08 466.50h1.15v1.36h-1.15zM626.08 479.46h1.15v1.36h-1.15zM626.08 493.86h1.15v1.36h-1.15zM626.08 496.74h1.15v1.36h-1.15zM627.01 456.42h1.15v1.36h-1.15zM627.01 496.74h1.15v1.36h-1.15zM627.94 456.42h1.15v1.36h-1.15zM627.94 463.62h1.15v1.36h-1.15zM627.94 480.90h1.15v1.36h-1.15zM627.94 482.34h1.15v1.36h-1.15zM627.94 495.30h1.15v1.36h-1.15zM630.73 479.46h1.15v1.36h-1.15zM630.73 480.90h1.15v1.36h-1.15zM633.52 456.42h1.15v1.36h-1.15zM633.52 473.70h1.15v1.36h-1.15zM633.52 512.58h1.15v1.36h-1.15zM634.45 459.30h1.15v1.36h-1.15zM634.45 463.62h1.15v1.36h-1.15zM634.45 480.90h1.15v1.36h-1.15zM634.45 486.66h1.15v1.36h-1.15zM635.38 470.82h1.15v1.36h-1.15zM635.38 478.02h1.15v1.36h-1.15zM635.38 480.90h1.15v1.36h-1.15zM635.38 514.02h1.15v1.36h-1.15zM636.31 470.82h1.15v1.36h-1.15zM636.31 472.26h1.15v1.36h-1.15zM636.31 480.90h1.15v1.36h-1.15zM637.24 452.10h1.15v1.36h-1.15zM637.24 457.86h1.15v1.36h-1.15zM637.24 482.34h1.15v1.36h-1.15zM638.17 452.10h1.15v1.36h-1.15zM638.17 463.62h1.15v1.36h-1.15zM638.17 465.06h1.15v1.36h-1.15zM638.17 466.50h1.15v1.36h-1.15zM638.17 470.82h1.15v1.36h-1.15zM638.17 472.26h1.15v1.36h-1.15zM639.10 456.42h1.15v1.36h-1.15zM639.10 457.86h1.15v1.36h-1.15zM639.10 476.58h1.15v1.36h-1.15zM639.10 483.78h1.15v1.36h-1.15zM640.03 473.70h1.15v1.36h-1.15zM640.96 459.30h1.15v1.36h-1.15zM641.89 469.38h1.15v1.36h-1.15zM641.89 476.58h1.15v1.36h-1.15zM643.75 462.18h1.15v1.36h-1.15zM643.75 463.62h1.15v1.36h-1.15zM643.75 476.58h1.15v1.36h-1.15zM643.75 482.34h1.15v1.36h-1.15zM645.61 463.62h1.15v1.36h-1.15zM646.54 472.26h1.15v1.36h-1.15z"/>
<path fill="#00ffff" d="M613.99 470.82h1.15v1.36h-1.15zM614.92 460.74h1.15v1.36h-1.15zM614.92 462.18h1.15v1.36h-1.15zM614.92 466.50h1.15v1.36h-1.15zM614.92 493.86h1.15v1.36h-1.15zM616.78 463.62h1.15v1.36h-1.15zM616.78 469.38h1.15v1.36h-1.15zM616.78 472.26h1.15v1.36h-1.15zM616.78 495.30h1.15v1.36h-1.15zM617.71 456.42h1.15v1.36h-1.15zM617.71 459.30h1.15v1.36h-1.15zM617.71 460.74h1.15v1.36h-1.15zM618.64 462.18h1.15v1.36h-1.15zM618.64 470.82h1.15v1.36h-1.15zM618.64 476.58h1.15v1.36h-1.15zM618.64 499.62h1.15v1.36h-1.15zM618.64 501.06h1.15v1.36h-1.15zM619.57 460.74h1.15v1.36h-1.15zM619.57 463.62h1.15v1.36h-1.15zM619.57 469.38h1.15v1.36h-1.15zM619.57 476.58h1.15v1.36h-1.15zM619.57 495.30h1.15v1.36h-1.15zM619.57 501.06h1.15v1.36h-1.15zM620.50 459.30h1.15v1.36h-1.15zM620.50 466.50h1.15v1.36h-1.15zM620.50 478.02h1.15v1.36h-1.15zM620.50 493.86h1.15v1.36h-1.15zM621.43 459.30h1.15v1.36h-1.15zM621.43 462.18h1.15v1.36h-1.15zM621.43 496.74h1.15v1.36h-1.15zM623.29 454.98h1.15v1.36h-1.15zM623.29 456.42h1.15v1.36h-1.15zM623.29 460.74h1.15v1.36h-1.15zM623.29 496.74h1.15v1.36h-1.15zM624.22 452.10h1.15v1.36h-1.15zM625.15 456.42h1.15v1.36h-1.15zM625.15 457.86h1.15v1.36h-1.15zM626.08 456.42h1.15v1.36h-1.15zM626.08 457.86h1.15v1.36h-1.15zM626.08 467.94h1.15v1.36h-1.15zM627.01 459.30h1.15v1.36h-1.15zM627.01 482.34h1.15v1.36h-1.15zM627.94 452.10h1.15v1.36h-1.15zM627.94 460.74h1.15v1.36h-1.15zM627.94 467.94h1.15v1.36h-1.15zM627.94 479.46h1.15v1.36h-1.15zM627.94 518.34h1.15v1.36h-1.15zM628.87 456.42h1.15v1.36h-1.15zM628.87 459.30h1.15v1.36h-1.15zM628.87 462.18h1.15v1.36h-1.15zM628.87 467.94h1.15v1.36h-1.15zM628.87 488.10h1.15v1.36h-1.15zM629.80 454.98h1.15v1.36h-1.15zM629.80 457.86h1.15v1.36h-1.15zM629.80 460.74h1.15v1.36h-1.15zM629.80 465.06h1.15v1.36h-1.15zM630.73 459.30h1.15v1.36h-1.15zM630.73 463.62h1.15v1.36h-1.15zM630.73 482.34h1.15v1.36h-1.15zM631.66 456.42h1.15v1.36h-1.15zM631.66 460.74h1.15v1.36h-1.15zM631.66 463.62h1.15v1.36h-1.15zM631.66 482.34h1.15v1.36h-1.15zM631.66 483.78h1.15v1.36h-1.15zM632.59 463.62h1.15v1.36h-1.15zM632.59 519.78h1.15v1.36h-1.15zM633.52 459.30h1.15v1.36h-1.15zM633.52 518.34h1.15v1.36h-1.15zM635.38 456.42h1.15v1.36h-1.15zM635.38 476.58h1.15v1.36h-1.15zM636.31 463.62h1.15v1.36h-1.15zM636.31 482.34h1.15v1.36h-1.15zM637.24 454.98h1.15v1.36h-1.15zM637.24 463.62h1.15v1.36h-1.15zM637.24 465.06h1.15v1.36h-1.15zM637.24 469.38h1.15v1.36h-1.15zM637.24 473.70h1.15v1.36h-1.15zM637.24 478.02h1.15v1.36h-1.15zM637.24 479.46h1.15v1.36h-1.15zM637.24 506.82h1.15v1.36h-1.15zM638.17 462.18h1.15v1.36h-1.15zM638.17 476.58h1.15v1.36h-1.15zM638.17 478.02h1.15v1.36h-1.15zM639.10 467.94h1.15v1.36h-1.15zM639.10 469.38h1.15v1.36h-1.15zM640.03 456.42h1.15v1.36h-1.15zM640.03 462.18h1.15v1.36h-1.15zM640.96 456.42h1.15v1.36h-1.15zM640.96 470.82h1.15v1.36h-1.15zM640.96 473.70h1.15v1.36h-1.15zM641.89 470.82h1.15v1.36h-1.15zM641.89 480.90h1.15v1.36h-1.15zM641.89 483.78h1.15v1.36h-1.15zM643.75 460.74h1.15v1.36h-1.15zM643.75 469.38h1.15v1.36h-1.15zM644.68 463.62h1.15v1.36h-1.15zM644.68 465.06h1.15v1.36h-1.15zM644.68 479.46h1.15v1.36h-1.15zM645.61 460.74h1.15v1.36h-1.15z"/>
<path fill="#00ff00" d="M612.13 495.30h1.15v1.36h-1.15zM613.99 473.70h1.15v1.36h-1.15zM613.99 496.74h1.15v1.36h-1.15zM613.99 498.18h1.15v1.36h-1.15zM615.85 466.50h1.15v1.36h-1.15zM617.71 467.94h1.15v1.36h-1.15zM617.71 472.26h1.15v1.36h-1.15zM617.71 495.30h1.15v1.36h-1.15zM617.71 499.62h1.15v1.36h-1.15zM618.64 475.14h1.15v1.36h-1.15zM619.57 467.94h1.15v1.36h-1.15zM619.57 473.70h1.15v1.36h-1.15zM619.57 479.46h1.15v1.36h-1.15zM620.50 456.42h1.15v1.36h-1.15zM620.50 467.94h1.15v1.36h-1.15zM620.50 501.06h1.15v1.36h-1.15zM621.43 475.14h1.15v1.36h-1.15zM621.43 495.30h1.15v1.36h-1.15zM622.36 466.50h1.15v1.36h-1.15zM622.36 467.94h1.15v1.36h-1.15zM623.29 466.50h1.15v1.36h-1.15zM624.22 456.42h1.15v1.36h-1.15zM624.22 462.18h1.15v1.36h-1.15zM624.22 466.50h1.15v1.36h-1.15zM624.22 495.30h1.15v1.36h-1.15zM624.22 498.18h1.15v1.36h-1.15zM625.15 462.18h1.15v1.36h-1.15zM625.15 482.34h1.15v1.36h-1.15zM625.15 495.30h1.15v1.36h-1.15zM625.15 501.06h1.15v1.36h-1.15zM626.08 499.62h1.15v1.36h-1.15zM627.01 454.98h1.15v1.36h-1.15zM627.01 457.86h1.15v1.36h-1.15zM627.01 463.62h1.15v1.36h-1.15zM627.01 466.50h1.15v1.36h-1.15zM627.01 495.30h1.15v1.36h-1.15zM627.94 454.98h1.15v1.36h-1.15zM627.94 457.86h1.15v1.36h-1.15zM627.94 466.50h1.15v1.36h-1.15zM627.94 499.62h1.15v1.36h-1.15zM627.94 501.06h1.15v1.36h-1.15zM628.87 457.86h1.15v1.36h-1.15zM628.87 460.74h1.15v1.36h-1.15zM628.87 463.62h1.15v1.36h-1.15zM628.87 465.06h1.15v1.36h-1.15zM630.73 450.66h1.15v1.36h-1.15zM630.73 453.54h1.15v1.36h-1.15zM630.73 460.74h1.15v1.36h-1.15zM630.73 512.58h1.15v1.36h-1.15zM631.66 452.10h1.15v1.36h-1.15zM631.66 454.98h1.15v1.36h-1.15zM631.66 466.50h1.15v1.36h-1.15zM632.59 479.46h1.15v1.36h-1.15zM633.52 457.86h1.15v1.36h-1.15zM633.52 465.06h1.15v1.36h-1.15zM633.52 478.02h1.15v1.36h-1.15zM633.52 479.46h1.15v1.36h-1.15zM634.45 462.18h1.15v1.36h-1.15zM634.45 466.50h1.15v1.36h-1.15zM634.45 467.94h1.15v1.36h-1.15zM634.45 475.14h1.15v1.36h-1.15zM634.45 511.14h1.15v1.36h-1.15zM635.38 454.98h1.15v1.36h-1.15zM635.38 462.18h1.15v1.36h-1.15zM635.38 465.06h1.15v1.36h-1.15zM635.38 475.14h1.15v1.36h-1.15zM635.38 479.46h1.15v1.36h-1.15zM636.31 454.98h1.15v1.36h-1.15zM636.31 459.30h1.15v1.36h-1.15zM636.31 460.74h1.15v1.36h-1.15zM636.31 466.50h1.15v1.36h-1.15zM636.31 467.94h1.15v1.36h-1.15zM636.31 469.38h1.15v1.36h-1.15zM636.31 473.70h1.15v1.36h-1.15zM636.31 479.46h1.15v1.36h-1.15zM637.24 466.50h1.15v1.36h-1.15zM637.24 467.94h1.15v1.36h-1.15zM637.24 472.26h1.15v1.36h-1.15zM637.24 476.58h1.15v1.36h-1.15zM638.17 460.74h1.15v1.36h-1.15zM638.17 467.94h1.15v1.36h-1.15zM638.17 511.14h1.15v1.36h-1.15zM639.10 472.26h1.15v1.36h-1.15zM639.10 478.02h1.15v1.36h-1.15zM640.03 518.34h1.15v1.36h-1.15zM641.89 463.62h1.15v1.36h-1.15zM641.89 472.26h1.15v1.36h-1.15zM641.89 473.70h1.15v1.36h-1.15zM641.89 479.46h1.15v1.36h-1.15zM642.82 469.38h1.15v1.36h-1.15z"/>
<path fill="#008040" d="M616.78 460.74h1.15v1.36h-1.15zM616.78 470.82h1.15v1.36h-1.15zM616.78 473.70h1.15v1.36h-1.15zM616.78 496.74h1.15v1.36h-1.15zM616.78 498.18h1.15v1.36h-1.15zM618.64 467.94h1.15v1.36h-1.15zM618.64 469.38h1.15v1.36h-1.15zM618.64 472.26h1.15v1.36h-1.15zM618.64 473.70h1.15v1.36h-1.15zM618.64 495.30h1.15v1.36h-1.15zM618.64 496.74h1.15v1.36h-1.15zM618.64 498.18h1.15v1.36h-1.15zM619.57 459.30h1.15v1.36h-1.15zM619.57 470.82h1.15v1.36h-1.15zM619.57 475.14h1.15v1.36h-1.15zM619.57 478.02h1.15v1.36h-1.15zM619.57 499.62h1.15v1.36h-1.15zM620.50 457.86h1.15v1.36h-1.15zM621.43 454.98h1.15v1.36h-1.15zM621.43 456.42h1.15v1.36h-1.15zM621.43 460.74h1.15v1.36h-1.15zM621.43 476.58h1.15v1.36h-1.15zM621.43 478.02h1.15v1.36h-1.15zM621.43 493.86h1.15v1.36h-1.15zM621.43 501.06h1.15v1.36h-1.15zM622.36 456.42h1.15v1.36h-1.15zM622.36 462.18h1.15v1.36h-1.15zM623.29 453.54h1.15v1.36h-1.15zM623.29 459.30h1.15v1.36h-1.15zM623.29 465.06h1.15v1.36h-1.15zM623.29 501.06h1.15v1.36h-1.15zM624.22 457.86h1.15v1.36h-1.15zM624.22 460.74h1.15v1.36h-1.15zM624.22 473.70h1.15v1.36h-1.15zM625.15 496.74h1.15v1.36h-1.15zM626.08 460.74h1.15v1.36h-1.15zM626.08 462.18h1.15v1.36h-1.15zM626.08 463.62h1.15v1.36h-1.15zM627.01 462.18h1.15v1.36h-1.15zM627.01 465.06h1.15v1.36h-1.15zM627.94 459.30h1.15v1.36h-1.15zM627.94 462.18h1.15v1.36h-1.15zM628.87 466.50h1.15v1.36h-1.15zM629.80 456.42h1.15v1.36h-1.15zM629.80 459.30h1.15v1.36h-1.15zM629.80 466.50h1.15v1.36h-1.15zM629.80 498.18h1.15v1.36h-1.15zM630.73 456.42h1.15v1.36h-1.15zM630.73 467.94h1.15v1.36h-1.15zM631.66 459.30h1.15v1.36h-1.15zM632.59 453.54h1.15v1.36h-1.15zM632.59 456.42h1.15v1.36h-1.15zM632.59 457.86h1.15v1.36h-1.15zM632.59 460.74h1.15v1.36h-1.15zM632.59 467.94h1.15v1.36h-1.15zM632.59 469.38h1.15v1.36h-1.15zM633.52 460.74h1.15v1.36h-1.15zM635.38 466.50h1.15v1.36h-1.15zM635.38 467.94h1.15v1.36h-1.15zM635.38 473.70h1.15v1.36h-1.15zM637.24 453.54h1.15v1.36h-1.15zM637.24 456.42h1.15v1.36h-1.15zM638.17 479.46h1.15v1.36h-1.15zM642.82 482.34h1.15v1.36h-1.15z"/>
<path fill="#408080" d="M614.92 496.74h1.15v1.36h-1.15zM615.85 470.82h1.15v1.36h-1.15zM619.57 457.86h1.15v1.36h-1.15zM619.57 472.26h1.15v1.36h-1.15zM620.50 472.26h1.15v1.36h-1.15zM620.50 499.62h1.15v1.36h-1.15zM621.43 473.70h1.15v1.36h-1.15zM621.43 498.18h1.15v1.36h-1.15zM621.43 499.62h1.15v1.36h-1.15zM622.36 459.30h1.15v1.36h-1.15zM622.36 460.74h1.15v1.36h-1.15zM622.36 465.06h1.15v1.36h-1.15zM622.36 475.14h1.15v1.36h-1.15zM622.36 496.74h1.15v1.36h-1.15zM622.36 498.18h1.15v1.36h-1.15zM623.29 476.58h1.15v1.36h-1.15zM623.29 479.46h1.15v1.36h-1.15zM624.22 475.14h1.15v1.36h-1.15zM624.22 476.58h1.15v1.36h-1.15zM624.22 478.02h1.15v1.36h-1.15zM624.22 501.06h1.15v1.36h-1.15zM625.15 460.74h1.15v1.36h-1.15zM625.15 479.46h1.15v1.36h-1.15zM625.15 498.18h1.15v1.36h-1.15zM626.08 459.30h1.15v1.36h-1.15zM626.08 480.90h1.15v1.36h-1.15zM626.08 498.18h1.15v1.36h-1.15zM627.01 460.74h1.15v1.36h-1.15zM627.01 479.46h1.15v1.36h-1.15zM627.94 475.14h1.15v1.36h-1.15zM627.94 498.18h1.15v1.36h-1.15zM628.87 479.46h1.15v1.36h-1.15zM629.80 475.14h1.15v1.36h-1.15zM630.73 473.70h1.15v1.36h-1.15zM631.66 465.06h1.15v1.36h-1.15zM632.59 466.50h1.15v1.36h-1.15zM632.59 470.82h1.15v1.36h-1.15zM634.45 460.74h1.15v1.36h-1.15zM634.45 472.26h1.15v1.36h-1.15zM635.38 472.26h1.15v1.36h-1.15zM636.31 456.42h1.15v1.36h-1.15zM637.24 459.30h1.15v1.36h-1.15zM638.17 473.70h1.15v1.36h-1.15zM640.96 460.74h1.15v1.36h-1.15zM640.96 462.18h1.15v1.36h-1.15zM641.89 460.74h1.15v1.36h-1.15z"/>
<path fill="#ffff00" d="M615.85 472.26h1.15v1.36h-1.15zM620.50 469.38h1.15v1.36h-1.15zM620.50 475.14h1.15v1.36h-1.15zM622.36 472.26h1.15v1.36h-1.15zM622.36 473.70h1.15v1.36h-1.15zM622.36 476.58h1.15v1.36h-1.15zM622.36 495.30h1.15v1.36h-1.15zM622.36 499.62h1.15v1.36h-1.15zM623.29 470.82h1.15v1.36h-1.15zM623.29 473.70h1.15v1.36h-1.15zM623.29 475.14h1.15v1.36h-1.15zM623.29 478.02h1.15v1.36h-1.15zM623.29 499.62h1.15v1.36h-1.15zM625.15 473.70h1.15v1.36h-1.15zM625.15 475.14h1.15v1.36h-1.15zM626.08 473.70h1.15v1.36h-1.15zM627.01 498.18h1.15v1.36h-1.15zM627.94 473.70h1.15v1.36h-1.15zM629.80 463.62h1.15v1.36h-1.15zM630.73 457.86h1.15v1.36h-1.15zM630.73 465.06h1.15v1.36h-1.15zM630.73 466.50h1.15v1.36h-1.15zM630.73 469.38h1.15v1.36h-1.15zM630.73 476.58h1.15v1.36h-1.15zM631.66 457.86h1.15v1.36h-1.15zM631.66 462.18h1.15v1.36h-1.15zM631.66 473.70h1.15v1.36h-1.15zM631.66 479.46h1.15v1.36h-1.15zM632.59 459.30h1.15v1.36h-1.15zM632.59 465.06h1.15v1.36h-1.15zM632.59 472.26h1.15v1.36h-1.15zM633.52 454.98h1.15v1.36h-1.15zM633.52 467.94h1.15v1.36h-1.15zM633.52 469.38h1.15v1.36h-1.15zM634.45 469.38h1.15v1.36h-1.15zM634.45 478.02h1.15v1.36h-1.15zM635.38 463.62h1.15v1.36h-1.15zM635.38 469.38h1.15v1.36h-1.15z"/>
<path fill="#ffc080" d="M619.57 496.74h1.15v1.36h-1.15zM621.43 472.26h1.15v1.36h-1.15zM625.15 469.38h1.15v1.36h-1.15zM625.15 470.82h1.15v1.36h-1.15zM625.15 476.58h1.15v1.36h-1.15zM625.15 499.62h1.15v1.36h-1.15zM626.08 470.82h1.15v1.36h-1.15zM626.08 475.14h1.15v1.36h-1.15zM627.01 469.38h1.15v1.36h-1.15zM627.01 473.70h1.15v1.36h-1.15zM627.94 469.38h1.15v1.36h-1.15zM627.94 472.26h1.15v1.36h-1.15zM628.87 472.26h1.15v1.36h-1.15zM629.80 462.18h1.15v1.36h-1.15zM629.80 470.82h1.15v1.36h-1.15zM629.80 476.58h1.15v1.36h-1.15zM629.80 478.02h1.15v1.36h-1.15zM629.80 479.46h1.15v1.36h-1.15zM630.73 478.02h1.15v1.36h-1.15zM631.66 467.94h1.15v1.36h-1.15zM631.66 469.38h1.15v1.36h-1.15zM631.66 478.02h1.15v1.36h-1.15zM632.59 478.02h1.15v1.36h-1.15zM633.52 466.50h1.15v1.36h-1.15zM633.52 470.82h1.15v1.36h-1.15zM633.52 475.14h1.15v1.36h-1.15zM633.52 476.58h1.15v1.36h-1.15zM634.45 465.06h1.15v1.36h-1.15zM634.45 470.82h1.15v1.36h-1.15zM634.45 476.58h1.15v1.36h-1.15zM635.38 459.30h1.15v1.36h-1.15z"/>
<path fill="#ff8000" d="M620.50 470.82h1.15v1.36h-1.15zM620.50 476.58h1.15v1.36h-1.15zM621.43 469.38h1.15v1.36h-1.15zM622.36 470.82h1.15v1.36h-1.15zM623.29 498.18h1.15v1.36h-1.15zM624.22 469.38h1.15v1.36h-1.15zM625.15 467.94h1.15v1.36h-1.15zM625.15 478.02h1.15v1.36h-1.15zM626.08 469.38h1.15v1.36h-1.15zM626.08 478.02h1.15v1.36h-1.15zM627.01 476.58h1.15v1.36h-1.15zM627.01 478.02h1.15v1.36h-1.15zM627.01 499.62h1.15v1.36h-1.15zM627.94 478.02h1.15v1.36h-1.15zM628.87 473.70h1.15v1.36h-1.15zM628.87 475.14h1.15v1.36h-1.15zM628.87 478.02h1.15v1.36h-1.15zM629.80 467.94h1.15v1.36h-1.15zM629.80 472.26h1.15v1.36h-1.15zM629.80 473.70h1.15v1.36h-1.15zM630.73 472.26h1.15v1.36h-1.15zM630.73 475.14h1.15v1.36h-1.15zM631.66 470.82h1.15v1.36h-1.15zM631.66 472.26h1.15v1.36h-1.15zM631.66 475.14h1.15v1.36h-1.15zM631.66 476.58h1.15v1.36h-1.15zM632.59 473.70h1.15v1.36h-1.15zM632.59 476.58h1.15v1.36h-1.15zM636.31 465.06h1.15v1.36h-1.15z"/>
<path fill="#ff0080" d="M621.43 470.82h1.15v1.36h-1.15zM622.36 469.38h1.15v1.36h-1.15zM623.29 469.38h1.15v1.36h-1.15zM624.22 470.82h1.15v1.36h-1.15zM624.22 472.26h1.15v1.36h-1.15zM624.22 499.62h1.15v1.36h-1.15zM626.08 476.58h1.15v1.36h-1.15zM627.01 472.26h1.15v1.36h-1.15zM627.01 475.14h1.15v1.36h-1.15zM627.94 470.82h1.15v1.36h-1.15zM627.94 476.58h1.15v1.36h-1.15zM629.80 469.38h1.15v1.36h-1.15zM632.59 475.14h1.15v1.36h-1.15zM634.45 473.70h1.15v1.36h-1.15z"/>
<path fill="#ff0000" d="M623.29 472.26h1.15v1.36h-1.15zM625.15 472.26h1.15v1.36h-1.15zM628.87 469.38h1.15v1.36h-1.15zM628.87 476.58h1.15v1.36h-1.15zM630.73 470.82h1.15v1.36h-1.15zM633.52 472.26h1.15v1.36h-1.15z"/>
<path fill="#c00000" d="M628.87 470.82h1.15v1.36h-1.15z"/>
<path fill="#800000" d="M627.01 470.82h1.15v1.36h-1.15z"/>
<path fill="#000000" d="M626.08 472.26h1.15v1.36h-1.15z"/>
</g>
<path fill="none" stroke="#000" stroke-width="1.5" stroke-linejoin="round" d="M595.6 182.0 L596.0 185.8 L596.6 189.6 L597.7 193.9 L601.3 195.3 L605.1 196.2 L607.9 196.6 L606.0 197.4 L610.8 199.4 L615.5 200.4 L621.2 201.3 L628.4 202.1 L628.4 203.1 L621.6 202.9 L628.8 205.3 L636.4 206.5 L637.9 208.0 L645.9 209.1 L655.4 210.1 L663.9 211.0 L668.7 211.8 L681.9 212.2 L683.5 213.3 L681.9 214.1 L672.4 214.4 L665.8 214.8 L663.9 216.1 L657.3 217.3 L649.7 218.0 L638.3 218.8 L628.8 219.6 L626.5 220.9 L619.3 221.5 L612.7 222.0 L606.0 223.0 L601.3 223.9 L598.5 226.0 L595.6 227.7"/>
<g shape-rendering="crispEdges">
<path fill="#ff55ff" d="M249.25 493.57h2.10v2.10h-2.10zM249.25 505.18h2.10v2.10h-2.10zM250.85 503.72h2.10v2.10h-2.10zM250.85 506.62h2.10v2.10h-2.10zM250.85 519.68h2.10v2.10h-2.10zM252.45 490.68h2.10v2.10h-2.10zM252.45 492.12h2.10v2.10h-2.10zM252.45 503.72h2.10v2.10h-2.10zM252.45 522.58h2.10v2.10h-2.10zM254.05 503.72h2.10v2.10h-2.10zM254.05 516.78h2.10v2.10h-2.10zM254.05 521.12h2.10v2.10h-2.10zM254.05 524.03h2.10v2.10h-2.10zM255.65 522.58h2.10v2.10h-2.10zM258.85 457.32h2.10v2.10h-2.10zM258.85 461.68h2.10v2.10h-2.10zM260.45 457.32h2.10v2.10h-2.10zM260.45 460.22h2.10v2.10h-2.10zM324.45 403.68h2.10v2.10h-2.10zM326.05 402.22h2.10v2.10h-2.10zM326.05 403.68h2.10v2.10h-2.10zM326.05 405.12h2.10v2.10h-2.10zM326.05 406.57h2.10v2.10h-2.10zM326.05 408.02h2.10v2.10h-2.10zM327.65 403.68h2.10v2.10h-2.10zM329.25 396.43h2.10v2.10h-2.10zM329.25 399.32h2.10v2.10h-2.10zM329.25 402.22h2.10v2.10h-2.10zM329.25 406.57h2.10v2.10h-2.10zM330.85 402.22h2.10v2.10h-2.10zM354.85 503.72h2.10v2.10h-2.10zM354.85 510.97h2.10v2.10h-2.10zM354.85 513.88h2.10v2.10h-2.10zM356.45 508.07h2.10v2.10h-2.10zM356.45 512.43h2.10v2.10h-2.10zM356.45 513.88h2.10v2.10h-2.10zM356.45 515.33h2.10v2.10h-2.10zM358.05 506.62h2.10v2.10h-2.10zM358.05 513.88h2.10v2.10h-2.10zM358.05 554.48h2.10v2.10h-2.10zM358.05 555.92h2.10v2.10h-2.10zM358.05 558.83h2.10v2.10h-2.10zM359.65 490.68h2.10v2.10h-2.10zM359.65 554.48h2.10v2.10h-2.10zM361.25 492.12h2.10v2.10h-2.10zM361.25 493.57h2.10v2.10h-2.10zM361.25 495.02h2.10v2.10h-2.10zM361.25 555.92h2.10v2.10h-2.10zM362.85 495.02h2.10v2.10h-2.10zM362.85 553.03h2.10v2.10h-2.10zM362.85 557.38h2.10v2.10h-2.10zM364.45 490.68h2.10v2.10h-2.10zM364.45 492.12h2.10v2.10h-2.10zM366.05 499.37h2.10v2.10h-2.10zM377.25 461.68h2.10v2.10h-2.10zM378.85 452.97h2.10v2.10h-2.10zM378.85 458.77h2.10v2.10h-2.10zM380.45 451.52h2.10v2.10h-2.10zM380.45 454.43h2.10v2.10h-2.10zM380.45 455.87h2.10v2.10h-2.10zM380.45 461.68h2.10v2.10h-2.10zM380.45 471.82h2.10v2.10h-2.10zM382.05 434.12h2.10v2.10h-2.10zM382.05 454.43h2.10v2.10h-2.10zM382.05 460.22h2.10v2.10h-2.10zM382.05 464.57h2.10v2.10h-2.10zM383.65 431.22h2.10v2.10h-2.10zM383.65 448.62h2.10v2.10h-2.10zM383.65 455.87h2.10v2.10h-2.10zM383.65 466.02h2.10v2.10h-2.10zM383.65 467.47h2.10v2.10h-2.10zM383.65 471.82h2.10v2.10h-2.10zM383.65 473.27h2.10v2.10h-2.10zM385.25 434.12h2.10v2.10h-2.10zM385.25 435.57h2.10v2.10h-2.10zM385.25 448.62h2.10v2.10h-2.10zM385.25 476.18h2.10v2.10h-2.10zM385.25 483.43h2.10v2.10h-2.10zM386.85 447.18h2.10v2.10h-2.10zM386.85 450.07h2.10v2.10h-2.10zM386.85 468.93h2.10v2.10h-2.10zM386.85 473.27h2.10v2.10h-2.10zM386.85 474.72h2.10v2.10h-2.10zM386.85 481.97h2.10v2.10h-2.10zM388.45 451.52h2.10v2.10h-2.10zM388.45 457.32h2.10v2.10h-2.10zM388.45 479.07h2.10v2.10h-2.10zM388.45 483.43h2.10v2.10h-2.10zM388.45 486.32h2.10v2.10h-2.10zM390.05 452.97h2.10v2.10h-2.10zM390.05 458.77h2.10v2.10h-2.10zM390.05 460.22h2.10v2.10h-2.10zM390.05 486.32h2.10v2.10h-2.10zM390.05 487.77h2.10v2.10h-2.10zM390.05 489.22h2.10v2.10h-2.10zM391.65 457.32h2.10v2.10h-2.10zM391.65 458.77h2.10v2.10h-2.10zM391.65 492.12h2.10v2.10h-2.10zM393.25 455.87h2.10v2.10h-2.10zM393.25 463.12h2.10v2.10h-2.10zM393.25 467.47h2.10v2.10h-2.10zM393.25 468.93h2.10v2.10h-2.10zM393.25 486.32h2.10v2.10h-2.10zM393.25 493.57h2.10v2.10h-2.10zM394.85 463.12h2.10v2.10h-2.10zM394.85 467.47h2.10v2.10h-2.10zM394.85 486.32h2.10v2.10h-2.10zM396.45 468.93h2.10v2.10h-2.10zM396.45 471.82h2.10v2.10h-2.10zM396.45 473.27h2.10v2.10h-2.10zM396.45 474.72h2.10v2.10h-2.10zM396.45 487.77h2.10v2.10h-2.10zM398.05 458.77h2.10v2.10h-2.10zM398.05 464.57h2.10v2.10h-2.10zM398.05 466.02h2.10v2.10h-2.10zM398.05 467.47h2.10v2.10h-2.10zM398.05 473.27h2.10v2.10h-2.10zM398.05 474.72h2.10v2.10h-2.10zM398.05 476.18h2.10v2.10h-2.10zM398.05 477.62h2.10v2.10h-2.10zM399.65 457.32h2.10v2.10h-2.10zM399.65 467.47h2.10v2.10h-2.10zM399.65 468.93h2.10v2.10h-2.10zM399.65 474.72h2.10v2.10h-2.10zM401.25 490.68h2.10v2.10h-2.10zM404.45 460.22h2.10v2.10h-2.10zM404.45 463.12h2.10v2.10h-2.10zM404.45 464.57h2.10v2.10h-2.10z"/>
<path fill="#8000ff" d="M247.65 493.57h2.10v2.10h-2.10zM249.25 492.12h2.10v2.10h-2.10zM249.25 506.62h2.10v2.10h-2.10zM250.85 502.27h2.10v2.10h-2.10zM252.45 516.78h2.10v2.10h-2.10zM252.45 519.68h2.10v2.10h-2.10zM263.65 461.68h2.10v2.10h-2.10zM327.65 400.77h2.10v2.10h-2.10zM327.65 408.02h2.10v2.10h-2.10zM356.45 510.97h2.10v2.10h-2.10zM358.05 509.52h2.10v2.10h-2.10zM359.65 513.88h2.10v2.10h-2.10zM361.25 557.38h2.10v2.10h-2.10zM362.85 492.12h2.10v2.10h-2.10zM362.85 493.57h2.10v2.10h-2.10zM364.45 493.57h2.10v2.10h-2.10zM364.45 495.02h2.10v2.10h-2.10zM366.05 502.27h2.10v2.10h-2.10zM367.65 500.82h2.10v2.10h-2.10zM380.45 457.32h2.10v2.10h-2.10zM380.45 458.77h2.10v2.10h-2.10zM382.05 451.52h2.10v2.10h-2.10zM382.05 452.97h2.10v2.10h-2.10zM383.65 457.32h2.10v2.10h-2.10zM383.65 468.93h2.10v2.10h-2.10zM383.65 474.72h2.10v2.10h-2.10zM385.25 431.22h2.10v2.10h-2.10zM385.25 432.68h2.10v2.10h-2.10zM385.25 450.07h2.10v2.10h-2.10zM385.25 464.57h2.10v2.10h-2.10zM385.25 467.47h2.10v2.10h-2.10zM385.25 471.82h2.10v2.10h-2.10zM386.85 451.52h2.10v2.10h-2.10zM386.85 479.07h2.10v2.10h-2.10zM388.45 454.43h2.10v2.10h-2.10zM388.45 455.87h2.10v2.10h-2.10zM388.45 477.62h2.10v2.10h-2.10zM388.45 481.97h2.10v2.10h-2.10zM390.05 457.32h2.10v2.10h-2.10zM390.05 477.62h2.10v2.10h-2.10zM390.05 481.97h2.10v2.10h-2.10zM391.65 460.22h2.10v2.10h-2.10zM391.65 463.12h2.10v2.10h-2.10zM391.65 489.22h2.10v2.10h-2.10zM393.25 489.22h2.10v2.10h-2.10zM396.45 464.57h2.10v2.10h-2.10zM396.45 470.37h2.10v2.10h-2.10zM396.45 476.18h2.10v2.10h-2.10zM396.45 480.52h2.10v2.10h-2.10zM396.45 483.43h2.10v2.10h-2.10zM396.45 486.32h2.10v2.10h-2.10zM398.05 461.68h2.10v2.10h-2.10zM398.05 468.93h2.10v2.10h-2.10zM398.05 486.32h2.10v2.10h-2.10zM399.65 487.77h2.10v2.10h-2.10zM401.25 466.02h2.10v2.10h-2.10z"/>
<path fill="#0000ff" d="M327.65 402.22h2.10v2.10h-2.10zM356.45 509.52h2.10v2.10h-2.10zM382.05 461.68h2.10v2.10h-2.10zM382.05 463.12h2.10v2.10h-2.10zM383.65 432.68h2.10v2.10h-2.10zM383.65 450.07h2.10v2.10h-2.10zM385.25 451.52h2.10v2.10h-2.10zM385.25 458.77h2.10v2.10h-2.10zM385.25 463.12h2.10v2.10h-2.10zM385.25 470.37h2.10v2.10h-2.10zM386.85 432.68h2.10v2.10h-2.10zM386.85 452.97h2.10v2.10h-2.10zM386.85 464.57h2.10v2.10h-2.10zM386.85 471.82h2.10v2.10h-2.10zM388.45 464.57h2.10v2.10h-2.10zM388.45 480.52h2.10v2.10h-2.10zM390.05 464.57h2.10v2.10h-2.10zM390.05 466.02h2.10v2.10h-2.10zM393.25 487.77h2.10v2.10h-2.10zM394.85 464.57h2.10v2.10h-2.10zM394.85 468.93h2.10v2.10h-2.10zM396.45 477.62h2.10v2.10h-2.10zM396.45 481.97h2.10v2.10h-2.10z"/>
<path fill="#0080ff" d="M250.85 492.12h2.10v2.10h-2.10zM252.45 518.23h2.10v2.10h-2.10zM327.65 406.57h2.10v2.10h-2.10zM329.25 405.12h2.10v2.10h-2.10zM358.05 510.97h2.10v2.10h-2.10zM382.05 458.77h2.10v2.10h-2.10zM385.25 466.02h2.10v2.10h-2.10zM385.25 474.72h2.10v2.10h-2.10zM386.85 461.68h2.10v2.10h-2.10zM386.85 470.37h2.10v2.10h-2.10zM388.45 460.22h2.10v2.10h-2.10zM388.45 468.93h2.10v2.10h-2.10zM388.45 470.37h2.10v2.10h-2.10zM391.65 486.32h2.10v2.10h-2.10zM394.85 466.02h2.10v2.10h-2.10zM394.85 471.82h2.10v2.10h-2.10zM394.85 473.27h2.10v2.10h-2.10zM394.85 480.52h2.10v2.10h-2.10z"/>
<path fill="#00ffff" d="M326.05 400.77h2.10v2.10h-2.10zM327.65 405.12h2.10v2.10h-2.10zM382.05 457.32h2.10v2.10h-2.10zM388.45 476.18h2.10v2.10h-2.10zM391.65 484.87h2.10v2.10h-2.10zM393.25 461.68h2.10v2.10h-2.10zM393.25 464.57h2.10v2.10h-2.10zM393.25 484.87h2.10v2.10h-2.10zM394.85 484.87h2.10v2.10h-2.10z"/>
<path fill="#00ff00" d="M254.05 519.68h2.10v2.10h-2.10zM358.05 508.07h2.10v2.10h-2.10zM382.05 455.87h2.10v2.10h-2.10zM383.65 458.77h2.10v2.10h-2.10zM383.65 460.22h2.10v2.10h-2.10zM383.65 463.12h2.10v2.10h-2.10zM386.85 458.77h2.10v2.10h-2.10zM388.45 458.77h2.10v2.10h-2.10zM390.05 455.87h2.10v2.10h-2.10zM391.65 471.82h2.10v2.10h-2.10zM391.65 473.27h2.10v2.10h-2.10zM391.65 483.43h2.10v2.10h-2.10zM394.85 487.77h2.10v2.10h-2.10z"/>
<path fill="#008040" d="M250.85 493.57h2.10v2.10h-2.10zM385.25 457.32h2.10v2.10h-2.10zM385.25 460.22h2.10v2.10h-2.10zM388.45 452.97h2.10v2.10h-2.10zM388.45 461.68h2.10v2.10h-2.10zM388.45 466.02h2.10v2.10h-2.10zM388.45 473.27h2.10v2.10h-2.10zM390.05 461.68h2.10v2.10h-2.10zM390.05 483.43h2.10v2.10h-2.10zM391.65 464.57h2.10v2.10h-2.10zM391.65 466.02h2.10v2.10h-2.10zM393.25 473.27h2.10v2.10h-2.10zM393.25 474.72h2.10v2.10h-2.10zM393.25 483.43h2.10v2.10h-2.10zM394.85 470.37h2.10v2.10h-2.10zM394.85 481.97h2.10v2.10h-2.10zM394.85 483.43h2.10v2.10h-2.10z"/>
<path fill="#408080" d="M383.65 461.68h2.10v2.10h-2.10zM386.85 467.47h2.10v2.10h-2.10zM388.45 474.72h2.10v2.10h-2.10zM390.05 479.07h2.10v2.10h-2.10zM390.05 480.52h2.10v2.10h-2.10z"/>
<path fill="#ffff00" d="M385.25 461.68h2.10v2.10h-2.10zM386.85 457.32h2.10v2.10h-2.10zM388.45 463.12h2.10v2.10h-2.10zM390.05 454.43h2.10v2.10h-2.10zM390.05 463.12h2.10v2.10h-2.10zM390.05 473.27h2.10v2.10h-2.10zM390.05 474.72h2.10v2.10h-2.10zM391.65 477.62h2.10v2.10h-2.10zM393.25 477.62h2.10v2.10h-2.10zM393.25 479.07h2.10v2.10h-2.10zM394.85 479.07h2.10v2.10h-2.10z"/>
<path fill="#ffc080" d="M386.85 463.12h2.10v2.10h-2.10zM386.85 466.02h2.10v2.10h-2.10zM388.45 467.47h2.10v2.10h-2.10zM388.45 471.82h2.10v2.10h-2.10zM390.05 467.47h2.10v2.10h-2.10zM390.05 471.82h2.10v2.10h-2.10zM391.65 467.47h2.10v2.10h-2.10zM391.65 480.52h2.10v2.10h-2.10zM393.25 470.37h2.10v2.10h-2.10zM393.25 480.52h2.10v2.10h-2.10zM394.85 474.72h2.10v2.10h-2.10zM394.85 476.18h2.10v2.10h-2.10zM394.85 477.62h2.10v2.10h-2.10z"/>
<path fill="#ff8000" d="M383.65 452.97h2.10v2.10h-2.10zM383.65 454.43h2.10v2.10h-2.10zM383.65 464.57h2.10v2.10h-2.10zM385.25 454.43h2.10v2.10h-2.10zM390.05 468.93h2.10v2.10h-2.10zM391.65 470.37h2.10v2.10h-2.10zM391.65 476.18h2.10v2.10h-2.10zM393.25 481.97h2.10v2.10h-2.10z"/>
<path fill="#ff0080" d="M386.85 454.43h2.10v2.10h-2.10zM386.85 455.87h2.10v2.10h-2.10zM386.85 460.22h2.10v2.10h-2.10zM390.05 470.37h2.10v2.10h-2.10zM390.05 476.18h2.10v2.10h-2.10zM391.65 468.93h2.10v2.10h-2.10zM396.45 479.07h2.10v2.10h-2.10z"/>
<path fill="#ff0000" d="M385.25 455.87h2.10v2.10h-2.10zM391.65 479.07h2.10v2.10h-2.10zM393.25 466.02h2.10v2.10h-2.10z"/>
<path fill="#c00000" d="M391.65 481.97h2.10v2.10h-2.10zM393.25 476.18h2.10v2.10h-2.10z"/>
<path fill="#800000" d="M385.25 452.97h2.10v2.10h-2.10z"/>
<path fill="#ffffff" d="M391.65 474.72h2.10v2.10h-2.10zM393.25 471.82h2.10v2.10h-2.10z"/>
<rect x="294.03" y="473.99" width="2.3" height="2.3" fill="#ff55ff"/>
<rect x="294.03" y="476.08" width="2.3" height="2.3" fill="#ff55ff"/>
<rect x="301.43" y="475.89" width="2.3" height="2.3" fill="#ff55ff"/>
<rect x="297.54" y="482.06" width="2.3" height="2.3" fill="#ff55ff"/>
<rect x="293.56" y="484.43" width="2.3" height="2.3" fill="#ff55ff"/>
<rect x="294.98" y="486.04" width="2.3" height="2.3" fill="#ff55ff"/>
<rect x="294.03" y="492.68" width="2.3" height="2.3" fill="#ff55ff"/>
<rect x="294.50" y="479.02" width="2.3" height="2.3" fill="#ff55ff"/>
<rect x="297.45" y="485.38" width="2.3" height="2.3" fill="#ff55ff"/>
<rect x="294.03" y="499.13" width="2.3" height="2.3" fill="#ff55ff"/>
<rect x="293.31" y="462.93" width="0.9" height="2.6" fill="#8000ff"/>
<rect x="294.79" y="489.46" width="2.3" height="2.3" fill="#8000ff"/>
<rect x="295.17" y="477.31" width="2.3" height="2.3" fill="#8000ff"/>
<rect x="294.98" y="494.20" width="2.3" height="2.3" fill="#8000ff"/>
<rect x="289.29" y="495.34" width="2.3" height="2.3" fill="#8000ff"/>
<rect x="297.54" y="479.02" width="2.3" height="2.3" fill="#0000ff"/>
<rect x="293.27" y="481.87" width="2.3" height="2.3" fill="#0000ff"/>
<rect x="297.54" y="487.94" width="2.3" height="2.3" fill="#0000ff"/>
<rect x="294.60" y="481.30" width="2.3" height="2.3" fill="#0000ff"/>
<rect x="292.13" y="496.29" width="2.3" height="2.3" fill="#0000ff"/>
<rect x="295.93" y="494.87" width="2.3" height="2.3" fill="#0000ff"/>
<rect x="290.99" y="500.75" width="2.3" height="2.3" fill="#0000ff"/>
<rect x="296.12" y="487.75" width="2.3" height="2.3" fill="#0080ff"/>
<rect x="298.58" y="465.93" width="2.3" height="2.3" fill="#00ffff"/>
<rect x="295.93" y="484.43" width="2.3" height="2.3" fill="#00ffff"/>
<rect x="298.30" y="491.07" width="2.3" height="2.3" fill="#00ffff"/>
<rect x="300.67" y="490.12" width="2.3" height="2.3" fill="#00ffff"/>
<rect x="295.93" y="471.62" width="2.3" height="2.3" fill="#00ff00"/>
<rect x="295.74" y="481.58" width="2.3" height="2.3" fill="#00ff00"/>
<rect x="300.86" y="492.02" width="2.3" height="2.3" fill="#00ff00"/>
<rect x="292.61" y="500.75" width="2.3" height="2.3" fill="#00ff00"/>
<rect x="294.03" y="467.83" width="2.3" height="2.3" fill="#008040"/>
<rect x="293.27" y="466.12" width="2.3" height="2.3" fill="#008040"/>
<rect x="298.77" y="475.89" width="2.3" height="2.3" fill="#008040"/>
<rect x="293.84" y="487.75" width="2.3" height="2.3" fill="#008040"/>
<rect x="290.99" y="495.05" width="2.3" height="2.3" fill="#008040"/>
<rect x="296.40" y="468.96" width="2.3" height="2.3" fill="#408080"/>
<rect x="295.93" y="490.60" width="2.3" height="2.3" fill="#408080"/>
<rect x="296.12" y="492.68" width="2.3" height="2.3" fill="#408080"/>
<rect x="295.93" y="465.93" width="2.3" height="2.3" fill="#ffff00"/>
<rect x="300.86" y="465.93" width="2.3" height="2.3" fill="#ffff00"/>
<rect x="293.08" y="471.62" width="2.3" height="2.3" fill="#ffff00"/>
<rect x="293.27" y="497.71" width="2.3" height="2.3" fill="#ffff00"/>
<rect x="295.93" y="478.74" width="2.3" height="2.3" fill="#ff8000"/>
<rect x="300.86" y="471.62" width="2.3" height="2.3" fill="#ff0080"/>
<rect x="296.12" y="473.99" width="2.3" height="2.3" fill="#ff0080"/>
<rect x="296.12" y="476.08" width="2.3" height="2.3" fill="#ff0000"/>
<rect x="293.27" y="495.34" width="2.3" height="2.3" fill="#ff0000"/>
<rect x="298.77" y="473.99" width="2.3" height="2.3" fill="#c00000"/>
<rect x="290.99" y="497.71" width="2.3" height="2.3" fill="#c00000"/>
<rect x="298.49" y="471.62" width="2.3" height="2.3" fill="#000000"/>
<rect x="301.15" y="468.96" width="2.3" height="2.3" fill="#808080"/>
<rect x="298.77" y="468.96" width="2.3" height="2.3" fill="#c0c0c0"/>
<path fill="#ff55ff" d="M259.9 451.0h1.2v1.2h-1.2zM258.0 458.5h1.2v1.2h-1.2zM255.5 469.5h1.2v1.2h-1.2zM371.0 562.4h1.2v1.2h-1.2zM345.4 588.5h1.2v1.2h-1.2zM358.0 568.3h1.2v1.2h-1.2zM415.0 425.0h1.2v1.2h-1.2zM373.5 433.7h1.2v1.2h-1.2zM364.0 561.0h1.2v1.2h-1.2zM404.0 479.0h1.2v1.2h-1.2zM368.0 450.0h1.2v1.2h-1.2zM386.0 504.0h1.2v1.2h-1.2zM409.4 398.0h1.2v1.2h-1.2z"/>
</g>
<g opacity="0.999">
<rect x="73.50" y="41.50" width="615.00" height="88.90" fill="none" stroke="#000" stroke-width="1.1"/>
<line x1="73.50" y1="130.40" x2="73.50" y2="125.50" stroke="#000" stroke-width="1.1"/>
<text x="48.84" y="142.00" font-size="11.55" textLength="48.12" lengthAdjust="spacingAndGlyphs" fill="#000" stroke="#000" stroke-width="0.22">17:00:00</text>
<line x1="176.00" y1="130.40" x2="176.00" y2="125.50" stroke="#000" stroke-width="1.1"/>
<text x="151.34" y="142.00" font-size="11.55" textLength="48.12" lengthAdjust="spacingAndGlyphs" fill="#000" stroke="#000" stroke-width="0.22">17:10:00</text>
<line x1="278.50" y1="130.40" x2="278.50" y2="125.50" stroke="#000" stroke-width="1.1"/>
<text x="253.84" y="142.00" font-size="11.55" textLength="48.12" lengthAdjust="spacingAndGlyphs" fill="#000" stroke="#000" stroke-width="0.22">17:20:00</text>
<line x1="381.00" y1="130.40" x2="381.00" y2="125.50" stroke="#000" stroke-width="1.1"/>
<text x="356.34" y="142.00" font-size="11.55" textLength="48.12" lengthAdjust="spacingAndGlyphs" fill="#000" stroke="#000" stroke-width="0.22">17:30:00</text>
<line x1="483.50" y1="130.40" x2="483.50" y2="125.50" stroke="#000" stroke-width="1.1"/>
<text x="458.84" y="142.00" font-size="11.55" textLength="48.12" lengthAdjust="spacingAndGlyphs" fill="#000" stroke="#000" stroke-width="0.22">17:40:00</text>
<line x1="586.00" y1="130.40" x2="586.00" y2="125.50" stroke="#000" stroke-width="1.1"/>
<text x="561.34" y="142.00" font-size="11.55" textLength="48.12" lengthAdjust="spacingAndGlyphs" fill="#000" stroke="#000" stroke-width="0.22">17:50:00</text>
<line x1="688.50" y1="130.40" x2="688.50" y2="125.50" stroke="#000" stroke-width="1.1"/>
<text x="663.84" y="142.00" font-size="11.55" textLength="48.12" lengthAdjust="spacingAndGlyphs" fill="#000" stroke="#000" stroke-width="0.22">18:00:00</text>
<line x1="73.50" y1="41.50" x2="78.40" y2="41.50" stroke="#000" stroke-width="1.1"/>
<text x="55.44" y="45.00" font-size="11.55" textLength="12.36" lengthAdjust="spacingAndGlyphs" fill="#000" stroke="#000" stroke-width="0.22">20</text>
<line x1="73.50" y1="86.40" x2="78.40" y2="86.40" stroke="#000" stroke-width="1.1"/>
<text x="55.44" y="89.90" font-size="11.55" textLength="12.36" lengthAdjust="spacingAndGlyphs" fill="#000" stroke="#000" stroke-width="0.22">10</text>
<line x1="73.50" y1="130.40" x2="78.40" y2="130.40" stroke="#000" stroke-width="1.1"/>
<text x="62.51" y="133.90" font-size="11.55" textLength="5.29" lengthAdjust="spacingAndGlyphs" fill="#000" stroke="#000" stroke-width="0.22">0</text>
<text x="11.85" y="86.00" font-size="11.55" textLength="67.29" lengthAdjust="spacingAndGlyphs" fill="#000" stroke="#000" stroke-width="0.22" transform="rotate(-90 45.5 86)">Altitude, km</text>
<rect x="73.50" y="157.50" width="484.00" height="87.70" fill="none" stroke="#000" stroke-width="1.1"/>
<line x1="73.50" y1="245.20" x2="73.50" y2="240.30" stroke="#000" stroke-width="1.1"/>
<text x="58.63" y="257.80" font-size="11.55" textLength="28.74" lengthAdjust="spacingAndGlyphs" fill="#000" stroke="#000" stroke-width="0.22">−400</text>
<line x1="134.00" y1="245.20" x2="134.00" y2="240.30" stroke="#000" stroke-width="1.1"/>
<text x="119.13" y="257.80" font-size="11.55" textLength="28.74" lengthAdjust="spacingAndGlyphs" fill="#000" stroke="#000" stroke-width="0.22">−300</text>
<line x1="194.50" y1="245.20" x2="194.50" y2="240.30" stroke="#000" stroke-width="1.1"/>
<text x="179.63" y="257.80" font-size="11.55" textLength="28.74" lengthAdjust="spacingAndGlyphs" fill="#000" stroke="#000" stroke-width="0.22">−200</text>
<line x1="255.00" y1="245.20" x2="255.00" y2="240.30" stroke="#000" stroke-width="1.1"/>
<text x="240.13" y="257.80" font-size="11.55" textLength="28.74" lengthAdjust="spacingAndGlyphs" fill="#000" stroke="#000" stroke-width="0.22">−100</text>
<line x1="315.50" y1="245.20" x2="315.50" y2="240.30" stroke="#000" stroke-width="1.1"/>
<text x="312.35" y="257.80" font-size="11.55" textLength="5.29" lengthAdjust="spacingAndGlyphs" fill="#000" stroke="#000" stroke-width="0.22">0</text>
<line x1="376.00" y1="245.20" x2="376.00" y2="240.30" stroke="#000" stroke-width="1.1"/>
<text x="365.79" y="257.80" font-size="11.55" textLength="19.43" lengthAdjust="spacingAndGlyphs" fill="#000" stroke="#000" stroke-width="0.22">100</text>
<line x1="436.50" y1="245.20" x2="436.50" y2="240.30" stroke="#000" stroke-width="1.1"/>
<text x="426.29" y="257.80" font-size="11.55" textLength="19.43" lengthAdjust="spacingAndGlyphs" fill="#000" stroke="#000" stroke-width="0.22">200</text>
<line x1="497.00" y1="245.20" x2="497.00" y2="240.30" stroke="#000" stroke-width="1.1"/>
<text x="486.79" y="257.80" font-size="11.55" textLength="19.43" lengthAdjust="spacingAndGlyphs" fill="#000" stroke="#000" stroke-width="0.22">300</text>
<line x1="557.50" y1="245.20" x2="557.50" y2="240.30" stroke="#000" stroke-width="1.1"/>
<text x="547.29" y="257.80" font-size="11.55" textLength="19.43" lengthAdjust="spacingAndGlyphs" fill="#000" stroke="#000" stroke-width="0.22">400</text>
<line x1="73.50" y1="157.50" x2="78.40" y2="157.50" stroke="#000" stroke-width="1.1"/>
<text x="55.44" y="161.00" font-size="11.55" textLength="12.36" lengthAdjust="spacingAndGlyphs" fill="#000" stroke="#000" stroke-width="0.22">20</text>
<line x1="73.50" y1="201.00" x2="78.40" y2="201.00" stroke="#000" stroke-width="1.1"/>
<text x="55.44" y="204.50" font-size="11.55" textLength="12.36" lengthAdjust="spacingAndGlyphs" fill="#000" stroke="#000" stroke-width="0.22">10</text>
<line x1="73.50" y1="245.20" x2="78.40" y2="245.20" stroke="#000" stroke-width="1.1"/>
<text x="62.51" y="248.70" font-size="11.55" textLength="5.29" lengthAdjust="spacingAndGlyphs" fill="#000" stroke="#000" stroke-width="0.22">0</text>
<text x="12.05" y="202.00" font-size="11.55" textLength="67.29" lengthAdjust="spacingAndGlyphs" fill="#000" stroke="#000" stroke-width="0.22" transform="rotate(-90 45.7 202)">Altitude, km</text>
<text x="275.84" y="263.40" font-size="11.55" textLength="78.72" lengthAdjust="spacingAndGlyphs" fill="#000" stroke="#000" stroke-width="0.22">East-West, km</text>
<rect x="595.50" y="157.50" width="93.00" height="87.80" fill="none" stroke="#000" stroke-width="1.1"/>
<line x1="595.50" y1="161.70" x2="600.40" y2="161.70" stroke="#000" stroke-width="1.1"/>
<text x="577.14" y="165.20" font-size="11.55" textLength="12.36" lengthAdjust="spacingAndGlyphs" fill="#000" stroke="#000" stroke-width="0.22">20</text>
<line x1="595.50" y1="201.30" x2="600.40" y2="201.30" stroke="#000" stroke-width="1.1"/>
<text x="577.14" y="204.80" font-size="11.55" textLength="12.36" lengthAdjust="spacingAndGlyphs" fill="#000" stroke="#000" stroke-width="0.22">10</text>
<line x1="595.50" y1="242.70" x2="600.40" y2="242.70" stroke="#000" stroke-width="1.1"/>
<text x="584.21" y="246.20" font-size="11.55" textLength="5.29" lengthAdjust="spacingAndGlyphs" fill="#000" stroke="#000" stroke-width="0.22">0</text>
<line x1="595.50" y1="245.30" x2="595.50" y2="240.40" stroke="#000" stroke-width="1.1"/>
<text x="592.55" y="257.80" font-size="11.55" textLength="5.29" lengthAdjust="spacingAndGlyphs" fill="#000" stroke="#000" stroke-width="0.22">0</text>
<line x1="648.60" y1="245.30" x2="648.60" y2="240.40" stroke="#000" stroke-width="1.1"/>
<text x="638.59" y="257.80" font-size="11.55" textLength="19.43" lengthAdjust="spacingAndGlyphs" fill="#000" stroke="#000" stroke-width="0.22">200</text>
<text x="613.42" y="165.60" font-size="8.66" textLength="58.17" lengthAdjust="spacingAndGlyphs" fill="#000" stroke="#000" stroke-width="0.22">5,744 sources</text>
<rect x="73.50" y="273.60" width="484.00" height="435.40" fill="none" stroke="#000" stroke-width="1.1"/>
<line x1="102.40" y1="709.00" x2="102.40" y2="704.10" stroke="#000" stroke-width="1.1"/>
<text x="87.53" y="721.80" font-size="11.55" textLength="28.74" lengthAdjust="spacingAndGlyphs" fill="#000" stroke="#000" stroke-width="0.22">−111</text>
<line x1="158.40" y1="709.00" x2="158.40" y2="704.10" stroke="#000" stroke-width="1.1"/>
<text x="143.53" y="721.80" font-size="11.55" textLength="28.74" lengthAdjust="spacingAndGlyphs" fill="#000" stroke="#000" stroke-width="0.22">−110</text>
<line x1="214.40" y1="709.00" x2="214.40" y2="704.10" stroke="#000" stroke-width="1.1"/>
<text x="199.53" y="721.80" font-size="11.55" textLength="28.74" lengthAdjust="spacingAndGlyphs" fill="#000" stroke="#000" stroke-width="0.22">−109</text>
<line x1="270.40" y1="709.00" x2="270.40" y2="704.10" stroke="#000" stroke-width="1.1"/>
<text x="255.53" y="721.80" font-size="11.55" textLength="28.74" lengthAdjust="spacingAndGlyphs" fill="#000" stroke="#000" stroke-width="0.22">−108</text>
<line x1="326.40" y1="709.00" x2="326.40" y2="704.10" stroke="#000" stroke-width="1.1"/>
<text x="311.53" y="721.80" font-size="11.55" textLength="28.74" lengthAdjust="spacingAndGlyphs" fill="#000" stroke="#000" stroke-width="0.22">−107</text>
<line x1="382.40" y1="709.00" x2="382.40" y2="704.10" stroke="#000" stroke-width="1.1"/>
<text x="367.53" y="721.80" font-size="11.55" textLength="28.74" lengthAdjust="spacingAndGlyphs" fill="#000" stroke="#000" stroke-width="0.22">−106</text>
<line x1="438.40" y1="709.00" x2="438.40" y2="704.10" stroke="#000" stroke-width="1.1"/>
<text x="423.53" y="721.80" font-size="11.55" textLength="28.74" lengthAdjust="spacingAndGlyphs" fill="#000" stroke="#000" stroke-width="0.22">−105</text>
<line x1="494.40" y1="709.00" x2="494.40" y2="704.10" stroke="#000" stroke-width="1.1"/>
<text x="479.53" y="721.80" font-size="11.55" textLength="28.74" lengthAdjust="spacingAndGlyphs" fill="#000" stroke="#000" stroke-width="0.22">−104</text>
<line x1="550.40" y1="709.00" x2="550.40" y2="704.10" stroke="#000" stroke-width="1.1"/>
<text x="535.53" y="721.80" font-size="11.55" textLength="28.74" lengthAdjust="spacingAndGlyphs" fill="#000" stroke="#000" stroke-width="0.22">−103</text>
<line x1="73.50" y1="671.22" x2="78.40" y2="671.22" stroke="#000" stroke-width="1.1"/>
<text x="55.44" y="674.72" font-size="11.55" textLength="12.36" lengthAdjust="spacingAndGlyphs" fill="#000" stroke="#000" stroke-width="0.22">31</text>
<line x1="73.50" y1="610.85" x2="78.40" y2="610.85" stroke="#000" stroke-width="1.1"/>
<text x="55.44" y="614.35" font-size="11.55" textLength="12.36" lengthAdjust="spacingAndGlyphs" fill="#000" stroke="#000" stroke-width="0.22">32</text>
<line x1="73.50" y1="550.48" x2="78.40" y2="550.48" stroke="#000" stroke-width="1.1"/>
<text x="55.44" y="553.98" font-size="11.55" textLength="12.36" lengthAdjust="spacingAndGlyphs" fill="#000" stroke="#000" stroke-width="0.22">33</text>
<line x1="73.50" y1="490.11" x2="78.40" y2="490.11" stroke="#000" stroke-width="1.1"/>
<text x="55.44" y="493.61" font-size="11.55" textLength="12.36" lengthAdjust="spacingAndGlyphs" fill="#000" stroke="#000" stroke-width="0.22">34</text>
<line x1="73.50" y1="429.74" x2="78.40" y2="429.74" stroke="#000" stroke-width="1.1"/>
<text x="55.44" y="433.24" font-size="11.55" textLength="12.36" lengthAdjust="spacingAndGlyphs" fill="#000" stroke="#000" stroke-width="0.22">35</text>
<line x1="73.50" y1="369.37" x2="78.40" y2="369.37" stroke="#000" stroke-width="1.1"/>
<text x="55.44" y="372.87" font-size="11.55" textLength="12.36" lengthAdjust="spacingAndGlyphs" fill="#000" stroke="#000" stroke-width="0.22">36</text>
<line x1="73.50" y1="309.00" x2="78.40" y2="309.00" stroke="#000" stroke-width="1.1"/>
<text x="55.44" y="312.50" font-size="11.55" textLength="12.36" lengthAdjust="spacingAndGlyphs" fill="#000" stroke="#000" stroke-width="0.22">37</text>
<text x="287.39" y="741.00" font-size="11.55" textLength="54.81" lengthAdjust="spacingAndGlyphs" fill="#000" stroke="#000" stroke-width="0.22">Longitude</text>
<text x="24.36" y="493.20" font-size="11.55" textLength="45.28" lengthAdjust="spacingAndGlyphs" fill="#000" stroke="#000" stroke-width="0.22" transform="rotate(-90 47 493.2)">Latitude</text>
<rect x="595.50" y="273.60" width="93.00" height="435.40" fill="none" stroke="#000" stroke-width="1.1"/>
<line x1="595.50" y1="273.60" x2="600.40" y2="273.60" stroke="#000" stroke-width="1.1"/>
<text x="570.07" y="277.10" font-size="11.55" textLength="19.43" lengthAdjust="spacingAndGlyphs" fill="#000" stroke="#000" stroke-width="0.22">400</text>
<line x1="595.50" y1="327.40" x2="600.40" y2="327.40" stroke="#000" stroke-width="1.1"/>
<text x="570.07" y="330.90" font-size="11.55" textLength="19.43" lengthAdjust="spacingAndGlyphs" fill="#000" stroke="#000" stroke-width="0.22">300</text>
<line x1="595.50" y1="382.10" x2="600.40" y2="382.10" stroke="#000" stroke-width="1.1"/>
<text x="570.07" y="385.60" font-size="11.55" textLength="19.43" lengthAdjust="spacingAndGlyphs" fill="#000" stroke="#000" stroke-width="0.22">200</text>
<line x1="595.50" y1="436.40" x2="600.40" y2="436.40" stroke="#000" stroke-width="1.1"/>
<text x="570.07" y="439.90" font-size="11.55" textLength="19.43" lengthAdjust="spacingAndGlyphs" fill="#000" stroke="#000" stroke-width="0.22">100</text>
<line x1="595.50" y1="490.80" x2="600.40" y2="490.80" stroke="#000" stroke-width="1.1"/>
<text x="584.21" y="494.30" font-size="11.55" textLength="5.29" lengthAdjust="spacingAndGlyphs" fill="#000" stroke="#000" stroke-width="0.22">0</text>
<line x1="595.50" y1="545.40" x2="600.40" y2="545.40" stroke="#000" stroke-width="1.1"/>
<text x="560.76" y="548.90" font-size="11.55" textLength="28.74" lengthAdjust="spacingAndGlyphs" fill="#000" stroke="#000" stroke-width="0.22">−100</text>
<line x1="595.50" y1="600.10" x2="600.40" y2="600.10" stroke="#000" stroke-width="1.1"/>
<text x="560.76" y="603.60" font-size="11.55" textLength="28.74" lengthAdjust="spacingAndGlyphs" fill="#000" stroke="#000" stroke-width="0.22">−200</text>
<line x1="595.50" y1="654.60" x2="600.40" y2="654.60" stroke="#000" stroke-width="1.1"/>
<text x="560.76" y="658.10" font-size="11.55" textLength="28.74" lengthAdjust="spacingAndGlyphs" fill="#000" stroke="#000" stroke-width="0.22">−300</text>
<line x1="595.50" y1="709.00" x2="600.40" y2="709.00" stroke="#000" stroke-width="1.1"/>
<text x="560.76" y="712.50" font-size="11.55" textLength="28.74" lengthAdjust="spacingAndGlyphs" fill="#000" stroke="#000" stroke-width="0.22">−400</text>
<line x1="595.50" y1="709.00" x2="595.50" y2="704.10" stroke="#000" stroke-width="1.1"/>
<text x="592.55" y="721.80" font-size="11.55" textLength="5.29" lengthAdjust="spacingAndGlyphs" fill="#000" stroke="#000" stroke-width="0.22">0</text>
<line x1="641.20" y1="709.00" x2="641.20" y2="704.10" stroke="#000" stroke-width="1.1"/>
<text x="634.72" y="721.80" font-size="11.55" textLength="12.36" lengthAdjust="spacingAndGlyphs" fill="#000" stroke="#000" stroke-width="0.22">10</text>
<line x1="688.00" y1="709.00" x2="688.00" y2="704.10" stroke="#000" stroke-width="1.1"/>
<text x="681.52" y="721.80" font-size="11.55" textLength="12.36" lengthAdjust="spacingAndGlyphs" fill="#000" stroke="#000" stroke-width="0.22">20</text>
<text x="607.85" y="741.00" font-size="11.55" textLength="67.29" lengthAdjust="spacingAndGlyphs" fill="#000" stroke="#000" stroke-width="0.22">Altitude, km</text>
<text x="654.00" y="491.80" font-size="11.55" textLength="91.60" lengthAdjust="spacingAndGlyphs" fill="#000" stroke="#000" stroke-width="0.22" transform="rotate(-90 699.8 491.8)">North-South, km</text>
<text x="207.25" y="33.30" font-size="17.34" textLength="346.50" lengthAdjust="spacingAndGlyphs" fill="#000" stroke="#000" stroke-width="0.22">LL LMA 1700-1800 UTC October 19, 2024</text>
<rect shape-rendering="crispEdges" x="68.50" y="763.50" width="23.10" height="24.70" fill="#ff55ff"/>
<rect shape-rendering="crispEdges" x="91.00" y="763.50" width="24.20" height="24.70" fill="#8000ff"/>
<rect shape-rendering="crispEdges" x="114.60" y="763.50" width="24.20" height="24.70" fill="#8000ff"/>
<rect shape-rendering="crispEdges" x="138.20" y="763.50" width="24.20" height="24.70" fill="#0000ff"/>
<rect shape-rendering="crispEdges" x="161.80" y="763.50" width="24.20" height="24.70" fill="#0000ff"/>
<rect shape-rendering="crispEdges" x="185.40" y="763.50" width="24.20" height="24.70" fill="#0080ff"/>
<rect shape-rendering="crispEdges" x="209.00" y="763.50" width="24.20" height="24.70" fill="#00ffff"/>
<rect shape-rendering="crispEdges" x="232.60" y="763.50" width="24.20" height="24.70" fill="#00ff00"/>
<rect shape-rendering="crispEdges" x="256.20" y="763.50" width="24.20" height="24.70" fill="#008040"/>
<rect shape-rendering="crispEdges" x="279.80" y="763.50" width="24.20" height="24.70" fill="#408080"/>
<rect shape-rendering="crispEdges" x="303.40" y="763.50" width="24.20" height="24.70" fill="#ffff00"/>
<rect shape-rendering="crispEdges" x="327.00" y="763.50" width="24.20" height="24.70" fill="#ffc080"/>
<rect shape-rendering="crispEdges" x="350.60" y="763.50" width="24.20" height="24.70" fill="#ff8000"/>
<rect shape-rendering="crispEdges" x="374.20" y="763.50" width="24.20" height="24.70" fill="#ff0080"/>
<rect shape-rendering="crispEdges" x="397.80" y="763.50" width="24.20" height="24.70" fill="#ff0000"/>
<rect shape-rendering="crispEdges" x="421.40" y="763.50" width="24.20" height="24.70" fill="#c00000"/>
<rect shape-rendering="crispEdges" x="445.00" y="763.50" width="24.20" height="24.70" fill="#800000"/>
<rect shape-rendering="crispEdges" x="468.60" y="763.50" width="24.20" height="24.70" fill="#000000"/>
<rect shape-rendering="crispEdges" x="492.20" y="763.50" width="24.20" height="24.70" fill="#808080"/>
<rect shape-rendering="crispEdges" x="515.80" y="763.50" width="24.20" height="24.70" fill="#c0c0c0"/>
<rect shape-rendering="crispEdges" x="539.40" y="763.50" width="25.10" height="24.70" fill="#ffffff"/>
<rect x="68.50" y="763.50" width="496.00" height="24.70" fill="none" stroke="#000" stroke-width="1.1"/>
<line x1="133.39" y1="788.20" x2="133.39" y2="785.40" stroke="#000" stroke-width="1.1"/>
<line x1="171.35" y1="788.20" x2="171.35" y2="785.40" stroke="#000" stroke-width="1.1"/>
<line x1="198.28" y1="788.20" x2="198.28" y2="785.40" stroke="#000" stroke-width="1.1"/>
<line x1="219.17" y1="788.20" x2="219.17" y2="785.40" stroke="#000" stroke-width="1.1"/>
<line x1="236.23" y1="788.20" x2="236.23" y2="785.40" stroke="#000" stroke-width="1.1"/>
<line x1="250.67" y1="788.20" x2="250.67" y2="785.40" stroke="#000" stroke-width="1.1"/>
<line x1="263.17" y1="788.20" x2="263.17" y2="785.40" stroke="#000" stroke-width="1.1"/>
<line x1="274.19" y1="788.20" x2="274.19" y2="785.40" stroke="#000" stroke-width="1.1"/>
<line x1="348.94" y1="788.20" x2="348.94" y2="785.40" stroke="#000" stroke-width="1.1"/>
<line x1="386.90" y1="788.20" x2="386.90" y2="785.40" stroke="#000" stroke-width="1.1"/>
<line x1="413.83" y1="788.20" x2="413.83" y2="785.40" stroke="#000" stroke-width="1.1"/>
<line x1="434.72" y1="788.20" x2="434.72" y2="785.40" stroke="#000" stroke-width="1.1"/>
<line x1="451.79" y1="788.20" x2="451.79" y2="785.40" stroke="#000" stroke-width="1.1"/>
<line x1="466.22" y1="788.20" x2="466.22" y2="785.40" stroke="#000" stroke-width="1.1"/>
<line x1="478.72" y1="788.20" x2="478.72" y2="785.40" stroke="#000" stroke-width="1.1"/>
<line x1="489.75" y1="788.20" x2="489.75" y2="785.40" stroke="#000" stroke-width="1.1"/>
<text x="65.05" y="802.00" font-size="11.55" textLength="5.29" lengthAdjust="spacingAndGlyphs" fill="#000" stroke="#000" stroke-width="0.22">1</text>
<line x1="284.06" y1="788.20" x2="284.06" y2="783.30" stroke="#000" stroke-width="1.1"/>
<text x="277.08" y="802.00" font-size="11.55" textLength="12.36" lengthAdjust="spacingAndGlyphs" fill="#000" stroke="#000" stroke-width="0.22">10</text>
<line x1="499.61" y1="788.20" x2="499.61" y2="783.30" stroke="#000" stroke-width="1.1"/>
<text x="489.10" y="802.00" font-size="11.55" textLength="19.43" lengthAdjust="spacingAndGlyphs" fill="#000" stroke="#000" stroke-width="0.22">100</text>
<text x="584.00" y="783.60" font-size="15.60" textLength="107.40" lengthAdjust="spacingAndGlyphs" fill="#000" stroke="#000" stroke-width="0.22">Sources/7 km</text>
<text x="692.60" y="779.70" font-size="10.90" textLength="5.40" lengthAdjust="spacingAndGlyphs" fill="#000" stroke="#000" stroke-width="0.22">2</text>
</g>
</svg></body></html>
